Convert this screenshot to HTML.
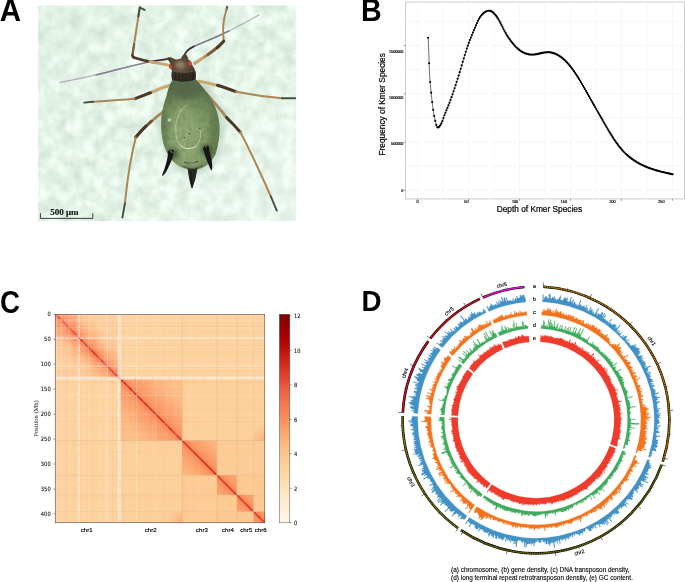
<!DOCTYPE html>
<html lang="en"><head><meta charset="utf-8"><title>Figure 1</title>
<style>
html,body{margin:0;padding:0;background:#fff;}
body{width:685px;height:582px;overflow:hidden;font-family:'Liberation Sans',Arial,sans-serif;}
svg{display:block;}
</style></head><body>
<svg width="685" height="582" viewBox="0 0 685 582">
<rect width="685" height="582" fill="#fff"/>
<g opacity="0.999">
<defs><filter id="paper" x="0" y="0" width="100%" height="100%" color-interpolation-filters="sRGB"><feTurbulence type="fractalNoise" baseFrequency="0.085 0.075" numOctaves="3" seed="11" result="n"/><feColorMatrix in="n" type="matrix" values="0.24 0 0 0 0.764  0.20 0 0 0 0.850  0.23 0 0 0 0.786  0 0 0 0 1"/><feGaussianBlur stdDeviation="0.5"/></filter><filter id="soft" x="-5%" y="-5%" width="110%" height="110%"><feGaussianBlur stdDeviation="0.65"/></filter><filter id="soft2" x="-20%" y="-20%" width="140%" height="140%"><feGaussianBlur stdDeviation="2.2"/></filter><filter id="soft3" x="-20%" y="-20%" width="140%" height="140%"><feGaussianBlur stdDeviation="1.1"/></filter><filter id="bodytex" x="0" y="0" width="100%" height="100%" color-interpolation-filters="sRGB"><feTurbulence type="fractalNoise" baseFrequency="0.22" numOctaves="2" seed="4" result="n"/><feColorMatrix in="n" type="matrix" values="0 0 0 0 0.25  0 0 0 0 0.33  0 0 0 0 0.2  1.6 0 0 0 -0.62"/></filter><clipPath id="phc"><rect x="38.0" y="5.4" width="257.9" height="215.5"/></clipPath><radialGradient id="bodyg" gradientUnits="userSpaceOnUse" cx="188" cy="134" r="46" fx="185" fy="140"><stop offset="0" stop-color="#93ac7a"/><stop offset="0.4" stop-color="#86a06d"/><stop offset="0.72" stop-color="#748d5e"/><stop offset="1" stop-color="#5a724b"/></radialGradient><radialGradient id="headg" cx="0.48" cy="0.42" r="0.6"><stop offset="0" stop-color="#86725a"/><stop offset="0.45" stop-color="#5b4a38"/><stop offset="1" stop-color="#3a2f25"/></radialGradient><linearGradient id="vig" x1="0" y1="0" x2="1" y2="1"><stop offset="0" stop-color="#d6e8dd" stop-opacity="0.3"/><stop offset="0.5" stop-color="#ffffff" stop-opacity="0.08"/><stop offset="1" stop-color="#f4fbf6" stop-opacity="0.4"/></linearGradient></defs><g clip-path="url(#phc)"><rect x="38.0" y="5.4" width="257.9" height="215.5" fill="#e2efe6"/><rect x="36.0" y="3.4000000000000004" width="261.9" height="219.5" filter="url(#paper)"/><rect x="38.0" y="5.4" width="257.9" height="215.5" fill="url(#vig)"/><ellipse cx="193" cy="128" rx="33" ry="47" fill="#b4c9ba" opacity="0.5" filter="url(#soft2)"/><g filter="url(#soft)"><path d="M166 59.3 C158 60.5 152 61.3 146 62.6 C120 68.5 92 76.5 60 82.5" stroke="#8d7f98" stroke-width="1.2" fill="none" stroke-linecap="round" stroke-linejoin="round" opacity="0.6"/><path d="M166 59.3 C158 60.5 152 61.3 146 62.6 C130 66 113 70.8 96 75" stroke="#6a577a" stroke-width="1.4" fill="none" stroke-linecap="round" stroke-linejoin="round" opacity="0.65"/><path d="M168.5 58.8 L152 61.3" stroke="#3a2a33" stroke-width="1.7" fill="none" stroke-linecap="round" stroke-linejoin="round" opacity="0.9"/><path d="M184.5 54.5 C187 50 193 46.5 199.5 44 C216 37.3 238 27 259 15" stroke="#8d7f98" stroke-width="1.2" fill="none" stroke-linecap="round" stroke-linejoin="round" opacity="0.6"/><path d="M184.5 54.5 C187 50 193 46.5 199.5 44 C209 40.2 219 35.8 229 31" stroke="#6a577a" stroke-width="1.4" fill="none" stroke-linecap="round" stroke-linejoin="round" opacity="0.7"/><path d="M184.3 55.5 C185.5 51.5 189 48.5 194 46.2" stroke="#3a2a33" stroke-width="1.6" fill="none" stroke-linecap="round" stroke-linejoin="round" opacity="0.9"/><path d="M144.6 9.9 L139.6 7.3" stroke="#3f5240" stroke-width="1.9" fill="none" stroke-linecap="round" stroke-linejoin="round" opacity="1"/><path d="M139.8 7.6 C138 20 134.6 40 132.3 56" stroke="#ab8757" stroke-width="2.0" fill="none" stroke-linecap="round" stroke-linejoin="round" opacity="1"/><path d="M139.8 7.4 C139.3 10.5 138.8 13.5 138.3 16.5" stroke="#3f5240" stroke-width="1.9" fill="none" stroke-linecap="round" stroke-linejoin="round" opacity="1"/><path d="M134.2 44 C133.5 48 132.9 52 132.3 56" stroke="#7a5c3a" stroke-width="2.1" fill="none" stroke-linecap="round" stroke-linejoin="round" opacity="1"/><path d="M132.3 55.5 L134 57.6" stroke="#4a3826" stroke-width="2.3" fill="none" stroke-linecap="round" stroke-linejoin="round" opacity="1"/><path d="M133 57.2 C139 59.3 147 61.2 155 62.4" stroke="#4a3826" stroke-width="2.5" fill="none" stroke-linecap="round" stroke-linejoin="round" opacity="1"/><path d="M150 61.6 C157 63 164 64.3 171 65.6" stroke="#c9a872" stroke-width="3.0" fill="none" stroke-linecap="round" stroke-linejoin="round" opacity="1"/><path d="M227.2 6.6 L226.3 10.5" stroke="#3f5240" stroke-width="1.9" fill="none" stroke-linecap="round" stroke-linejoin="round" opacity="1"/><path d="M226.5 9.5 C225 14 223.6 20 223.2 26 C222.9 31 223.2 36 223.7 40.6" stroke="#ab8757" stroke-width="2.0" fill="none" stroke-linecap="round" stroke-linejoin="round" opacity="1"/><path d="M218.3 46.6 C211 52.5 203 58.3 194.6 63.3" stroke="#a88a5f" stroke-width="2.9" fill="none" stroke-linecap="round" stroke-linejoin="round" opacity="1"/><path d="M203 58 C200 60 197.3 61.8 194.6 63.3" stroke="#c9a872" stroke-width="3.1" fill="none" stroke-linecap="round" stroke-linejoin="round" opacity="1"/><path d="M218.3 46.6 C215 49.5 211.5 52.2 208 54.6" stroke="#7a6040" stroke-width="2.9" fill="none" stroke-linecap="round" stroke-linejoin="round" opacity="1"/><path d="M223.7 41.2 C221.5 43.6 219.5 45.6 217.2 47.6" stroke="#4a3826" stroke-width="3.0" fill="none" stroke-linecap="round" stroke-linejoin="round" opacity="1"/><path d="M173 84.2 C165 86.5 156 90 148.5 93.6" stroke="#c9a872" stroke-width="3.0" fill="none" stroke-linecap="round" stroke-linejoin="round" opacity="1"/><path d="M150.5 92.7 C145 95 139.6 97 134.6 98.8" stroke="#4a3826" stroke-width="2.9" fill="none" stroke-linecap="round" stroke-linejoin="round" opacity="1"/><path d="M134.6 98.8 C120 100 105 101 93 101.8" stroke="#ab8757" stroke-width="2.0" fill="none" stroke-linecap="round" stroke-linejoin="round" opacity="1"/><path d="M93 101.8 L84.2 102.6" stroke="#3f5240" stroke-width="1.9" fill="none" stroke-linecap="round" stroke-linejoin="round" opacity="1"/><path d="M198.8 81.2 C205 82.3 212 84 219.5 85.9" stroke="#c9a872" stroke-width="3.0" fill="none" stroke-linecap="round" stroke-linejoin="round" opacity="1"/><path d="M217.5 85.3 C224 87.3 230 89.5 235.8 91.7" stroke="#4a3826" stroke-width="3.0" fill="none" stroke-linecap="round" stroke-linejoin="round" opacity="1"/><path d="M235.8 91.7 C250 94.4 266 96.8 282 98.2" stroke="#ab8757" stroke-width="2.0" fill="none" stroke-linecap="round" stroke-linejoin="round" opacity="1"/><path d="M282 98.2 L297 98.3" stroke="#3f5240" stroke-width="1.9" fill="none" stroke-linecap="round" stroke-linejoin="round" opacity="1"/><path d="M165 110.5 C160 114 154.5 118.5 149.5 123" stroke="#a88a5f" stroke-width="2.8" fill="none" stroke-linecap="round" stroke-linejoin="round" opacity="1"/><path d="M151.5 121.2 C146 126 140.5 131.5 135.8 137.2" stroke="#6a5238" stroke-width="2.9" fill="none" stroke-linecap="round" stroke-linejoin="round" opacity="1"/><path d="M146 126 C142 129.8 138.7 133.5 135.8 137.2" stroke="#4a3826" stroke-width="3.0" fill="none" stroke-linecap="round" stroke-linejoin="round" opacity="1"/><path d="M135.8 137.2 C130.5 158 127.2 180 124.9 203.5" stroke="#ab8757" stroke-width="2.0" fill="none" stroke-linecap="round" stroke-linejoin="round" opacity="1"/><path d="M124.9 203.5 L122.4 217.5" stroke="#3f5240" stroke-width="1.9" fill="none" stroke-linecap="round" stroke-linejoin="round" opacity="1"/><path d="M206.5 94 C213.5 101.5 221.5 111 229 120.5" stroke="#a88a5f" stroke-width="2.8" fill="none" stroke-linecap="round" stroke-linejoin="round" opacity="1"/><path d="M226.5 117.5 C231.5 122.3 236 127 240.2 132.1" stroke="#4a3826" stroke-width="3.0" fill="none" stroke-linecap="round" stroke-linejoin="round" opacity="1"/><path d="M240.2 132.1 C251.5 153 261.5 175.5 270.8 196.4" stroke="#ab8757" stroke-width="2.0" fill="none" stroke-linecap="round" stroke-linejoin="round" opacity="1"/><path d="M270.8 196.4 L276.8 210.6" stroke="#3f5240" stroke-width="1.9" fill="none" stroke-linecap="round" stroke-linejoin="round" opacity="1"/><path d="M172.5 79.5 C169.5 85 167.5 90.5 166.5 96 C163 106 160.6 117 161.2 128 C161.8 140 165 151 170.5 158.5 C175 164.3 181.5 168.3 188.5 169.4 C191.5 170 195.5 170 198.5 169.2 C206 167 212 161.5 215.5 154 C218 146 220 136 219.5 126 C219 113 213.5 101 207 92.5 C203.5 88 199.5 83.5 196 79.5 C189 77.3 179.5 77.3 172.5 79.5Z" fill="url(#bodyg)"/><clipPath id="bcl"><path d="M172.5 79.5 C169.5 85 167.5 90.5 166.5 96 C163 106 160.6 117 161.2 128 C161.8 140 165 151 170.5 158.5 C175 164.3 181.5 168.3 188.5 169.4 C191.5 170 195.5 170 198.5 169.2 C206 167 212 161.5 215.5 154 C218 146 220 136 219.5 126 C219 113 213.5 101 207 92.5 C203.5 88 199.5 83.5 196 79.5 C189 77.3 179.5 77.3 172.5 79.5Z"/></clipPath><g clip-path="url(#bcl)"><g filter="url(#soft2)"><ellipse cx="185" cy="87" rx="17" ry="12" fill="#556a4c" opacity="0.75"/><ellipse cx="216" cy="138" rx="7" ry="30" fill="#59733f" opacity="0.55"/><ellipse cx="163" cy="132" rx="5" ry="26" fill="#516e44" opacity="0.5"/><ellipse cx="190" cy="158" rx="17" ry="8" fill="#93ad78" opacity="0.55"/><ellipse cx="183" cy="123" rx="11" ry="18" fill="#97b07d" opacity="0.45"/><ellipse cx="173" cy="154" rx="6" ry="6" fill="#2e3a2a" opacity="0.65"/><ellipse cx="206.5" cy="150" rx="6" ry="6" fill="#2e3a2a" opacity="0.65"/></g><rect x="158" y="76" width="66" height="98" filter="url(#bodytex)" opacity="0.32"/></g><path d="M186.9 105.3 C182 108 179 112 178.3 116.5 C176 121 175.3 126 175.8 129.5 C176 137 177.5 142 180 144.8 C182.5 147.5 185 148.6 187.8 148.6 C191.5 148.6 194.5 147.5 196.4 145.6 C199 142.5 200.5 139 200.6 135.3 C200.7 132.5 200.4 130.5 199.8 128.5" stroke="#dcdcb6" stroke-width="0.75" fill="none" stroke-linecap="round" stroke-linejoin="round" opacity="0.7"/><path d="M180 144.8 C182.5 147.5 185 148.6 187.8 148.6 C191.5 148.6 194.5 147.5 196.4 145.6" stroke="#f0eed0" stroke-width="0.8" fill="none" stroke-linecap="round" stroke-linejoin="round" opacity="0.8"/><ellipse cx="169.3" cy="120" rx="1.6" ry="1.5" fill="#cfe0dc" opacity="0.85"/><circle cx="189.5" cy="133.6" r="0.9" fill="#5a2420" opacity="0.85"/><circle cx="199.8" cy="128.5" r="0.7" fill="#5a2420" opacity="0.85"/><circle cx="184.3" cy="137.6" r="0.7" fill="#5a2420" opacity="0.85"/><circle cx="164.8" cy="126.8" r="0.7" fill="#5a2420" opacity="0.85"/><circle cx="174" cy="138.8" r="0.6" fill="#5a2420" opacity="0.85"/><path d="M166.8 58.2 C168.5 56.8 171 57.2 173.5 58.6 C176 59.8 178.5 59.6 181 58.6 C182 56 183.2 54.2 185 54.2 C187 54.4 187.8 57 188.4 59.5 C190.5 60.5 192 62.5 192.4 65.5 C193.8 67.5 195.2 69.8 195.6 72.5 C196 75 195.8 77.5 195.3 79.6 C189 82.2 178.5 82.2 172.2 79.8 C171.4 77 171.4 73.5 172 70.5 C170.8 68.5 170 66 170.2 63.5 C169.5 61.5 168 59.8 166.8 58.2Z" fill="url(#headg)"/><ellipse cx="180" cy="64.8" rx="4.2" ry="3.2" fill="#9a866c" opacity="0.6" filter="url(#soft3)"/><path d="M172 71 C179 73.2 189 73 195 70.8 C196 73.8 196 77 195.3 79.6 C189 82.2 178.5 82.2 172.2 79.8 C171.5 77 171.5 74 172 71Z" fill="#2f2a22" opacity="0.8"/><path d="M175.5 73.5V79.5M179 74V80.5M182.5 74.2V80.8M186 74.2V80.7M189.5 73.8V80.2M192.7 73V79.5" stroke="#15120e" stroke-width="0.8" fill="none" stroke-linecap="round" stroke-linejoin="round" opacity="0.55"/><path d="M172.6 70.8 C179 73 189 72.8 194.8 70.6" stroke="#8b7a60" stroke-width="0.7" fill="none" stroke-linecap="round" stroke-linejoin="round" opacity="0.5"/><ellipse cx="170.5" cy="66.8" rx="1.5" ry="2.3" fill="#cf4634" transform="rotate(-15 170.5 66.8)"/><ellipse cx="190.2" cy="63.6" rx="1.6" ry="2.4" fill="#d24936" transform="rotate(-12 190.2 63.6)"/><path d="M168.9 152.2 C168.2 160 165.8 168 162.8 175 C164.6 173.5 170 164.5 172.8 154.4Z" fill="#181716" stroke="#181716" stroke-width="1.4" stroke-linejoin="round"/><path d="M204 149.2 C205.6 156 208.4 163 211.4 169.5 C212.2 165 210.4 156 207.8 147.6Z" fill="#181716" stroke="#181716" stroke-width="1.4" stroke-linejoin="round"/><path d="M168.6 151.8 C170 149.3 172.5 149.4 173.3 151.8" stroke="#141414" stroke-width="1.5" fill="none" stroke-linecap="round" stroke-linejoin="round" opacity="1"/><path d="M203.8 148.5 C204.6 145.8 207.6 145.6 208.6 148" stroke="#141414" stroke-width="1.5" fill="none" stroke-linecap="round" stroke-linejoin="round" opacity="1"/><path d="M170 150.4 L171.6 149.2M205.2 146.8 L206.6 145.8" stroke="#e8ece0" stroke-width="0.6" fill="none" stroke-linecap="round" stroke-linejoin="round" opacity="0.7"/><path d="M188.3 168.6 C189 175 190.2 182 192 187.6 C194.3 182 196 175 196.8 168.4 C194 170 191 170 188.3 168.6Z" fill="#262b25" stroke="#262b25" stroke-width="1.2" stroke-linejoin="round"/><path d="M190.5 172 C191 178 191.6 183 192.1 186.8" stroke="#151515" stroke-width="1.4" fill="none" stroke-linecap="round" stroke-linejoin="round" opacity="0.8"/><path d="M184.3 162.2 C188.5 164 194 163.6 198 161.2" stroke="#1f261c" stroke-width="1.0" fill="none" stroke-linecap="round" stroke-linejoin="round" opacity="0.75"/><path d="M187 163.4 C189.5 164 192 163.8 194.5 163" stroke="#e6eadc" stroke-width="0.5" fill="none" stroke-linecap="round" stroke-linejoin="round" opacity="0.6"/><path d="M183 166.3 C188 169.6 197 169.4 202.5 165.5" stroke="#3a4a32" stroke-width="1.1" fill="none" stroke-linecap="round" stroke-linejoin="round" opacity="0.6"/></g></g><path d="M40.4 213.1V218.4H92.8V213.1" stroke="#111" stroke-width="0.8" fill="none"/><text x="64.4" y="214.8" font-family="'Liberation Serif', 'Times New Roman', serif" font-weight="700" font-size="9" text-anchor="middle" fill="#111" stroke="#111" stroke-width="0.15">500 μm</text>
<rect x="405.5" y="2.0" width="279.0" height="196.9" fill="#fff" stroke="#cbcbcb" stroke-width="1"/>
<path d="M417.6 2.0V198.9M443.1 2.0V198.9M468.6 2.0V198.9M494.0 2.0V198.9M519.5 2.0V198.9M545.0 2.0V198.9M570.5 2.0V198.9M595.9 2.0V198.9M621.4 2.0V198.9M646.9 2.0V198.9M672.4 2.0V198.9M405.5 190.4H684.5M405.5 166.2H684.5M405.5 142.1H684.5M405.5 118.0H684.5M405.5 93.8H684.5M405.5 69.7H684.5M405.5 45.5H684.5M405.5 21.4H684.5" stroke="#f3f3f3" stroke-width="0.7" fill="none"/>
<path d="M417.6 198.9v1.8M468.6 198.9v1.8M519.5 198.9v1.8M570.5 198.9v1.8M621.4 198.9v1.8M672.4 198.9v1.8M405.5 190.4h-1.8M405.5 142.1h-1.8M405.5 93.8h-1.8M405.5 45.5h-1.8" stroke="#444" stroke-width="0.55" fill="none"/>
<path d="M428.1 37.7 L428.2 39.3 L428.3 40.9 L428.4 42.5 L428.4 44.2 L428.5 45.8 L428.6 47.4 L428.6 49.0 L428.7 50.6 L428.7 52.2 L428.8 53.8 L428.9 55.4 L428.9 57.0 L429.0 58.7 L429.0 60.3 L429.1 61.9 L429.1 63.5 L429.2 65.1 L429.2 66.7 L429.3 68.3 L429.4 69.9 L429.5 71.5 L429.5 73.2 L429.6 74.8 L429.7 76.4 L429.8 78.0 L429.9 79.6 L430.1 81.2 L430.2 82.8 L430.3 84.4 L430.5 86.0 L430.6 87.7 L430.8 89.3 L431.0 90.9 L431.1 92.5 L431.3 94.1 L431.5 95.7 L431.6 97.3 L431.8 98.8 L432.0 100.4 L432.2 102.0 L432.4 103.7 L432.6 105.3 L432.8 106.9 L433.0 108.6 L433.2 110.2 L433.5 111.8 L433.7 113.3 L434.0 114.8 L434.3 116.3 L434.5 117.7 L434.9 119.2 L435.2 120.9 L435.7 122.7 L436.2 124.8 L436.9 126.5 L437.7 127.5 L438.7 127.3 L439.9 126.0 L440.9 124.3 L441.7 122.7 L442.3 121.2 L442.8 119.8 L443.3 118.4 L443.8 116.9 L444.3 115.5 L444.9 114.0 L445.5 112.5 L446.1 111.0 L446.8 109.4 L447.4 107.9 L448.0 106.4 L448.7 104.9 L449.2 103.4 L449.8 101.8 L450.4 100.3 L450.9 98.8 L451.5 97.3 L452.0 95.8 L452.5 94.3 L453.1 92.8 L453.6 91.3 L454.1 89.7 L454.6 88.2 L455.1 86.7 L455.6 85.1 L456.1 83.6 L456.6 82.1 L457.1 80.5 L457.6 79.0 L458.1 77.5 L458.5 75.9 L459.0 74.4 L459.5 72.8 L460.0 71.3 L460.4 69.7 L460.9 68.2 L461.3 66.6 L461.8 65.1 L462.3 63.5 L462.7 62.0 L463.2 60.4 L463.6 58.9 L464.1 57.3 L464.5 55.8 L465.0 54.3 L465.5 52.7 L466.0 51.2 L466.5 49.6 L467.0 48.1 L467.5 46.6 L468.0 45.1 L468.6 43.5 L469.1 42.0 L469.7 40.5 L470.3 39.0 L470.9 37.5 L471.5 36.0 L472.1 34.5 L472.8 33.0 L473.4 31.5 L474.0 30.0 L474.6 28.6 L475.3 27.1 L475.9 25.6 L476.5 24.1 L477.1 22.7 L477.8 21.2 L478.5 19.8 L479.3 18.4 L480.2 17.0 L481.2 15.7 L482.3 14.4 L483.6 13.2 L485.0 12.2 L486.4 11.3 L487.9 10.8 L489.4 10.7 L490.8 11.1 L492.2 11.8 L493.5 12.8 L494.7 14.1 L495.9 15.5 L496.9 17.0 L497.9 18.4 L498.8 19.8 L499.6 21.3 L500.3 22.7 L501.1 24.1 L501.8 25.5 L502.5 26.9 L503.1 28.3 L503.8 29.7 L504.6 31.1 L505.3 32.5 L506.1 33.9 L507.0 35.2 L507.8 36.6 L508.7 38.0 L509.7 39.3 L510.6 40.6 L511.6 41.9 L512.6 43.2 L513.7 44.5 L514.8 45.7 L515.9 46.9 L517.0 48.0 L518.3 49.1 L519.5 50.1 L520.8 51.1 L522.2 51.9 L523.6 52.7 L525.1 53.3 L526.7 53.8 L528.3 54.2 L529.9 54.5 L531.5 54.6 L533.1 54.6 L534.7 54.4 L536.3 54.2 L537.9 53.9 L539.5 53.6 L541.1 53.2 L542.7 52.8 L544.3 52.5 L545.9 52.3 L547.5 52.2 L549.1 52.2 L550.6 52.4 L552.2 52.8 L553.8 53.2 L555.3 53.8 L556.8 54.5 L558.2 55.3 L559.6 56.1 L561.0 57.0 L562.2 58.0 L563.5 59.1 L564.7 60.1 L565.8 61.3 L567.0 62.4 L568.0 63.6 L569.1 64.8 L570.1 66.1 L571.1 67.4 L572.1 68.6 L573.1 70.0 L574.0 71.3 L574.9 72.6 L575.8 74.0 L576.7 75.3 L577.6 76.7 L578.4 78.0 L579.3 79.4 L580.1 80.8 L580.9 82.2 L581.7 83.6 L582.5 85.0 L583.4 86.4 L584.2 87.8 L585.0 89.1 L585.8 90.6 L586.6 92.0 L587.4 93.4 L588.2 94.8 L588.9 96.2 L589.7 97.6 L590.5 99.0 L591.3 100.4 L592.1 101.8 L592.9 103.2 L593.7 104.6 L594.5 106.0 L595.3 107.4 L596.1 108.8 L596.9 110.2 L597.7 111.6 L598.5 113.0 L599.3 114.4 L600.1 115.8 L600.9 117.2 L601.7 118.6 L602.5 120.0 L603.3 121.4 L604.1 122.8 L604.9 124.2 L605.7 125.6 L606.5 127.0 L607.4 128.4 L608.2 129.8 L609.0 131.2 L609.8 132.5 L610.7 133.9 L611.5 135.3 L612.4 136.7 L613.3 138.0 L614.1 139.4 L615.0 140.7 L616.0 142.1 L616.9 143.4 L617.9 144.7 L618.8 146.0 L619.8 147.2 L620.9 148.5 L621.9 149.7 L623.0 150.9 L624.1 152.1 L625.2 153.2 L626.4 154.4 L627.6 155.4 L628.8 156.5 L630.1 157.5 L631.4 158.5 L632.7 159.4 L634.0 160.4 L635.4 161.2 L636.8 162.1 L638.2 162.9 L639.6 163.7 L641.0 164.5 L642.5 165.2 L643.9 165.9 L645.4 166.5 L646.9 167.1 L648.4 167.7 L649.9 168.3 L651.4 168.8 L653.0 169.3 L654.5 169.8 L656.1 170.3 L657.6 170.7 L659.2 171.2 L660.7 171.6 L662.3 172.0 L663.9 172.3 L665.4 172.7 L667.0 173.1 L668.6 173.4 L670.2 173.7 L671.8 174.1" stroke="#000" stroke-width="0.6" fill="none" stroke-linejoin="round"/>
<path d="M428.10 37.70h0M429.11 63.21h0M430.13 82.02h0M431.15 92.67h0M432.17 102.00h0M433.19 109.82h0M434.21 116.01h0M435.23 120.80h0M436.25 124.90h0M437.27 127.19h0M438.29 127.52h0M439.30 126.67h0M440.32 125.25h0M441.34 123.43h0M442.36 121.05h0M443.38 118.06h0M444.40 115.27h0M445.42 112.71h0M446.44 110.26h0M447.46 107.82h0M448.48 105.32h0M449.49 102.71h0M450.51 100.00h0M451.53 97.18h0M452.55 94.27h0M453.57 91.29h0M454.59 88.25h0M455.61 85.15h0M456.63 82.00h0M457.65 78.79h0M458.67 75.52h0M459.68 72.19h0M460.70 68.80h0M461.72 65.35h0M462.74 61.87h0M463.76 58.42h0M464.78 55.04h0M465.80 51.76h0M466.82 48.62h0M467.84 45.63h0M468.86 42.81h0M469.87 40.12h0M470.89 37.55h0M471.91 35.04h0M472.93 32.60h0M473.95 30.18h0M474.97 27.77h0M475.99 25.36h0M477.01 22.96h0M478.03 20.74h0M479.05 18.80h0M480.06 17.17h0M481.08 15.79h0M482.10 14.61h0M483.12 13.60h0M484.14 12.74h0M485.16 12.02h0M486.18 11.44h0M487.20 11.02h0M488.22 10.76h0M489.24 10.71h0M490.25 10.88h0M491.27 11.27h0M492.29 11.88h0M493.31 12.69h0M494.33 13.69h0M495.35 14.86h0M496.37 16.19h0M497.39 17.67h0M498.41 19.27h0M499.43 21.01h0M500.44 22.90h0M501.46 24.91h0M502.48 26.98h0M503.50 29.03h0M504.52 30.98h0M505.54 32.83h0M506.56 34.57h0M507.58 36.21h0M508.60 37.77h0M509.62 39.25h0M510.63 40.66h0M511.65 42.00h0M512.67 43.28h0M513.69 44.49h0M514.71 45.64h0M515.73 46.73h0M516.75 47.75h0M517.77 48.69h0M518.79 49.56h0M519.81 50.35h0M520.82 51.07h0M521.84 51.71h0M522.86 52.28h0M523.88 52.77h0M524.90 53.20h0M525.92 53.57h0M526.94 53.88h0M527.96 54.14h0M528.98 54.34h0M530.00 54.48h0M531.01 54.57h0M532.03 54.60h0M533.05 54.58h0M534.07 54.51h0M535.09 54.39h0M536.11 54.24h0M537.13 54.06h0M538.15 53.86h0M539.17 53.63h0M540.19 53.40h0M541.20 53.17h0M542.22 52.94h0M543.24 52.73h0M544.26 52.54h0M545.28 52.38h0M546.30 52.27h0M547.32 52.20h0M548.34 52.19h0M549.36 52.25h0M550.38 52.37h0M551.39 52.56h0M552.41 52.80h0M553.43 53.11h0M554.45 53.46h0M555.47 53.88h0M556.49 54.35h0M557.51 54.87h0M558.53 55.45h0M559.55 56.08h0M560.57 56.77h0M561.58 57.52h0M562.60 58.32h0M563.62 59.19h0M564.64 60.11h0M565.66 61.09h0M566.68 62.12h0M567.70 63.22h0M568.72 64.38h0M569.74 65.59h0M570.76 66.87h0M571.77 68.20h0M572.79 69.58h0M573.81 71.02h0M574.83 72.50h0M575.85 74.02h0M576.87 75.59h0M577.89 77.19h0M578.91 78.84h0M579.93 80.52h0M580.95 82.22h0M581.96 83.95h0M582.98 85.71h0M584.00 87.47h0M585.02 89.25h0M586.04 91.03h0M587.06 92.83h0M588.08 94.62h0M589.10 96.43h0M590.12 98.23h0M591.14 100.03h0M592.15 101.83h0M593.17 103.63h0M594.19 105.42h0M595.21 107.21h0M596.23 109.00h0M597.25 110.78h0M598.27 112.56h0M599.29 114.34h0M600.31 116.12h0M601.33 117.90h0M602.34 119.68h0M603.36 121.46h0M604.38 123.24h0M605.40 125.02h0M606.42 126.78h0M607.44 128.53h0M608.46 130.26h0M609.48 131.97h0M610.50 133.64h0M611.52 135.29h0M612.53 136.90h0M613.55 138.48h0M614.57 140.02h0M615.59 141.52h0M616.61 142.97h0M617.63 144.38h0M618.65 145.74h0M619.67 147.04h0M620.69 148.29h0M621.71 149.50h0M622.72 150.65h0M623.74 151.75h0M624.76 152.79h0M625.78 153.79h0M626.80 154.74h0M627.82 155.65h0M628.84 156.51h0M629.86 157.34h0M630.88 158.13h0M631.90 158.89h0M632.91 159.61h0M633.93 160.31h0M634.95 160.98h0M635.97 161.62h0M636.99 162.24h0M638.01 162.83h0M639.03 163.40h0M640.05 163.95h0M641.07 164.48h0M642.09 164.98h0M643.10 165.47h0M644.12 165.94h0M645.14 166.39h0M646.16 166.82h0M647.18 167.24h0M648.20 167.64h0M649.22 168.02h0M650.24 168.39h0M651.26 168.75h0M652.28 169.10h0M653.29 169.43h0M654.31 169.75h0M655.33 170.07h0M656.35 170.37h0M657.37 170.66h0M658.39 170.94h0M659.41 171.22h0M660.43 171.48h0M661.45 171.74h0M662.47 172.00h0M663.48 172.24h0M664.50 172.49h0M665.52 172.72h0M666.54 172.95h0M667.56 173.18h0M668.58 173.40h0M669.60 173.62h0M670.62 173.84h0M671.64 174.06h0M672.66 174.27h0" stroke="#000" stroke-width="2.15" stroke-linecap="round" fill="none"/>
<g font-family="'Liberation Sans', Arial, sans-serif" font-size="3.7" fill="#000" stroke="#000" stroke-width="0.18">
<text x="417.6" y="203.4" text-anchor="middle">0</text>
<text x="466.4" y="203.4" text-anchor="middle">50</text>
<text x="515.1" y="203.4" text-anchor="middle">100</text>
<text x="563.9" y="203.4" text-anchor="middle">150</text>
<text x="612.6" y="203.4" text-anchor="middle">200</text>
<text x="661.4" y="203.4" text-anchor="middle">250</text>
<text x="403.4" y="191.7" text-anchor="end">0</text>
<text x="403.4" y="145.4" text-anchor="end">500000</text>
<text x="403.4" y="99.1" text-anchor="end">1000000</text>
<text x="403.4" y="52.8" text-anchor="end">1500000</text>
</g>
<text x="539.4" y="211.7" font-family="'Liberation Sans', Arial, sans-serif" font-size="8.3" text-anchor="middle" fill="#000" stroke="#000" stroke-width="0.22">Depth of Kmer Species</text>
<text transform="translate(385 104.3) rotate(-90)" font-family="'Liberation Sans', Arial, sans-serif" font-size="8.3" text-anchor="middle" fill="#000" stroke="#000" stroke-width="0.22">Frequency of Kmer Species</text>
<defs><linearGradient id="hg0" gradientUnits="userSpaceOnUse" x1="55.20" y1="378.66" x2="119.90" y2="314.30"><stop offset="0.0069" stop-color="#fdca94"/><stop offset="0.1494" stop-color="#fdca94"/><stop offset="0.2370" stop-color="#fdca94"/><stop offset="0.3028" stop-color="#fdc38c"/><stop offset="0.3575" stop-color="#fdb881"/><stop offset="0.4014" stop-color="#fda872"/><stop offset="0.4343" stop-color="#fc9b66"/><stop offset="0.4562" stop-color="#fc8f5b"/><stop offset="0.4726" stop-color="#f98556"/><stop offset="0.4836" stop-color="#f67a51"/><stop offset="0.4907" stop-color="#f26e4c"/><stop offset="0.4956" stop-color="#d42c1c"/><stop offset="0.5000" stop-color="#d42c1c"/><stop offset="0.5044" stop-color="#d42c1c"/><stop offset="0.5093" stop-color="#f26e4c"/><stop offset="0.5164" stop-color="#f67a51"/><stop offset="0.5274" stop-color="#f98556"/><stop offset="0.5438" stop-color="#fc8f5b"/><stop offset="0.5657" stop-color="#fc9b66"/><stop offset="0.5986" stop-color="#fda872"/><stop offset="0.6425" stop-color="#fdb881"/><stop offset="0.6972" stop-color="#fdc38c"/><stop offset="0.7630" stop-color="#fdca94"/><stop offset="0.8506" stop-color="#fdca94"/><stop offset="0.9931" stop-color="#fdca94"/></linearGradient><linearGradient id="hg1" gradientUnits="userSpaceOnUse" x1="119.90" y1="440.53" x2="182.10" y2="378.66"><stop offset="0.1353" stop-color="#fdbc85"/><stop offset="0.2264" stop-color="#fdb57e"/><stop offset="0.2948" stop-color="#fdac76"/><stop offset="0.3518" stop-color="#fca36e"/><stop offset="0.3974" stop-color="#fc9e69"/><stop offset="0.4316" stop-color="#fc9863"/><stop offset="0.4544" stop-color="#fc925e"/><stop offset="0.4715" stop-color="#fb8b58"/><stop offset="0.4829" stop-color="#f98254"/><stop offset="0.4903" stop-color="#f57850"/><stop offset="0.4954" stop-color="#d42c1c"/><stop offset="0.5000" stop-color="#d42c1c"/><stop offset="0.5046" stop-color="#d42c1c"/><stop offset="0.5097" stop-color="#f57850"/><stop offset="0.5171" stop-color="#f98254"/><stop offset="0.5285" stop-color="#fb8b58"/><stop offset="0.5456" stop-color="#fc925e"/><stop offset="0.5684" stop-color="#fc9863"/><stop offset="0.6026" stop-color="#fc9e69"/><stop offset="0.6482" stop-color="#fca36e"/><stop offset="0.7052" stop-color="#fdac76"/><stop offset="0.7736" stop-color="#fdb57e"/><stop offset="0.8647" stop-color="#fdbc85"/></linearGradient><linearGradient id="hg2" gradientUnits="userSpaceOnUse" x1="182.10" y1="475.15" x2="216.90" y2="440.53"><stop offset="0.0111" stop-color="#fdba83"/><stop offset="0.1333" stop-color="#fdb27b"/><stop offset="0.2352" stop-color="#fda973"/><stop offset="0.3166" stop-color="#fca06b"/><stop offset="0.3778" stop-color="#fc9b66"/><stop offset="0.4185" stop-color="#fc9560"/><stop offset="0.4491" stop-color="#fc8c59"/><stop offset="0.4694" stop-color="#f98455"/><stop offset="0.4827" stop-color="#f57850"/><stop offset="0.4919" stop-color="#d42c1c"/><stop offset="0.5000" stop-color="#d42c1c"/><stop offset="0.5081" stop-color="#d42c1c"/><stop offset="0.5173" stop-color="#f57850"/><stop offset="0.5306" stop-color="#f98455"/><stop offset="0.5509" stop-color="#fc8c59"/><stop offset="0.5815" stop-color="#fc9560"/><stop offset="0.6222" stop-color="#fc9b66"/><stop offset="0.6834" stop-color="#fca06b"/><stop offset="0.7648" stop-color="#fda973"/><stop offset="0.8667" stop-color="#fdb27b"/><stop offset="0.9889" stop-color="#fdba83"/></linearGradient><linearGradient id="hg3" gradientUnits="userSpaceOnUse" x1="216.90" y1="494.95" x2="236.80" y2="475.15"><stop offset="0.0369" stop-color="#fda872"/><stop offset="0.1794" stop-color="#fca06b"/><stop offset="0.2862" stop-color="#fc9b66"/><stop offset="0.3575" stop-color="#fc9560"/><stop offset="0.4109" stop-color="#fc8c59"/><stop offset="0.4466" stop-color="#f98455"/><stop offset="0.4697" stop-color="#f57850"/><stop offset="0.4857" stop-color="#d42c1c"/><stop offset="0.5000" stop-color="#d42c1c"/><stop offset="0.5143" stop-color="#d42c1c"/><stop offset="0.5303" stop-color="#f57850"/><stop offset="0.5534" stop-color="#f98455"/><stop offset="0.5891" stop-color="#fc8c59"/><stop offset="0.6425" stop-color="#fc9560"/><stop offset="0.7138" stop-color="#fc9b66"/><stop offset="0.8206" stop-color="#fca06b"/><stop offset="0.9631" stop-color="#fda872"/></linearGradient><linearGradient id="hg4" gradientUnits="userSpaceOnUse" x1="236.80" y1="511.56" x2="253.50" y2="494.95"><stop offset="0.1179" stop-color="#fca06b"/><stop offset="0.2453" stop-color="#fc9b66"/><stop offset="0.3302" stop-color="#fc9560"/><stop offset="0.3939" stop-color="#fc8c59"/><stop offset="0.4363" stop-color="#f98455"/><stop offset="0.4639" stop-color="#f57850"/><stop offset="0.4830" stop-color="#d42c1c"/><stop offset="0.5000" stop-color="#d42c1c"/><stop offset="0.5170" stop-color="#d42c1c"/><stop offset="0.5361" stop-color="#f57850"/><stop offset="0.5637" stop-color="#f98455"/><stop offset="0.6061" stop-color="#fc8c59"/><stop offset="0.6698" stop-color="#fc9560"/><stop offset="0.7547" stop-color="#fc9b66"/><stop offset="0.8821" stop-color="#fca06b"/></linearGradient><linearGradient id="hg5" gradientUnits="userSpaceOnUse" x1="253.50" y1="522.80" x2="264.80" y2="511.56"><stop offset="0.1236" stop-color="#fc9964"/><stop offset="0.2490" stop-color="#fc9560"/><stop offset="0.3431" stop-color="#fc8c59"/><stop offset="0.4059" stop-color="#f98455"/><stop offset="0.4467" stop-color="#f57850"/><stop offset="0.4749" stop-color="#d42c1c"/><stop offset="0.5000" stop-color="#d42c1c"/><stop offset="0.5251" stop-color="#d42c1c"/><stop offset="0.5533" stop-color="#f57850"/><stop offset="0.5941" stop-color="#f98455"/><stop offset="0.6569" stop-color="#fc8c59"/><stop offset="0.7510" stop-color="#fc9560"/><stop offset="0.8764" stop-color="#fc9964"/></linearGradient><radialGradient id="hcg"><stop offset="0" stop-color="#fc8c59" stop-opacity="0.55"/><stop offset="1" stop-color="#fc9f6a" stop-opacity="0"/></radialGradient><clipPath id="hc0"><rect x="253.5" y="378.7" width="11.3" height="61.9"/></clipPath><clipPath id="hc1"><rect x="119.9" y="511.6" width="62.2" height="11.2"/></clipPath><linearGradient id="cbg" x1="0" y1="0" x2="0" y2="1"><stop offset="0.0000" stop-color="#7f0000"/><stop offset="0.0417" stop-color="#8f0000"/><stop offset="0.0833" stop-color="#a10000"/><stop offset="0.1250" stop-color="#b20000"/><stop offset="0.1667" stop-color="#be0f0a"/><stop offset="0.2083" stop-color="#cb2015"/><stop offset="0.2500" stop-color="#d62f1e"/><stop offset="0.2917" stop-color="#df412c"/><stop offset="0.3333" stop-color="#e7533a"/><stop offset="0.3750" stop-color="#ef6447"/><stop offset="0.4167" stop-color="#f3724e"/><stop offset="0.4583" stop-color="#f88053"/><stop offset="0.5000" stop-color="#fc8c59"/><stop offset="0.5417" stop-color="#fc9c67"/><stop offset="0.5833" stop-color="#fdac76"/><stop offset="0.6250" stop-color="#fdba83"/><stop offset="0.6667" stop-color="#fdc38d"/><stop offset="0.7083" stop-color="#fdcc96"/><stop offset="0.7500" stop-color="#fdd49e"/><stop offset="0.7917" stop-color="#fddbac"/><stop offset="0.8333" stop-color="#fee2bb"/><stop offset="0.8750" stop-color="#fee8c8"/><stop offset="0.9167" stop-color="#feedd4"/><stop offset="0.9583" stop-color="#fff2e1"/><stop offset="1.0000" stop-color="#fff7ec"/></linearGradient></defs>
<g><rect x="55.2" y="314.3" width="209.6" height="208.5" fill="#fdcf99"/><rect x="55.2" y="378.7" width="64.7" height="61.9" fill="#fdd19b"/><rect x="55.2" y="440.5" width="64.7" height="34.6" fill="#fdd19b"/><rect x="55.2" y="475.2" width="64.7" height="19.8" fill="#fdd19b"/><rect x="55.2" y="494.9" width="64.7" height="16.6" fill="#fdd19b"/><rect x="55.2" y="511.6" width="64.7" height="11.2" fill="#fdd19b"/><rect x="119.9" y="314.3" width="62.2" height="64.4" fill="#fdd19b"/><rect x="119.9" y="440.5" width="62.2" height="34.6" fill="#fdcf99"/><rect x="119.9" y="475.2" width="62.2" height="19.8" fill="#fdcf99"/><rect x="119.9" y="494.9" width="62.2" height="16.6" fill="#fdcf99"/><rect x="119.9" y="511.6" width="62.2" height="11.2" fill="#fdcf99"/><rect x="182.1" y="314.3" width="34.8" height="64.4" fill="#fdd19b"/><rect x="182.1" y="378.7" width="34.8" height="61.9" fill="#fdcf99"/><rect x="182.1" y="475.2" width="34.8" height="19.8" fill="#fdcb95"/><rect x="182.1" y="494.9" width="34.8" height="16.6" fill="#fdcb95"/><rect x="182.1" y="511.6" width="34.8" height="11.2" fill="#fdcb95"/><rect x="216.9" y="314.3" width="19.9" height="64.4" fill="#fdd19b"/><rect x="216.9" y="378.7" width="19.9" height="61.9" fill="#fdcf99"/><rect x="216.9" y="440.5" width="19.9" height="34.6" fill="#fdcb95"/><rect x="216.9" y="494.9" width="19.9" height="16.6" fill="#fdc992"/><rect x="216.9" y="511.6" width="19.9" height="11.2" fill="#fdc992"/><rect x="236.8" y="314.3" width="16.7" height="64.4" fill="#fdd19b"/><rect x="236.8" y="378.7" width="16.7" height="61.9" fill="#fdcf99"/><rect x="236.8" y="440.5" width="16.7" height="34.6" fill="#fdcb95"/><rect x="236.8" y="475.2" width="16.7" height="19.8" fill="#fdc992"/><rect x="236.8" y="511.6" width="16.7" height="11.2" fill="#fdc992"/><rect x="253.5" y="314.3" width="11.3" height="64.4" fill="#fdd19b"/><rect x="253.5" y="378.7" width="11.3" height="61.9" fill="#fdcf99"/><rect x="253.5" y="440.5" width="11.3" height="34.6" fill="#fdcb95"/><rect x="253.5" y="475.2" width="11.3" height="19.8" fill="#fdc992"/><rect x="253.5" y="494.9" width="11.3" height="16.6" fill="#fdc992"/><rect x="55.2" y="314.3" width="64.7" height="64.4" fill="url(#hg0)"/><rect x="119.9" y="378.7" width="62.2" height="61.9" fill="url(#hg1)"/><rect x="182.1" y="440.5" width="34.8" height="34.6" fill="url(#hg2)"/><rect x="216.9" y="475.2" width="19.9" height="19.8" fill="url(#hg3)"/><rect x="236.8" y="494.9" width="16.7" height="16.6" fill="url(#hg4)"/><rect x="253.5" y="511.6" width="11.3" height="11.2" fill="url(#hg5)"/><rect x="55.2" y="314.3" width="23.5" height="23.4" fill="#fc8c59" opacity="0.3"/><circle cx="264.8" cy="440.5" r="16" fill="url(#hcg)" clip-path="url(#hc0)"/><circle cx="182.1" cy="522.8" r="16" fill="url(#hcg)" clip-path="url(#hc1)"/><path d="M123.1 314.3V522.8M55.2 381.8H264.8" stroke="#fff6ea" stroke-opacity="0.07" stroke-width="0.8" fill="none"/><path d="M65.3 314.3V522.8M55.2 324.4H264.8" stroke="#fff6ea" stroke-opacity="0.15" stroke-width="0.5" fill="none"/><path d="M131.8 314.3V522.8M55.2 390.5H264.8" stroke="#fff6ea" stroke-opacity="0.06" stroke-width="0.8" fill="none"/><path d="M100.2 314.3V522.8M55.2 359.1H264.8" stroke="#fff6ea" stroke-opacity="0.06" stroke-width="0.6" fill="none"/><path d="M69.8 314.3V522.8M55.2 328.9H264.8" stroke="#fff6ea" stroke-opacity="0.06" stroke-width="0.6" fill="none"/><path d="M67.6 314.3V522.8M55.2 326.6H264.8" stroke="#fff6ea" stroke-opacity="0.12" stroke-width="0.5" fill="none"/><path d="M187.4 314.3V522.8M55.2 445.8H264.8" stroke="#fff6ea" stroke-opacity="0.06" stroke-width="0.5" fill="none"/><path d="M176.2 314.3V522.8M55.2 434.6H264.8" stroke="#fff6ea" stroke-opacity="0.10" stroke-width="0.5" fill="none"/><path d="M65.0 314.3V522.8M55.2 324.0H264.8" stroke="#fff6ea" stroke-opacity="0.15" stroke-width="0.6" fill="none"/><path d="M143.1 314.3V522.8M55.2 401.7H264.8" stroke="#fff6ea" stroke-opacity="0.11" stroke-width="0.8" fill="none"/><path d="M119.9 314.3V522.8M55.2 378.6H264.8" stroke="#fff6ea" stroke-opacity="0.15" stroke-width="0.5" fill="none"/><path d="M76.8 314.3V522.8M55.2 335.8H264.8" stroke="#fff6ea" stroke-opacity="0.12" stroke-width="0.5" fill="none"/><path d="M133.3 314.3V522.8M55.2 391.9H264.8" stroke="#fff6ea" stroke-opacity="0.12" stroke-width="0.5" fill="none"/><path d="M173.5 314.3V522.8M55.2 432.0H264.8" stroke="#fff6ea" stroke-opacity="0.12" stroke-width="0.6" fill="none"/><path d="M197.8 314.3V522.8M55.2 456.2H264.8" stroke="#fff6ea" stroke-opacity="0.05" stroke-width="0.6" fill="none"/><path d="M152.8 314.3V522.8M55.2 411.4H264.8" stroke="#fff6ea" stroke-opacity="0.16" stroke-width="0.6" fill="none"/><path d="M118.0 314.3V522.8M55.2 376.8H264.8" stroke="#fff6ea" stroke-opacity="0.15" stroke-width="0.8" fill="none"/><path d="M218.7 314.3V522.8M55.2 476.9H264.8" stroke="#fff6ea" stroke-opacity="0.03" stroke-width="0.6" fill="none"/><path d="M165.3 314.3V522.8M55.2 423.8H264.8" stroke="#fff6ea" stroke-opacity="0.16" stroke-width="0.8" fill="none"/><path d="M149.3 314.3V522.8M55.2 407.9H264.8" stroke="#fff6ea" stroke-opacity="0.12" stroke-width="0.5" fill="none"/><path d="M79.9 314.3V522.8M55.2 338.9H264.8" stroke="#fff6ea" stroke-opacity="0.10" stroke-width="0.6" fill="none"/><path d="M87.1 314.3V522.8M55.2 346.0H264.8" stroke="#fff6ea" stroke-opacity="0.11" stroke-width="0.5" fill="none"/><path d="M256.8 314.3V522.8M55.2 514.9H264.8" stroke="#fff6ea" stroke-opacity="0.03" stroke-width="0.8" fill="none"/><path d="M175.3 314.3V522.8M55.2 433.8H264.8" stroke="#fff6ea" stroke-opacity="0.16" stroke-width="0.6" fill="none"/><path d="M126.5 314.3V522.8M55.2 385.2H264.8" stroke="#fff6ea" stroke-opacity="0.09" stroke-width="0.6" fill="none"/><path d="M176.7 314.3V522.8M55.2 435.2H264.8" stroke="#fff6ea" stroke-opacity="0.10" stroke-width="0.5" fill="none"/><path d="M253.2 314.3V522.8M55.2 511.3H264.8" stroke="#fff6ea" stroke-opacity="0.05" stroke-width="0.8" fill="none"/><path d="M68.8 314.3V522.8M55.2 327.9H264.8" stroke="#fff6ea" stroke-opacity="0.14" stroke-width="0.6" fill="none"/><path d="M190.8 314.3V522.8M55.2 449.2H264.8" stroke="#fff6ea" stroke-opacity="0.08" stroke-width="0.6" fill="none"/><path d="M114.9 314.3V522.8M55.2 373.6H264.8" stroke="#fff6ea" stroke-opacity="0.10" stroke-width="0.8" fill="none"/><path d="M127.9 314.3V522.8M55.2 386.7H264.8" stroke="#fff6ea" stroke-opacity="0.16" stroke-width="0.6" fill="none"/><path d="M90.4 314.3V522.8M55.2 349.3H264.8" stroke="#fff6ea" stroke-opacity="0.06" stroke-width="0.5" fill="none"/><path d="M100.9 314.3V522.8M55.2 359.8H264.8" stroke="#fff6ea" stroke-opacity="0.08" stroke-width="0.8" fill="none"/><path d="M107.1 314.3V522.8M55.2 365.9H264.8" stroke="#fff6ea" stroke-opacity="0.10" stroke-width="0.6" fill="none"/><path d="M72.1 314.3V522.8M55.2 331.1H264.8" stroke="#fff6ea" stroke-opacity="0.10" stroke-width="0.8" fill="none"/><path d="M113.4 314.3V522.8M55.2 372.2H264.8" stroke="#fff6ea" stroke-opacity="0.07" stroke-width="0.6" fill="none"/><path d="M236.3 314.3V522.8M55.2 494.4H264.8" stroke="#fff6ea" stroke-opacity="0.04" stroke-width="0.6" fill="none"/><path d="M262.0 314.3V522.8M55.2 520.0H264.8" stroke="#fff6ea" stroke-opacity="0.07" stroke-width="0.6" fill="none"/><path d="M255.9 314.3V522.8M55.2 514.0H264.8" stroke="#fff6ea" stroke-opacity="0.03" stroke-width="0.5" fill="none"/><path d="M86.9 314.3V522.8M55.2 345.8H264.8" stroke="#fff6ea" stroke-opacity="0.13" stroke-width="0.5" fill="none"/><path d="M156.8 314.3V522.8M55.2 415.4H264.8" stroke="#fff6ea" stroke-opacity="0.12" stroke-width="0.6" fill="none"/><path d="M114.3 314.3V522.8M55.2 373.1H264.8" stroke="#fff6ea" stroke-opacity="0.07" stroke-width="0.8" fill="none"/><path d="M132.6 314.3V522.8M55.2 391.3H264.8" stroke="#fff6ea" stroke-opacity="0.12" stroke-width="0.5" fill="none"/><path d="M199.9 314.3V522.8M55.2 458.3H264.8" stroke="#fff6ea" stroke-opacity="0.06" stroke-width="0.8" fill="none"/><path d="M192.5 314.3V522.8M55.2 450.9H264.8" stroke="#fff6ea" stroke-opacity="0.07" stroke-width="0.6" fill="none"/><path d="M243.7 314.3V522.8M55.2 501.9H264.8" stroke="#fff6ea" stroke-opacity="0.07" stroke-width="0.8" fill="none"/><path d="M222.4 314.3V522.8M55.2 480.7H264.8" stroke="#fff6ea" stroke-opacity="0.05" stroke-width="0.6" fill="none"/><path d="M137.8 314.3V522.8M55.2 396.5H264.8" stroke="#fff6ea" stroke-opacity="0.11" stroke-width="0.6" fill="none"/><path d="M68.2 314.3V522.8M55.2 327.3H264.8" stroke="#fff6ea" stroke-opacity="0.06" stroke-width="0.5" fill="none"/><path d="M147.6 314.3V522.8M55.2 406.2H264.8" stroke="#fff6ea" stroke-opacity="0.06" stroke-width="0.8" fill="none"/><path d="M66.2 314.3V522.8M55.2 325.3H264.8" stroke="#fff6ea" stroke-opacity="0.05" stroke-width="0.5" fill="none"/><path d="M167.7 314.3V522.8M55.2 426.2H264.8" stroke="#fff6ea" stroke-opacity="0.16" stroke-width="0.8" fill="none"/><path d="M60.5 314.3V522.8M55.2 319.6H264.8" stroke="#fff6ea" stroke-opacity="0.15" stroke-width="0.8" fill="none"/><path d="M134.1 314.3V522.8M55.2 392.7H264.8" stroke="#fff6ea" stroke-opacity="0.13" stroke-width="0.6" fill="none"/><path d="M181.4 314.3V522.8M55.2 439.9H264.8" stroke="#fff6ea" stroke-opacity="0.11" stroke-width="0.5" fill="none"/><path d="M233.1 314.3V522.8M55.2 491.3H264.8" stroke="#fff6ea" stroke-opacity="0.08" stroke-width="0.6" fill="none"/><path d="M155.9 314.3V522.8M55.2 414.5H264.8" stroke="#fff6ea" stroke-opacity="0.09" stroke-width="0.5" fill="none"/><path d="M76.6 314.3V522.8M55.2 335.6H264.8" stroke="#fff6ea" stroke-opacity="0.09" stroke-width="0.6" fill="none"/><path d="M155.5 314.3V522.8M55.2 414.1H264.8" stroke="#fff6ea" stroke-opacity="0.13" stroke-width="0.8" fill="none"/><path d="M60.0 314.3V522.8M55.2 319.1H264.8" stroke="#fff6ea" stroke-opacity="0.16" stroke-width="0.8" fill="none"/><path d="M78.6 314.3V522.8M55.2 337.6H264.8" stroke="#fff6ea" stroke-opacity="0.20" stroke-width="0.5" fill="none"/><path d="M104.3 314.3V522.8M55.2 363.1H264.8" stroke="#fff6ea" stroke-opacity="0.13" stroke-width="0.9" fill="none"/><path d="M111.1 314.3V522.8M55.2 369.9H264.8" stroke="#fff6ea" stroke-opacity="0.21" stroke-width="0.7" fill="none"/><path d="M88.7 314.3V522.8M55.2 347.7H264.8" stroke="#fff6ea" stroke-opacity="0.24" stroke-width="0.7" fill="none"/><path d="M105.1 314.3V522.8M55.2 364.0H264.8" stroke="#fff6ea" stroke-opacity="0.18" stroke-width="0.9" fill="none"/><path d="M76.5 314.3V522.8M55.2 335.5H264.8" stroke="#fff6ea" stroke-opacity="0.12" stroke-width="0.5" fill="none"/><path d="M107.4 314.3V522.8M55.2 366.2H264.8" stroke="#fff6ea" stroke-opacity="0.23" stroke-width="0.9" fill="none"/><path d="M107.2 314.3V522.8M55.2 366.0H264.8" stroke="#fff6ea" stroke-opacity="0.12" stroke-width="0.7" fill="none"/><path d="M78.2 314.3V522.8M55.2 337.2H264.8" stroke="#fff6ea" stroke-opacity="0.09" stroke-width="0.5" fill="none"/><path d="M106.3 314.3V522.8M55.2 365.2H264.8" stroke="#fff6ea" stroke-opacity="0.17" stroke-width="0.5" fill="none"/><path d="M100.0 314.3V522.8M55.2 358.9H264.8" stroke="#fff6ea" stroke-opacity="0.25" stroke-width="0.7" fill="none"/><path d="M107.5 314.3V522.8M55.2 366.3H264.8" stroke="#fff6ea" stroke-opacity="0.21" stroke-width="0.7" fill="none"/><path d="M117.0 314.3V522.8M55.2 375.8H264.8" stroke="#fff6ea" stroke-opacity="0.15" stroke-width="0.5" fill="none"/><path d="M61.8 314.3V522.8M55.2 320.9H264.8" stroke="#fff6ea" stroke-opacity="0.16" stroke-width="0.7" fill="none"/><path d="M68.4 314.3V522.8M55.2 327.5H264.8" stroke="#fff6ea" stroke-opacity="0.19" stroke-width="0.9" fill="none"/><path d="M109.6 314.3V522.8M55.2 368.4H264.8" stroke="#fff6ea" stroke-opacity="0.17" stroke-width="0.9" fill="none"/><path d="M77.5 314.3V522.8M55.2 336.4H264.8" stroke="#fff6ea" stroke-opacity="0.20" stroke-width="0.9" fill="none"/><path d="M63.0 314.3V522.8M55.2 322.0H264.8" stroke="#fff6ea" stroke-opacity="0.15" stroke-width="0.9" fill="none"/><path d="M103.7 314.3V522.8M55.2 362.6H264.8" stroke="#fff6ea" stroke-opacity="0.17" stroke-width="0.5" fill="none"/><path d="M83.3 314.3V522.8M55.2 342.2H264.8" stroke="#fff6ea" stroke-opacity="0.19" stroke-width="0.5" fill="none"/><path d="M107.0 314.3V522.8M55.2 365.8H264.8" stroke="#fff6ea" stroke-opacity="0.25" stroke-width="0.7" fill="none"/><path d="M85.2 314.3V522.8M55.2 344.1H264.8" stroke="#fff6ea" stroke-opacity="0.21" stroke-width="0.5" fill="none"/><path d="M102.1 314.3V522.8M55.2 360.9H264.8" stroke="#fff6ea" stroke-opacity="0.11" stroke-width="0.5" fill="none"/><path d="M57.0 314.3V522.8M55.2 316.1H264.8" stroke="#fff6ea" stroke-opacity="0.19" stroke-width="0.7" fill="none"/><path d="M107.4 314.3V522.8M55.2 366.2H264.8" stroke="#fff6ea" stroke-opacity="0.11" stroke-width="0.9" fill="none"/><path d="M118.6 314.3V522.8M55.2 377.4H264.8" stroke="#fff6ea" stroke-opacity="0.20" stroke-width="0.7" fill="none"/><path d="M65.3 314.3V522.8M55.2 324.3H264.8" stroke="#fff6ea" stroke-opacity="0.18" stroke-width="0.5" fill="none"/><path d="M56.1 314.3V522.8M55.2 315.2H264.8" stroke="#fff6ea" stroke-opacity="0.25" stroke-width="0.9" fill="none"/><path d="M61.8 314.3V522.8M55.2 320.9H264.8" stroke="#fff6ea" stroke-opacity="0.21" stroke-width="0.5" fill="none"/><path d="M83.3 314.3V522.8M55.2 342.2H264.8" stroke="#fff6ea" stroke-opacity="0.24" stroke-width="0.5" fill="none"/><path d="M57.0 314.3V522.8M55.2 316.1H264.8" stroke="#fff6ea" stroke-opacity="0.12" stroke-width="0.9" fill="none"/><path d="M70.8 314.3V522.8M55.2 329.8H264.8" stroke="#fff6ea" stroke-opacity="0.19" stroke-width="0.7" fill="none"/><path d="M90.4 314.3V522.8M55.2 349.3H264.8" stroke="#fff6ea" stroke-opacity="0.23" stroke-width="0.5" fill="none"/><path d="M114.1 314.3V522.8M55.2 372.9H264.8" stroke="#fff6ea" stroke-opacity="0.14" stroke-width="0.7" fill="none"/><path d="M61.2 314.3V522.8M55.2 320.3H264.8" stroke="#fff6ea" stroke-opacity="0.30" stroke-width="0.7" fill="none" stroke-dasharray="3 1.5"/><path d="M79.3 314.3V522.8M55.2 338.3H264.8" stroke="#fff6ea" stroke-opacity="0.62" stroke-width="1.5" fill="none" stroke-dasharray="9 1 4 0.6"/><path d="M88.2 314.3V522.8M55.2 347.1H264.8" stroke="#fff6ea" stroke-opacity="0.22" stroke-width="0.7" fill="none"/><path d="M98.2 314.3V522.8M55.2 357.1H264.8" stroke="#fff6ea" stroke-opacity="0.24" stroke-width="0.6" fill="none"/><path d="M119.5 314.3V522.8M55.2 378.3H264.8" stroke="#fff6ea" stroke-opacity="0.72" stroke-width="2.7" fill="none" stroke-dasharray="11 0.7 5 0.5"/><path d="M117.6 314.3V522.8M55.2 376.4H264.8" stroke="#fff6ea" stroke-opacity="0.30" stroke-width="0.6" fill="none"/><path d="M136.5 314.3V522.8M55.2 395.2H264.8" stroke="#fff6ea" stroke-opacity="0.42" stroke-width="0.8" fill="none" stroke-dasharray="6 1.2"/><path d="M69.2 314.3V522.8M55.2 328.2H264.8" stroke="#fff6ea" stroke-opacity="0.20" stroke-width="0.6" fill="none"/><path d="M107.2 314.3V522.8M55.2 366.0H264.8" stroke="#fff6ea" stroke-opacity="0.12" stroke-width="0.6" fill="none"/><path d="M155.2 314.3V522.8M55.2 413.8H264.8" stroke="#fff6ea" stroke-opacity="0.12" stroke-width="0.6" fill="none"/><path d="M194.1 314.3V522.8M55.2 452.4H264.8" stroke="#f08a5a" stroke-opacity="0.09" stroke-width="0.7" fill="none"/><path d="M163.5 314.3V522.8M55.2 422.0H264.8" stroke="#f08a5a" stroke-opacity="0.09" stroke-width="0.7" fill="none"/><path d="M239.3 314.3V522.8M55.2 497.4H264.8" stroke="#f08a5a" stroke-opacity="0.05" stroke-width="0.7" fill="none"/><path d="M87.0 314.3V522.8M55.2 346.0H264.8" stroke="#f08a5a" stroke-opacity="0.07" stroke-width="0.7" fill="none"/><path d="M238.1 314.3V522.8M55.2 496.3H264.8" stroke="#f08a5a" stroke-opacity="0.09" stroke-width="0.7" fill="none"/><path d="M182.8 314.3V522.8M55.2 441.2H264.8" stroke="#f08a5a" stroke-opacity="0.09" stroke-width="0.7" fill="none"/><path d="M86.6 314.3V522.8M55.2 345.5H264.8" stroke="#f08a5a" stroke-opacity="0.05" stroke-width="0.7" fill="none"/><path d="M185.0 314.3V522.8M55.2 443.4H264.8" stroke="#f08a5a" stroke-opacity="0.05" stroke-width="0.7" fill="none"/><path d="M68.1 314.3V522.8M55.2 327.2H264.8" stroke="#f08a5a" stroke-opacity="0.08" stroke-width="0.7" fill="none"/><path d="M166.4 314.3V522.8M55.2 425.0H264.8" stroke="#f08a5a" stroke-opacity="0.07" stroke-width="0.7" fill="none"/><path d="M218.0 314.3V522.8M55.2 476.2H264.8" stroke="#f08a5a" stroke-opacity="0.09" stroke-width="0.7" fill="none"/><path d="M67.1 314.3V522.8M55.2 326.1H264.8" stroke="#f08a5a" stroke-opacity="0.05" stroke-width="0.7" fill="none"/><path d="M64.0 314.3V522.8M55.2 323.1H264.8" stroke="#f08a5a" stroke-opacity="0.05" stroke-width="0.7" fill="none"/><path d="M150.0 314.3V522.8M55.2 408.6H264.8" stroke="#f08a5a" stroke-opacity="0.04" stroke-width="0.7" fill="none"/><path d="M242.6 314.3V522.8M55.2 500.7H264.8" stroke="#f08a5a" stroke-opacity="0.04" stroke-width="0.7" fill="none"/><path d="M123.4 314.3V522.8M55.2 382.2H264.8" stroke="#f08a5a" stroke-opacity="0.10" stroke-width="0.7" fill="none"/><path d="M182.2 314.3V522.8M55.2 440.7H264.8" stroke="#f08a5a" stroke-opacity="0.05" stroke-width="0.7" fill="none"/><path d="M113.3 314.3V522.8M55.2 372.1H264.8" stroke="#f08a5a" stroke-opacity="0.07" stroke-width="0.7" fill="none"/><path d="M119.9 314.3V522.8M55.2 378.7H264.8M182.1 314.3V522.8M55.2 440.5H264.8M216.9 314.3V522.8M55.2 475.2H264.8M236.8 314.3V522.8M55.2 494.9H264.8M253.5 314.3V522.8M55.2 511.6H264.8" stroke="#b5aca3" stroke-width="0.4" stroke-dasharray="1.4 0.7" fill="none" opacity="0.7"/><rect x="55.2" y="314.3" width="209.6" height="208.5" fill="none" stroke="#333" stroke-width="0.5"/><path d="M55.2 314.3h-1.8M55.2 339.2h-1.8M55.2 364.2h-1.8M55.2 389.1h-1.8M55.2 414.1h-1.8M55.2 439.1h-1.8M55.2 464.0h-1.8M55.2 489.0h-1.8M55.2 513.9h-1.8" stroke="#222" stroke-width="0.45" fill="none"/><g font-family="'DejaVu Sans', 'Liberation Sans', sans-serif" font-size="5.9" fill="#111" stroke="#111" stroke-width="0.1" text-anchor="end"><text transform="translate(50.7 316.4) scale(0.88 1)">0</text><text transform="translate(50.7 341.4) scale(0.88 1)">50</text><text transform="translate(50.7 366.3) scale(0.88 1)">100</text><text transform="translate(50.7 391.3) scale(0.88 1)">150</text><text transform="translate(50.7 416.2) scale(0.88 1)">200</text><text transform="translate(50.7 441.2) scale(0.88 1)">250</text><text transform="translate(50.7 466.1) scale(0.88 1)">300</text><text transform="translate(50.7 491.1) scale(0.88 1)">350</text><text transform="translate(50.7 516.0) scale(0.88 1)">400</text></g><text transform="translate(37.6 418.4) rotate(-90)" font-family="'Liberation Serif', 'Times New Roman', serif" font-size="6.5" text-anchor="middle" fill="#111">Position (Mb)</text><g font-family="'Liberation Sans', Arial, sans-serif" font-size="6.1" fill="#000" stroke="#000" stroke-width="0.15" text-anchor="middle"><text x="86.7" y="532.2">chr1</text><text x="150.7" y="532.2">chr2</text><text x="202" y="532.2">chr3</text><text x="227.9" y="532.2">chr4</text><text x="246.2" y="532.2">chr5</text><text x="260.7" y="532.2">chr6</text></g><rect x="279.4" y="314.3" width="10.4" height="208.5" fill="url(#cbg)" stroke="#444" stroke-width="0.45"/><g font-family="'DejaVu Sans', 'Liberation Sans', sans-serif" font-size="5.9" fill="#111" stroke="#111" stroke-width="0.1"><text transform="translate(293.9 525.4) scale(0.88 1)">0</text><text transform="translate(293.9 490.9) scale(0.88 1)">2</text><text transform="translate(293.9 456.4) scale(0.88 1)">4</text><text transform="translate(293.9 421.9) scale(0.88 1)">6</text><text transform="translate(293.9 387.4) scale(0.88 1)">8</text><text transform="translate(293.9 352.9) scale(0.88 1)">10</text><text transform="translate(293.9 318.4) scale(0.88 1)">12</text></g><path d="M289.8 522.8h1.8M289.8 488.3h1.8M289.8 453.8h1.8M289.8 419.3h1.8M289.8 384.8h1.8M289.8 350.3h1.8M289.8 315.8h1.8" stroke="#222" stroke-width="0.45" fill="none"/></g>
<g><path d="M543.26 285.90L543.44 282.50M590.16 297.11L591.53 294.00M630.06 324.18L632.45 321.76M657.82 363.61L660.91 362.18M669.86 410.31L673.25 410.06M664.61 458.24L667.87 459.21M662.42 464.92L665.63 466.06M638.35 506.70L640.94 508.90M601.06 537.27L602.71 540.25M555.37 552.69L555.86 556.06M507.18 550.97L506.45 554.29M462.71 532.32L460.86 535.17M457.69 528.88L455.70 531.64M424.22 494.17L421.39 496.05M405.19 449.86L401.87 450.62M402.00 412.64L398.60 412.46M413.21 365.74L410.10 364.37M429.67 338.02L426.98 335.94M465.48 305.72L463.70 302.83M482.49 296.83L481.13 293.71" stroke="#222" stroke-width="0.6" fill="none"/><path d="M567.21 289.38L567.63 287.63M611.33 308.84L612.35 307.35M645.73 342.64L647.20 341.60M665.95 386.41L667.70 385.96M669.40 434.51L671.19 434.71M652.28 486.90L653.84 487.80M621.09 523.68L622.23 525.07M578.92 547.05L579.49 548.76M531.20 554.01L531.14 555.81M484.10 543.66L483.41 545.32M439.38 513.04L438.09 514.29M412.70 472.87L411.04 473.59M401.93 425.87L400.13 425.95M405.48 388.69L403.73 388.27M424.94 344.57L423.45 343.55M446.12 320.25L444.91 318.91M505.47 289.22L505.06 287.47" stroke="#444" stroke-width="0.45" fill="none"/><path d="M543.21 286.70A133.4 133.4 0 0 1 662.73 461.57" stroke="#000" stroke-width="2.6" fill="none"/><path d="M543.56 286.71A133.4 133.4 0 0 1 662.83 461.23" stroke="#c9820c" stroke-width="1.5" fill="none" stroke-dasharray="1.3 0.45"/><path d="M661.67 464.65A133.4 133.4 0 0 1 460.83 530.10" stroke="#000" stroke-width="2.6" fill="none"/><path d="M661.55 464.98A133.4 133.4 0 0 1 461.11 530.30" stroke="#77720f" stroke-width="1.5" fill="none" stroke-dasharray="1.3 0.45"/><path d="M458.16 528.23A133.4 133.4 0 0 1 402.66 415.94" stroke="#000" stroke-width="2.6" fill="none"/><path d="M457.87 528.03A133.4 133.4 0 0 1 402.65 416.29" stroke="#8e8a12" stroke-width="1.5" fill="none" stroke-dasharray="1.3 0.45"/><path d="M402.80 412.69A133.4 133.4 0 0 1 428.35 341.11" stroke="#000" stroke-width="2.6" fill="none"/><path d="M402.81 412.34A133.4 133.4 0 0 1 428.15 341.40" stroke="#c4161c" stroke-width="1.5" fill="none"/><path d="M430.31 338.51A133.4 133.4 0 0 1 479.83 298.90" stroke="#000" stroke-width="2.6" fill="none"/><path d="M430.52 338.23A133.4 133.4 0 0 1 479.52 299.05" stroke="#b81217" stroke-width="1.5" fill="none"/><path d="M482.81 297.56A133.4 133.4 0 0 1 524.49 287.00" stroke="#000" stroke-width="2.6" fill="none"/><path d="M483.13 297.43A133.4 133.4 0 0 1 524.14 287.03" stroke="#e012c4" stroke-width="1.5" fill="none"/><path d="M542.4 301.8L542.8 294.7L543.7 294.7L543.4 299.4L544.2 299.5L544.3 297.4L545.2 297.5L545.3 296.2L546.2 296.3L546.1 296.5L547.0 296.6L546.9 297.8L547.7 297.9L547.7 298.8L548.5 298.9L549.0 293.7L549.9 293.8L549.8 294.6L550.7 294.7L550.3 298.1L551.1 298.2L551.1 298.6L551.9 298.7L552.2 296.9L553.0 297.0L553.0 297.7L553.8 297.8L554.0 296.3L554.9 296.4L554.5 299.0L555.3 299.2L555.4 298.6L556.3 298.7L556.1 299.9L556.9 300.1L557.0 299.4L557.9 299.5L557.9 299.1L558.8 299.3L559.1 297.3L560.0 297.5L560.4 295.6L561.2 295.7L560.4 299.7L561.3 299.9L561.2 300.1L562.1 300.3L562.1 300.3L562.9 300.4L563.2 299.1L564.0 299.3L564.5 297.3L565.4 297.5L565.2 298.0L566.1 298.2L566.0 298.8L566.8 299.0L567.1 297.7L568.0 297.9L567.1 301.1L568.0 301.3L567.8 301.8L568.7 302.0L568.9 301.2L569.7 301.4L571.0 297.1L571.8 297.3L570.7 301.0L571.6 301.3L571.3 302.3L572.1 302.5L573.0 299.4L573.9 299.7L572.6 303.6L573.5 303.8L574.1 301.8L574.9 302.0L574.8 302.6L575.6 302.9L575.2 304.1L576.0 304.4L576.1 304.1L576.9 304.4L576.6 305.2L577.4 305.5L577.5 305.2L578.3 305.5L580.3 300.1L581.1 300.4L579.6 304.5L580.4 304.8L580.5 304.4L581.3 304.7L581.0 305.7L581.7 306.0L581.8 305.9L582.6 306.2L582.7 305.9L583.5 306.2L584.0 305.2L584.8 305.5L584.0 307.2L584.8 307.5L585.0 307.1L585.8 307.5L586.8 305.1L587.6 305.4L586.3 308.4L587.1 308.7L587.3 308.3L588.1 308.7L587.2 310.4L588.0 310.8L588.1 310.5L588.9 310.9L590.7 307.0L591.5 307.4L590.2 310.1L591.0 310.5L591.6 309.2L592.4 309.6L592.2 310.0L592.9 310.4L592.0 312.2L592.8 312.6L593.3 311.5L594.1 311.9L593.3 313.4L594.0 313.8L594.1 313.6L594.9 314.0L598.2 308.0L599.0 308.4L596.7 312.5L597.5 312.9L596.6 314.5L597.3 314.9L598.2 313.4L598.9 313.8L598.8 314.1L599.5 314.5L599.7 314.2L600.4 314.6L602.2 311.7L603.0 312.2L602.4 313.1L603.2 313.5L601.9 315.6L602.6 316.1L604.6 313.0L605.3 313.4L602.7 317.4L603.4 317.9L605.1 315.3L605.9 315.8L603.9 318.8L604.6 319.3L604.9 318.8L605.6 319.2L605.3 319.7L606.0 320.1L605.8 320.5L606.4 321.0L606.8 320.6L607.5 321.1L607.6 320.9L608.3 321.4L607.5 322.5L608.2 323.0L611.2 318.9L611.9 319.5L609.1 323.1L609.8 323.6L610.3 323.0L611.0 323.5L610.9 323.5L611.6 324.1L611.4 324.3L612.1 324.8L612.3 324.5L613.0 325.1L613.8 324.0L614.5 324.6L614.9 324.1L615.5 324.6L615.2 325.1L615.8 325.6L616.1 325.4L616.7 325.9L615.1 327.8L615.7 328.4L616.6 327.4L617.2 328.0L619.8 325.1L620.4 325.7L616.4 330.2L617.0 330.8L618.0 329.6L618.6 330.2L617.2 331.8L617.8 332.4L619.3 330.8L619.9 331.4L618.8 332.6L619.4 333.2L619.5 333.0L620.1 333.6L621.3 332.4L621.9 333.0L619.8 335.1L620.4 335.7L620.6 335.5L621.2 336.1L621.0 336.2L621.6 336.8L623.6 334.9L624.2 335.5L622.4 337.2L623.0 337.8L625.3 335.7L625.9 336.3L626.3 335.9L626.8 336.5L626.4 337.0L626.9 337.6L625.3 339.1L625.9 339.7L626.6 339.1L627.1 339.7L625.8 340.9L626.3 341.5L628.7 339.5L629.3 340.1L627.3 341.8L627.8 342.5L628.0 342.3L628.5 343.0L629.0 342.6L629.5 343.2L629.3 343.4L629.9 344.0L629.6 344.2L630.1 344.9L630.3 344.8L630.8 345.4L631.1 345.2L631.6 345.9L632.7 345.0L633.2 345.7L635.4 344.1L635.9 344.8L634.1 346.1L634.6 346.8L636.0 345.7L636.6 346.4L635.6 347.1L636.2 347.8L636.6 347.5L637.1 348.2L637.7 347.8L638.2 348.5L638.8 348.0L639.3 348.7L639.1 348.9L639.6 349.6L638.4 350.4L638.9 351.2L639.7 350.6L640.2 351.3L639.1 352.1L639.5 352.8L640.1 352.4L640.6 353.1L638.3 354.6L638.7 355.3L638.3 355.6L638.7 356.3L640.4 355.3L640.8 356.0L642.0 355.3L642.5 356.0L642.0 356.3L642.4 357.1L640.8 358.1L641.2 358.8L643.3 357.6L643.7 358.3L641.6 359.5L642.0 360.3L643.1 359.7L643.5 360.4L642.3 361.1L642.7 361.8L644.0 361.1L644.4 361.9L645.0 361.6L645.4 362.3L644.4 362.9L644.8 363.6L645.6 363.2L646.0 364.0L645.3 364.3L645.7 365.1L644.6 365.6L645.0 366.4L646.5 365.6L646.9 366.4L644.9 367.3L645.3 368.1L650.7 365.5L651.1 366.3L647.5 368.0L647.8 368.8L647.9 368.8L648.3 369.5L647.8 369.7L648.2 370.5L646.9 371.1L647.3 371.8L647.0 372.0L647.3 372.7L650.2 371.5L650.5 372.3L648.0 373.4L648.3 374.2L650.6 373.2L650.9 374.0L649.7 374.5L650.1 375.3L649.6 375.5L649.9 376.3L650.6 376.0L650.9 376.8L649.4 377.4L649.7 378.2L650.2 378.0L650.4 378.8L650.9 378.6L651.2 379.4L652.3 379.0L652.6 379.8L651.8 380.1L652.1 380.9L653.1 380.6L653.4 381.4L650.7 382.3L651.0 383.1L651.5 382.9L651.8 383.7L653.3 383.2L653.5 384.0L651.2 384.7L651.5 385.5L654.3 384.7L654.5 385.5L653.8 385.7L654.1 386.6L652.5 387.0L652.8 387.8L652.7 387.8L652.9 388.6L653.8 388.4L654.0 389.2L654.5 389.1L654.7 389.9L655.3 389.8L655.5 390.6L655.4 390.6L655.6 391.5L654.4 391.8L654.6 392.6L655.3 392.4L655.5 393.2L658.5 392.6L658.7 393.4L655.2 394.2L655.4 395.0L654.8 395.1L654.9 396.0L656.5 395.7L656.6 396.5L657.0 396.4L657.1 397.3L659.5 396.8L659.7 397.7L656.9 398.2L657.1 399.0L657.8 398.9L658.0 399.8L656.3 400.0L656.5 400.9L656.6 400.9L656.7 401.7L659.9 401.2L660.0 402.1L658.2 402.4L658.3 403.2L657.5 403.3L657.6 404.2L656.5 404.3L656.6 405.1L657.3 405.1L657.4 405.9L656.8 406.0L656.9 406.8L657.7 406.7L657.8 407.6L656.8 407.7L656.9 408.5L660.1 408.2L660.1 409.1L657.7 409.3L657.8 410.1L658.8 410.1L658.9 410.9L658.1 411.0L658.1 411.8L658.6 411.8L658.7 412.7L656.4 412.8L656.5 413.6L660.7 413.4L660.8 414.3L658.1 414.4L658.1 415.3L660.2 415.2L660.2 416.0L659.1 416.1L659.1 416.9L660.4 416.9L660.4 417.8L657.7 417.8L657.7 418.7L658.8 418.7L658.8 419.5L658.7 419.5L658.7 420.4L658.9 420.4L658.9 421.2L659.1 421.2L659.1 422.1L659.4 422.1L659.4 423.0L658.9 422.9L658.9 423.8L657.4 423.7L657.4 424.6L657.0 424.6L656.9 425.4L660.4 425.6L660.4 426.5L656.8 426.3L656.7 427.1L658.7 427.2L658.6 428.1L657.7 428.0L657.7 428.9L658.6 428.9L658.5 429.8L656.2 429.6L656.1 430.4L658.0 430.6L658.0 431.5L659.4 431.6L659.3 432.5L658.9 432.4L658.8 433.3L656.0 433.0L655.9 433.8L656.6 433.9L656.5 434.7L655.9 434.6L655.8 435.5L660.0 436.0L659.8 436.9L657.2 436.5L657.0 437.4L656.2 437.2L656.1 438.1L656.1 438.1L655.9 438.9L656.2 439.0L656.0 439.8L658.1 440.1L658.0 441.0L657.6 440.9L657.4 441.8L657.4 441.8L657.2 442.6L658.1 442.8L657.9 443.6L657.6 443.5L657.4 444.4L656.3 444.2L656.1 445.0L657.3 445.3L657.2 446.1L657.4 446.2L657.2 447.0L656.5 446.9L656.3 447.7L654.8 447.3L654.6 448.2L655.7 448.4L655.5 449.3L656.1 449.4L655.9 450.2L656.2 450.3L656.0 451.2L652.9 450.4L652.7 451.2L652.0 451.0L651.8 451.8L651.8 451.8L651.6 452.6L652.3 452.8L652.0 453.6L652.4 453.7L652.2 454.5L650.8 454.1L650.6 454.9L651.8 455.3L651.5 456.1L650.5 455.8L650.2 456.6L650.9 456.8L650.6 457.6L648.4 456.8A118.3 118.3 0 0 0 542.4 301.8ZM647.4 459.6L650.0 460.5L649.7 461.3L649.1 461.1L648.8 461.8L649.0 461.9L648.7 462.7L650.2 463.3L649.9 464.1L649.7 464.0L649.4 464.8L651.5 465.6L651.2 466.4L649.7 465.8L649.4 466.6L651.5 467.5L651.2 468.3L649.7 467.7L649.4 468.5L649.4 468.5L649.1 469.3L648.2 468.9L647.9 469.7L648.3 469.9L648.0 470.7L648.1 470.7L647.7 471.5L647.6 471.4L647.2 472.2L646.7 472.0L646.4 472.8L648.7 473.9L648.4 474.7L647.4 474.2L647.0 475.0L645.2 474.1L644.8 474.9L645.5 475.2L645.1 476.0L648.6 477.7L648.2 478.5L646.3 477.6L645.9 478.3L644.8 477.7L644.4 478.5L646.5 479.6L646.0 480.4L644.7 479.7L644.3 480.4L648.0 482.5L647.5 483.2L643.9 481.1L643.4 481.9L641.2 480.6L640.8 481.3L640.8 481.4L640.4 482.1L641.5 482.8L641.0 483.5L643.3 484.8L642.8 485.6L640.9 484.4L640.4 485.1L642.8 486.6L642.3 487.4L639.2 485.4L638.8 486.1L638.9 486.2L638.5 486.9L639.4 487.5L638.9 488.2L639.0 488.3L638.6 489.0L637.6 488.4L637.1 489.1L637.7 489.5L637.2 490.2L636.6 489.8L636.1 490.5L638.3 492.0L637.7 492.7L634.2 490.1L633.7 490.8L633.9 491.0L633.4 491.7L633.7 491.9L633.2 492.6L634.2 493.3L633.7 494.0L633.2 493.7L632.7 494.3L632.7 494.4L632.2 495.0L633.4 496.0L632.9 496.6L633.1 496.8L632.6 497.5L631.5 496.6L631.0 497.3L632.8 498.8L632.3 499.5L632.0 499.2L631.4 499.9L630.3 499.0L629.8 499.7L628.7 498.8L628.2 499.4L627.5 498.9L627.0 499.5L627.7 500.1L627.1 500.8L626.2 499.9L625.7 500.6L626.2 501.1L625.6 501.7L628.2 504.0L627.6 504.6L625.0 502.3L624.4 502.9L626.1 504.4L625.5 505.0L627.0 506.4L626.3 507.1L624.5 505.3L623.9 505.9L624.0 506.1L623.4 506.7L623.0 506.2L622.4 506.8L622.2 506.6L621.6 507.2L622.4 508.1L621.8 508.7L620.4 507.2L619.8 507.8L619.7 507.7L619.1 508.3L619.7 509.0L619.1 509.6L618.6 509.1L618.0 509.6L618.4 510.0L617.7 510.6L619.6 512.6L618.9 513.2L618.2 512.4L617.5 513.0L618.4 513.9L617.7 514.5L616.9 513.5L616.3 514.1L615.1 512.8L614.5 513.3L615.4 514.5L614.8 515.0L613.4 513.4L612.8 514.0L613.2 514.5L612.5 515.0L612.3 514.7L611.6 515.2L612.3 516.0L611.6 516.6L611.6 516.5L610.9 517.0L611.2 517.5L610.5 518.0L609.7 516.9L609.1 517.4L612.1 521.5L611.4 522.1L608.7 518.4L608.0 518.9L608.0 518.8L607.3 519.3L607.7 520.0L607.0 520.5L608.9 523.1L608.1 523.6L606.1 520.7L605.4 521.2L607.9 524.8L607.2 525.3L604.8 521.8L604.1 522.3L605.3 524.1L604.6 524.6L604.1 523.8L603.4 524.3L603.2 524.1L602.5 524.6L602.1 523.8L601.3 524.3L601.0 523.8L600.3 524.2L600.2 524.1L599.5 524.5L600.6 526.4L599.9 526.9L598.1 523.9L597.4 524.4L597.5 524.6L596.8 525.0L596.7 524.8L595.9 525.2L596.0 525.3L595.2 525.7L596.6 528.1L595.8 528.5L594.2 525.5L593.4 525.9L594.3 527.5L593.5 527.9L593.2 527.3L592.5 527.7L592.9 528.5L592.1 528.9L591.6 527.9L590.9 528.3L591.9 530.3L591.1 530.7L591.0 530.6L590.3 530.9L590.2 530.8L589.4 531.2L588.5 529.2L587.7 529.5L587.1 528.2L586.3 528.5L586.3 528.6L585.6 528.9L585.7 529.2L584.9 529.6L585.5 530.7L584.7 531.1L584.9 531.6L584.1 532.0L583.7 530.9L582.9 531.2L583.4 532.4L582.6 532.8L583.1 534.0L582.4 534.4L581.7 532.7L580.9 533.0L581.0 533.2L580.2 533.5L580.5 534.3L579.7 534.6L579.9 535.1L579.1 535.4L578.5 533.8L577.7 534.1L577.6 534.0L576.8 534.3L576.8 534.0L576.0 534.3L575.5 533.1L574.8 533.4L575.3 535.1L574.5 535.4L574.1 534.2L573.3 534.4L573.4 534.7L572.6 534.9L573.3 537.0L572.4 537.2L571.8 535.3L571.0 535.6L571.1 535.9L570.3 536.2L570.6 537.1L569.8 537.3L569.6 536.7L568.8 536.9L569.3 538.9L568.5 539.1L568.3 538.4L567.5 538.7L567.2 537.6L566.4 537.8L566.5 538.4L565.7 538.6L566.1 540.2L565.3 540.4L564.8 538.4L564.0 538.6L564.0 538.7L563.1 538.9L563.4 539.8L562.5 540.0L562.6 540.3L561.8 540.5L561.5 539.2L560.7 539.4L560.6 539.3L559.8 539.5L560.6 543.4L559.7 543.5L559.1 540.4L558.3 540.6L558.3 540.5L557.4 540.7L557.9 543.1L557.0 543.3L556.5 540.6L555.7 540.7L555.9 542.0L555.1 542.1L555.0 541.9L554.2 542.1L555.0 547.6L554.1 547.7L553.4 542.8L552.5 542.9L552.4 541.8L551.5 541.9L551.7 543.1L550.8 543.2L550.8 543.3L550.0 543.4L550.2 545.6L549.4 545.7L549.2 544.0L548.3 544.1L548.0 541.2L547.2 541.3L547.5 544.3L546.6 544.3L546.6 544.1L545.7 544.1L545.5 541.2L544.6 541.3L544.7 542.6L543.9 542.6L543.8 541.6L542.9 541.7L542.9 540.6L542.0 540.6L542.0 539.9L541.2 540.0L541.3 542.6L540.4 542.7L540.4 542.5L539.6 542.6L539.6 542.5L538.7 542.5L538.7 541.4L537.8 541.4L537.8 540.1L537.0 540.1L537.0 541.7L536.1 541.7L536.1 541.8L535.3 541.8L535.3 543.2L534.4 543.2L534.4 546.1L533.5 546.0L533.6 543.2L532.7 543.2L532.7 543.5L531.8 543.5L531.8 544.7L530.9 544.7L531.0 542.8L530.1 542.7L530.1 544.0L529.2 544.0L529.2 543.7L528.4 543.7L528.3 544.1L527.5 544.1L527.4 544.4L526.6 544.4L526.3 547.6L525.4 547.5L525.8 542.9L525.0 542.8L524.6 546.5L523.8 546.4L524.2 541.7L523.4 541.6L523.3 541.9L522.5 541.8L522.4 542.7L521.5 542.6L521.7 541.3L520.8 541.2L520.9 540.6L520.1 540.5L520.1 540.6L519.2 540.5L519.3 539.9L518.5 539.8L518.3 541.1L517.4 541.0L516.5 546.9L515.6 546.8L516.0 544.1L515.2 544.0L515.7 541.2L514.8 541.0L514.3 544.0L513.4 543.9L513.9 541.3L513.0 541.1L513.0 541.3L512.2 541.1L512.3 540.4L511.5 540.2L511.0 542.3L510.2 542.2L510.7 539.6L509.9 539.4L509.5 541.0L508.7 540.8L509.0 539.7L508.1 539.5L507.9 540.5L507.1 540.3L507.5 538.6L506.6 538.4L505.9 541.4L505.0 541.2L505.9 537.8L505.1 537.6L505.0 537.8L504.2 537.6L503.7 539.4L502.9 539.1L502.6 540.3L501.7 540.0L502.0 539.0L501.2 538.8L501.1 539.3L500.2 539.0L500.6 537.9L499.7 537.7L499.3 539.0L498.5 538.7L498.7 538.1L497.9 537.8L498.4 536.2L497.6 535.9L496.5 539.1L495.7 538.8L495.9 538.2L495.1 537.9L495.6 536.5L494.8 536.3L495.2 535.0L494.4 534.7L493.3 537.9L492.4 537.6L493.0 536.0L492.2 535.7L492.0 536.4L491.1 536.1L491.6 534.8L490.8 534.5L490.9 534.3L490.1 534.0L489.1 536.5L488.3 536.2L488.8 534.8L488.0 534.5L488.9 532.5L488.1 532.2L487.8 532.9L487.0 532.5L486.9 532.8L486.1 532.5L486.2 532.2L485.4 531.9L485.0 532.9L484.2 532.5L484.5 531.7L483.8 531.4L483.8 531.3L483.0 531.0L483.5 530.0L482.7 529.6L482.2 530.6L481.4 530.3L481.9 529.3L481.2 528.9L480.9 529.3L480.2 529.0L478.8 531.6L478.1 531.2L479.8 527.9L479.0 527.5L478.1 529.2L477.4 528.8L477.1 529.3L476.3 528.9L476.3 528.9L475.6 528.4L475.8 528.0L475.1 527.6L475.0 527.6L474.3 527.2L475.3 525.4L474.6 525.0L474.4 525.3L473.7 524.8L473.7 524.8L473.0 524.3L472.9 524.5L472.2 524.0L471.9 524.5L471.2 524.0L469.4 526.9L468.7 526.4L470.5 523.5L469.8 523.1L469.7 523.2L469.0 522.7L469.4 522.0L468.7 521.6L468.6 521.7L467.9 521.2L465.9 524.2L465.2 523.7L469.3 517.6A118.3 118.3 0 0 0 647.4 459.6ZM467.0 516.0L464.1 519.9L463.4 519.4L463.7 519.0L463.0 518.5L462.6 519.1L461.9 518.6L461.5 519.2L460.8 518.6L460.3 519.2L459.7 518.7L461.8 516.0L461.1 515.4L460.7 515.9L460.1 515.4L458.4 517.4L457.8 516.9L458.8 515.6L458.1 515.1L458.7 514.4L458.0 513.8L457.6 514.3L456.9 513.8L457.1 513.6L456.4 513.1L455.2 514.5L454.5 513.9L452.3 516.5L451.6 515.9L453.8 513.5L453.1 512.9L454.7 511.2L454.0 510.6L453.3 511.4L452.6 510.9L451.7 511.9L451.1 511.3L451.0 511.4L450.3 510.8L449.8 511.3L449.2 510.7L450.3 509.5L449.7 508.9L449.5 509.1L448.9 508.5L445.4 512.1L444.7 511.5L448.2 508.0L447.6 507.4L448.0 507.0L447.3 506.4L447.3 506.4L446.7 505.8L446.5 506.0L445.9 505.4L446.0 505.3L445.4 504.7L444.8 505.2L444.2 504.6L445.2 503.7L444.6 503.0L443.5 504.1L442.9 503.4L440.6 505.5L440.0 504.9L442.6 502.5L442.0 501.9L440.7 503.0L440.1 502.4L441.8 500.9L441.2 500.3L438.2 502.9L437.6 502.2L441.5 498.9L440.9 498.3L437.6 501.0L437.0 500.3L439.8 498.1L439.2 497.4L439.2 497.4L438.7 496.8L437.4 497.8L436.8 497.1L438.0 496.2L437.4 495.5L438.3 494.9L437.7 494.2L436.6 495.1L436.1 494.4L436.0 494.4L435.5 493.7L436.2 493.2L435.7 492.5L435.6 492.6L435.1 491.9L435.8 491.4L435.3 490.7L432.1 493.0L431.5 492.2L432.6 491.5L432.1 490.8L434.4 489.2L433.9 488.5L431.6 490.1L431.1 489.3L432.7 488.2L432.3 487.5L433.9 486.5L433.4 485.8L432.9 486.1L432.5 485.3L433.0 485.0L432.5 484.3L429.9 486.0L429.4 485.2L432.6 483.3L432.1 482.6L431.9 482.7L431.5 482.0L431.5 482.0L431.0 481.2L430.3 481.7L429.9 480.9L430.4 480.6L430.0 479.9L430.0 479.9L429.6 479.1L429.8 479.0L429.4 478.3L427.9 479.1L427.5 478.3L427.6 478.3L427.2 477.5L423.7 479.4L423.3 478.6L426.9 476.7L426.5 475.9L426.9 475.7L426.5 475.0L424.3 476.1L423.9 475.3L425.5 474.5L425.1 473.7L421.7 475.4L421.3 474.6L421.5 474.5L421.1 473.7L423.9 472.4L423.5 471.6L422.4 472.2L422.0 471.4L422.4 471.2L422.0 470.4L423.7 469.7L423.3 468.9L421.8 469.6L421.4 468.8L423.7 467.8L423.4 467.0L422.8 467.3L422.5 466.5L423.4 466.1L423.1 465.3L423.2 465.3L422.8 464.5L418.4 466.2L418.0 465.4L420.5 464.5L420.1 463.7L420.4 463.6L420.1 462.8L422.0 462.1L421.8 461.3L421.2 461.5L420.9 460.7L420.0 461.0L419.7 460.2L421.6 459.5L421.3 458.7L419.0 459.5L418.7 458.7L419.2 458.5L418.9 457.7L421.1 457.0L420.8 456.2L417.8 457.2L417.5 456.3L417.7 456.3L417.5 455.5L419.3 454.9L419.1 454.1L416.2 454.9L416.0 454.1L413.5 454.8L413.2 454.0L415.9 453.2L415.7 452.4L414.8 452.6L414.5 451.8L414.4 451.8L414.2 451.0L415.5 450.6L415.3 449.8L413.9 450.1L413.7 449.3L416.4 448.6L416.2 447.8L414.3 448.2L414.1 447.4L416.0 446.9L415.9 446.1L414.5 446.4L414.3 445.5L415.3 445.3L415.2 444.5L414.7 444.6L414.5 443.7L413.6 443.9L413.4 443.1L414.9 442.8L414.8 441.9L413.6 442.1L413.4 441.3L415.6 440.9L415.4 440.1L414.1 440.3L413.9 439.5L413.6 439.5L413.5 438.6L414.7 438.5L414.6 437.6L414.2 437.7L414.0 436.8L413.7 436.9L413.6 436.0L414.3 435.9L414.2 435.1L412.1 435.3L412.0 434.5L413.1 434.3L413.0 433.5L412.6 433.5L412.5 432.7L413.3 432.6L413.2 431.7L414.5 431.6L414.4 430.8L413.3 430.9L413.2 430.0L411.2 430.2L411.2 429.3L413.8 429.1L413.8 428.2L412.6 428.3L412.5 427.5L413.4 427.4L413.3 426.5L411.9 426.6L411.8 425.8L410.2 425.8L410.2 425.0L410.7 424.9L410.7 424.1L412.6 424.0L412.5 423.1L410.1 423.2L410.1 422.3L412.1 422.3L412.1 421.4L408.4 421.5L408.4 420.6L411.6 420.6L411.6 419.7L411.2 419.7L411.2 418.8L411.8 418.8L411.8 417.9L412.2 418.0L412.2 417.1L412.2 417.1L412.2 416.2L417.8 416.4A118.3 118.3 0 0 0 467.0 516.0ZM417.9 413.5L414.3 413.3L414.3 412.5L413.0 412.4L413.1 411.5L414.2 411.6L414.3 410.8L411.6 410.6L411.7 409.7L413.7 409.9L413.8 409.0L411.2 408.8L411.3 407.9L410.0 407.8L410.0 406.9L410.7 407.0L410.8 406.1L413.6 406.4L413.7 405.6L411.6 405.3L411.7 404.4L410.0 404.2L410.2 403.4L408.5 403.1L408.6 402.3L410.4 402.5L410.5 401.6L411.9 401.8L412.0 401.0L410.8 400.8L410.9 399.9L412.5 400.2L412.7 399.3L413.1 399.4L413.2 398.5L411.4 398.2L411.6 397.3L408.8 396.8L408.9 395.9L413.4 396.8L413.6 395.9L415.7 396.4L415.9 395.5L414.5 395.2L414.7 394.4L415.8 394.6L416.0 393.8L415.4 393.7L415.6 392.8L413.9 392.5L414.1 391.6L413.8 391.5L414.0 390.7L416.7 391.3L416.9 390.5L416.8 390.5L417.0 389.6L414.3 389.0L414.6 388.1L416.6 388.6L416.8 387.8L415.5 387.5L415.7 386.6L417.4 387.1L417.7 386.3L415.0 385.5L415.3 384.7L415.3 384.7L415.6 383.9L417.3 384.4L417.5 383.5L413.1 382.2L413.4 381.4L418.6 383.0L418.9 382.2L418.3 382.0L418.5 381.2L416.7 380.6L417.0 379.7L416.7 379.6L417.0 378.8L415.3 378.2L415.6 377.4L414.1 376.8L414.4 376.0L418.3 377.4L418.6 376.6L416.7 375.9L417.0 375.1L415.9 374.6L416.2 373.8L418.2 374.6L418.5 373.8L418.0 373.6L418.4 372.7L421.6 374.0L421.9 373.2L422.6 373.5L422.9 372.7L419.8 371.4L420.1 370.6L418.8 370.0L419.1 369.2L418.5 368.9L418.8 368.1L422.9 369.9L423.2 369.1L423.6 369.3L424.0 368.5L422.0 367.6L422.3 366.8L423.9 367.5L424.2 366.7L425.2 367.2L425.6 366.4L421.2 364.3L421.6 363.5L425.5 365.5L425.9 364.7L426.5 365.0L426.9 364.2L424.1 362.8L424.5 362.1L425.8 362.7L426.2 361.9L426.4 362.1L426.8 361.3L424.3 360.0L424.7 359.2L429.2 361.6L429.7 360.9L427.8 359.9L428.2 359.1L428.7 359.4L429.1 358.7L427.5 357.7L428.0 357.0L430.2 358.3L430.6 357.5L429.6 356.9L430.0 356.2L428.2 355.1L428.7 354.4L431.5 356.1L431.9 355.3L429.9 354.1L430.4 353.4L430.4 353.3L430.8 352.6L431.8 353.2L432.3 352.5L432.3 352.6L432.8 351.8L430.9 350.6L431.4 349.9L433.3 351.1L433.8 350.4L432.6 349.6L433.1 348.9L432.6 348.6L433.1 347.9L435.7 349.6L436.2 348.9L433.7 347.2L434.2 346.5L436.7 348.3L437.2 347.6L440.5 350.0A118.3 118.3 0 0 0 417.9 413.5ZM442.3 347.7L436.5 343.3L437.0 342.6L439.3 344.4L439.9 343.7L439.5 343.4L440.0 342.7L441.1 343.6L441.7 343.0L441.7 343.0L442.3 342.4L440.1 340.6L440.7 340.0L442.3 341.3L442.9 340.7L441.7 339.6L442.2 339.0L443.3 339.9L443.8 339.2L443.0 338.5L443.6 337.9L442.3 336.8L442.9 336.1L445.2 338.2L445.8 337.6L444.5 336.4L445.0 335.7L445.1 335.8L445.7 335.1L446.5 336.0L447.1 335.3L447.5 335.7L448.1 335.1L444.7 331.8L445.3 331.2L447.4 333.2L448.0 332.6L449.0 333.5L449.6 332.9L448.2 331.6L448.8 330.9L450.3 332.5L451.0 331.9L451.2 332.1L451.8 331.5L449.9 329.6L450.6 329.0L453.0 331.6L453.6 331.0L453.4 330.8L454.0 330.2L454.6 330.9L455.2 330.3L453.3 328.2L454.0 327.6L455.5 329.3L456.1 328.8L455.0 327.5L455.7 327.0L455.4 326.7L456.1 326.1L457.3 327.6L458.0 327.1L457.8 326.8L458.4 326.3L458.8 326.7L459.4 326.2L457.5 323.9L458.2 323.3L458.9 324.2L459.6 323.7L459.7 323.8L460.4 323.3L459.6 322.2L460.2 321.7L460.5 322.1L461.2 321.5L461.9 322.4L462.5 321.9L463.0 322.6L463.7 322.1L463.0 321.1L463.7 320.6L460.4 316.1L461.2 315.6L464.7 320.5L465.4 320.0L464.5 318.8L465.3 318.3L465.9 319.3L466.6 318.8L467.5 320.1L468.2 319.6L467.9 319.1L468.6 318.7L467.9 317.6L468.6 317.1L469.2 318.1L469.9 317.6L469.0 316.2L469.7 315.7L470.4 316.9L471.2 316.4L469.9 314.4L470.7 314.0L471.0 314.6L471.8 314.2L470.8 312.5L471.5 312.1L472.6 313.8L473.3 313.4L473.6 313.9L474.3 313.5L473.9 312.7L474.7 312.3L475.9 314.5L476.7 314.1L477.0 314.7L477.7 314.3L476.8 312.6L477.5 312.2L478.0 313.0L478.7 312.6L478.6 312.4L479.4 312.0L479.3 311.9L480.1 311.6L480.6 312.6L481.4 312.2L481.7 312.9L482.5 312.5L482.2 312.0L483.0 311.6L482.8 311.3L483.6 310.9L482.7 309.2L483.5 308.8L484.2 310.3L484.9 309.9L486.2 312.6A118.3 118.3 0 0 0 442.3 347.7ZM488.8 311.4L486.6 306.2L487.4 305.9L488.6 308.8L489.4 308.4L488.9 307.3L489.7 307.0L489.4 306.3L490.2 306.0L490.1 305.8L491.0 305.4L490.3 303.8L491.1 303.4L491.6 304.7L492.4 304.4L493.1 306.3L493.9 306.0L493.6 305.2L494.4 304.9L494.5 305.0L495.3 304.7L495.2 304.4L496.0 304.1L496.3 305.1L497.1 304.8L496.2 302.0L497.0 301.7L497.9 304.4L498.7 304.1L497.9 301.6L498.7 301.4L499.4 303.6L500.3 303.3L499.3 300.4L500.2 300.1L500.7 301.8L501.5 301.6L501.5 301.5L502.4 301.3L501.1 296.9L502.0 296.7L503.3 301.3L504.1 301.1L503.4 298.4L504.2 298.2L504.1 297.6L504.9 297.4L506.0 301.7L506.9 301.5L505.9 297.8L506.8 297.5L507.6 300.9L508.4 300.7L508.4 300.5L509.2 300.3L509.4 300.9L510.2 300.7L510.2 300.6L511.0 300.4L511.1 300.9L512.0 300.7L512.0 300.9L512.8 300.8L512.4 298.7L513.3 298.5L513.7 300.7L514.5 300.6L514.4 299.7L515.2 299.6L515.0 298.2L515.9 298.0L516.0 299.0L516.9 298.9L516.4 296.2L517.3 296.1L517.6 298.0L518.5 297.9L518.5 297.9L519.3 297.7L519.3 297.5L520.2 297.4L519.8 294.9L520.7 294.8L520.9 296.6L521.8 296.5L521.7 295.5L522.6 295.4L522.5 294.9L523.4 294.8L523.4 295.2L524.3 295.1L524.5 297.5L525.4 297.4L525.8 302.0A118.3 118.3 0 0 0 488.8 311.4Z" fill="#4292c6" stroke="#4292c6" stroke-width="0.15" stroke-linejoin="round"/><path d="M541.7 315.1L541.9 311.7L542.6 311.7L542.6 311.2L543.4 311.3L543.5 309.2L544.3 309.2L544.2 310.4L545.0 310.4L545.0 309.9L545.8 309.9L545.7 311.0L546.5 311.0L546.5 310.5L547.3 310.6L547.6 308.1L548.3 308.2L548.2 309.1L549.0 309.1L548.9 310.3L549.6 310.4L549.9 308.2L550.7 308.3L550.5 309.9L551.2 310.0L551.0 311.9L551.7 312.0L551.8 311.4L552.6 311.5L552.4 312.9L553.1 313.0L553.5 310.7L554.2 310.8L553.9 312.7L554.7 312.8L555.1 310.6L555.8 310.8L556.2 308.8L557.0 308.9L556.3 312.2L557.1 312.3L557.4 310.7L558.2 310.9L558.0 311.9L558.7 312.0L558.6 312.5L559.4 312.7L559.5 312.2L560.2 312.4L560.5 311.0L561.3 311.2L561.1 312.1L561.8 312.3L561.4 313.9L562.2 314.1L562.3 313.7L563.0 313.9L563.3 312.8L564.0 313.0L563.5 315.0L564.2 315.2L564.5 314.3L565.2 314.5L565.0 315.1L565.8 315.3L566.1 314.1L566.8 314.3L566.5 315.5L567.2 315.7L567.3 315.6L568.0 315.8L568.6 314.0L569.3 314.2L568.8 315.8L569.5 316.1L569.9 315.0L570.6 315.2L570.7 314.9L571.4 315.1L570.9 316.7L571.6 316.9L572.1 315.7L572.8 315.9L572.7 316.3L573.4 316.5L573.6 316.1L574.3 316.3L573.6 318.2L574.3 318.4L574.4 318.2L575.1 318.4L575.1 318.4L575.8 318.7L576.2 317.7L576.9 318.0L577.0 317.8L577.7 318.1L577.4 318.9L578.1 319.2L577.9 319.7L578.6 320.0L578.8 319.5L579.5 319.8L579.6 319.5L580.3 319.8L580.2 320.0L580.9 320.3L581.1 320.0L581.8 320.3L580.9 322.1L581.6 322.4L582.5 320.5L583.2 320.8L583.5 320.3L584.2 320.6L583.3 322.3L584.0 322.6L583.8 323.2L584.4 323.5L584.2 324.0L584.9 324.3L585.1 323.9L585.7 324.3L586.4 323.0L587.1 323.3L586.5 324.4L587.2 324.7L588.1 323.1L588.7 323.5L588.3 324.3L588.9 324.7L588.5 325.5L589.2 325.8L589.9 324.5L590.6 324.9L591.0 324.2L591.6 324.6L590.6 326.3L591.3 326.7L592.5 324.6L593.2 325.0L592.6 325.9L593.3 326.3L594.1 325.0L594.7 325.4L594.4 326.0L595.0 326.4L594.4 327.4L595.1 327.8L595.2 327.6L595.9 328.0L596.6 326.9L597.2 327.3L597.0 327.6L597.6 328.1L597.2 328.7L597.9 329.1L597.7 329.3L598.4 329.7L599.2 328.5L599.8 329.0L599.4 329.6L600.1 330.0L600.3 329.7L600.9 330.2L600.1 331.2L600.7 331.7L600.2 332.4L600.8 332.9L601.4 332.1L602.0 332.5L601.4 333.3L602.0 333.7L602.3 333.5L602.9 333.9L602.7 334.1L603.3 334.6L603.5 334.3L604.1 334.8L603.6 335.4L604.2 335.8L605.2 334.7L605.8 335.1L606.0 334.9L606.6 335.4L607.5 334.2L608.1 334.7L606.3 336.9L606.8 337.4L607.1 337.2L607.6 337.7L607.8 337.5L608.4 338.0L608.6 337.8L609.1 338.3L608.9 338.6L609.4 339.1L609.1 339.5L609.7 340.0L608.8 340.9L609.4 341.4L609.3 341.4L609.9 341.9L610.0 341.8L610.6 342.3L609.3 343.6L609.9 344.1L610.6 343.4L611.1 343.9L611.1 343.9L611.7 344.4L612.1 343.9L612.6 344.5L613.5 343.6L614.1 344.1L613.5 344.7L614.0 345.3L615.3 344.0L615.8 344.6L616.2 344.2L616.8 344.7L615.9 345.5L616.4 346.1L619.5 343.3L620.0 343.9L618.7 345.0L619.3 345.6L617.6 347.1L618.1 347.6L618.7 347.1L619.2 347.7L620.0 347.0L620.5 347.6L620.9 347.2L621.4 347.8L619.3 349.7L619.8 350.3L620.3 349.8L620.8 350.4L620.3 350.8L620.8 351.4L621.2 351.1L621.7 351.6L620.1 352.9L620.5 353.5L622.6 351.9L623.1 352.5L621.1 354.0L621.6 354.6L621.5 354.7L621.9 355.3L622.4 354.9L622.8 355.5L622.5 355.8L622.9 356.4L622.8 356.5L623.2 357.1L624.6 356.1L625.1 356.7L627.7 354.8L628.2 355.5L624.1 358.3L624.5 359.0L625.1 358.6L625.5 359.2L625.9 358.9L626.3 359.6L626.2 359.7L626.6 360.3L627.3 359.8L627.8 360.4L626.8 361.1L627.2 361.7L627.2 361.7L627.6 362.3L628.6 361.7L629.0 362.3L629.7 361.9L630.1 362.6L630.9 362.1L631.3 362.8L629.1 364.1L629.5 364.7L629.5 364.7L629.9 365.3L629.3 365.7L629.7 366.4L630.9 365.6L631.3 366.3L630.8 366.6L631.2 367.3L632.4 366.6L632.8 367.2L630.6 368.4L630.9 369.1L632.0 368.5L632.4 369.2L631.4 369.7L631.8 370.3L631.7 370.4L632.1 371.0L633.7 370.2L634.1 370.9L632.4 371.7L632.7 372.4L633.2 372.2L633.5 372.8L634.7 372.3L635.0 373.0L636.0 372.5L636.3 373.2L633.2 374.6L633.5 375.3L634.2 375.0L634.5 375.7L636.4 374.9L636.7 375.6L635.6 376.0L635.9 376.7L637.2 376.2L637.5 376.9L635.3 377.8L635.6 378.5L635.7 378.5L636.0 379.2L640.0 377.5L640.3 378.3L635.2 380.3L635.5 381.0L637.8 380.1L638.1 380.8L636.1 381.5L636.4 382.2L636.8 382.1L637.1 382.8L638.0 382.5L638.2 383.2L637.3 383.5L637.5 384.2L637.3 384.3L637.6 385.0L638.3 384.8L638.5 385.5L639.8 385.1L640.0 385.8L640.3 385.7L640.6 386.4L640.2 386.5L640.5 387.2L639.2 387.6L639.4 388.3L639.2 388.4L639.4 389.1L642.2 388.3L642.4 389.0L639.8 389.8L640.0 390.5L639.8 390.6L640.0 391.3L642.0 390.8L642.2 391.5L640.9 391.8L641.1 392.6L640.4 392.8L640.6 393.5L641.1 393.4L641.3 394.1L641.3 394.1L641.5 394.8L640.8 395.0L641.0 395.7L642.8 395.3L643.0 396.0L642.8 396.1L643.0 396.8L640.3 397.4L640.4 398.1L640.9 398.0L641.0 398.8L641.7 398.6L641.8 399.4L643.2 399.1L643.3 399.9L641.2 400.3L641.3 401.0L642.3 400.8L642.4 401.6L642.7 401.5L642.8 402.3L641.9 402.4L642.0 403.2L642.1 403.1L642.2 403.9L642.5 403.8L642.6 404.6L643.5 404.5L643.6 405.2L645.0 405.0L645.1 405.8L642.6 406.1L642.7 406.8L645.5 406.5L645.6 407.3L646.4 407.2L646.4 407.9L647.1 407.9L647.2 408.6L648.8 408.5L648.9 409.3L647.3 409.4L647.3 410.2L646.4 410.3L646.5 411.1L646.4 411.1L646.4 411.8L647.5 411.8L647.6 412.5L646.1 412.6L646.1 413.4L649.2 413.2L649.3 414.0L648.5 414.0L648.5 414.8L646.2 414.9L646.3 415.7L648.2 415.6L648.2 416.4L646.7 416.5L646.7 417.2L650.4 417.1L650.4 417.9L648.3 418.0L648.3 418.8L645.6 418.8L645.6 419.6L649.1 419.5L649.1 420.3L645.4 420.3L645.4 421.1L646.5 421.1L646.5 421.9L646.5 421.9L646.5 422.6L647.6 422.7L647.5 423.4L646.2 423.4L646.2 424.2L645.5 424.1L645.5 424.9L647.2 425.0L647.1 425.8L646.4 425.7L646.3 426.5L646.1 426.5L646.1 427.2L646.4 427.3L646.3 428.0L647.5 428.1L647.4 428.9L645.2 428.7L645.1 429.5L645.7 429.5L645.6 430.3L644.9 430.2L644.8 431.0L646.5 431.2L646.5 431.9L646.0 431.9L645.9 432.6L645.7 432.6L645.6 433.4L646.7 433.5L646.6 434.3L645.0 434.1L644.9 434.8L646.2 435.0L646.1 435.8L645.0 435.6L644.9 436.4L646.8 436.7L646.7 437.5L645.6 437.3L645.5 438.0L646.8 438.3L646.7 439.0L646.6 439.0L646.4 439.8L644.6 439.5L644.5 440.2L645.0 440.3L644.8 441.1L645.8 441.3L645.6 442.0L646.1 442.1L645.9 442.9L646.0 442.9L645.8 443.7L645.4 443.6L645.3 444.3L645.0 444.3L644.8 445.0L644.4 444.9L644.3 445.7L644.1 445.7L643.9 446.4L644.8 446.6L644.6 447.4L644.0 447.2L643.8 448.0L642.8 447.7L642.6 448.5L646.6 449.5L646.4 450.3L641.6 449.0L641.4 449.7L642.2 450.0L642.0 450.7L641.3 450.5L641.1 451.2L638.1 450.3L637.9 451.1L637.3 450.9L637.1 451.6L637.4 451.7L637.2 452.4L637.3 452.4L637.1 453.1L635.7 452.7A105.0 105.0 0 0 0 541.7 315.1ZM634.9 455.1L635.9 455.5L635.7 456.2L636.7 456.5L636.4 457.2L635.5 456.9L635.3 457.6L635.4 457.7L635.1 458.3L635.2 458.4L635.0 459.1L634.9 459.1L634.7 459.8L636.8 460.6L636.5 461.3L637.8 461.8L637.5 462.6L639.4 463.4L639.1 464.1L636.6 463.0L636.3 463.7L636.2 463.7L635.9 464.3L635.8 464.3L635.4 465.0L634.7 464.6L634.3 465.3L636.7 466.4L636.4 467.1L634.2 466.1L633.8 466.8L633.2 466.5L632.9 467.1L633.0 467.2L632.7 467.9L632.5 467.8L632.2 468.5L631.5 468.1L631.2 468.8L632.8 469.6L632.5 470.3L632.2 470.2L631.9 470.9L633.3 471.6L633.0 472.3L631.0 471.3L630.7 471.9L630.4 471.8L630.1 472.5L630.0 472.4L629.6 473.1L631.5 474.2L631.2 474.8L629.6 473.9L629.2 474.5L628.7 474.3L628.3 474.9L629.1 475.4L628.7 476.0L628.5 475.9L628.2 476.6L628.2 476.6L627.8 477.2L628.2 477.5L627.8 478.1L627.2 477.8L626.8 478.4L629.0 479.8L628.6 480.5L627.5 479.7L627.1 480.4L627.3 480.6L626.9 481.2L626.2 480.7L625.8 481.3L624.8 480.7L624.4 481.3L624.7 481.5L624.3 482.1L623.6 481.7L623.2 482.3L624.1 482.9L623.6 483.5L623.5 483.4L623.1 484.0L622.6 483.7L622.2 484.3L622.1 484.3L621.7 484.9L621.7 484.9L621.2 485.5L621.0 485.3L620.6 485.9L622.0 487.1L621.6 487.7L620.5 486.8L620.0 487.4L621.3 488.4L620.8 489.0L621.2 489.3L620.7 489.9L619.3 488.8L618.8 489.4L620.5 490.7L620.0 491.3L617.6 489.3L617.1 489.9L620.4 492.7L619.8 493.2L617.0 490.7L616.5 491.3L617.9 492.6L617.4 493.1L617.5 493.2L617.0 493.8L616.8 493.6L616.3 494.2L616.1 494.0L615.5 494.5L615.3 494.3L614.8 494.8L615.3 495.3L614.7 495.9L613.8 494.9L613.2 495.5L613.0 495.2L612.5 495.8L612.1 495.4L611.6 495.9L612.8 497.2L612.3 497.7L612.8 498.3L612.2 498.8L612.2 498.7L611.7 499.3L612.6 500.2L612.0 500.8L609.7 498.3L609.1 498.8L609.7 499.5L609.2 500.0L608.9 499.6L608.3 500.1L609.2 501.1L608.6 501.6L608.1 501.0L607.5 501.5L608.5 502.6L607.9 503.1L607.2 502.3L606.6 502.8L606.4 502.5L605.8 503.0L607.2 504.7L606.6 505.1L605.1 503.4L604.6 503.9L604.8 504.2L604.3 504.7L605.0 505.6L604.4 506.1L605.2 507.1L604.6 507.6L602.8 505.2L602.2 505.7L602.4 506.0L601.8 506.4L602.3 507.2L601.7 507.6L603.1 509.5L602.5 509.9L601.2 508.2L600.6 508.7L600.6 508.7L600.0 509.2L599.3 508.3L598.7 508.7L598.7 508.7L598.1 509.1L597.6 508.5L597.0 508.9L596.7 508.4L596.1 508.8L597.3 510.6L596.6 511.0L595.9 509.9L595.3 510.3L596.0 511.4L595.3 511.8L595.5 512.1L594.8 512.5L594.1 511.4L593.5 511.8L593.4 511.7L592.8 512.1L592.8 512.2L592.2 512.6L592.4 512.9L591.8 513.3L591.5 512.9L590.9 513.3L590.3 512.4L589.7 512.7L590.1 513.4L589.4 513.8L589.0 513.0L588.3 513.4L588.4 513.6L587.8 513.9L588.5 515.3L587.9 515.7L587.5 515.0L586.8 515.3L587.3 516.2L586.6 516.6L585.5 514.5L584.9 514.8L585.5 516.0L584.8 516.3L584.4 515.5L583.7 515.9L584.0 516.5L583.3 516.8L582.9 515.9L582.2 516.2L582.5 516.7L581.8 517.0L582.1 517.6L581.4 517.9L581.8 518.7L581.1 519.1L581.0 518.8L580.3 519.1L581.4 521.7L580.7 522.1L579.1 518.3L578.4 518.6L578.9 519.9L578.2 520.2L577.6 518.7L576.9 519.0L577.4 520.1L576.7 520.4L576.2 519.2L575.5 519.4L575.7 520.0L575.0 520.3L575.1 520.6L574.4 520.8L574.3 520.5L573.6 520.7L573.6 520.7L572.9 521.0L573.1 521.6L572.4 521.9L572.5 522.3L571.8 522.5L572.1 523.4L571.4 523.7L571.2 523.0L570.5 523.2L570.6 523.7L569.9 523.9L569.5 522.7L568.8 522.9L569.1 523.8L568.3 524.1L568.1 523.2L567.4 523.4L567.2 522.8L566.4 523.0L566.6 523.5L565.9 523.7L565.8 523.4L565.1 523.6L565.2 524.2L564.5 524.4L564.4 524.1L563.7 524.2L564.1 526.0L563.4 526.2L562.8 523.8L562.0 523.9L562.2 524.6L561.5 524.7L561.8 526.1L561.1 526.3L560.8 525.2L560.1 525.4L560.1 525.3L559.3 525.5L559.5 526.2L558.7 526.4L558.7 526.0L557.9 526.2L558.2 527.4L557.4 527.5L557.2 526.5L556.5 526.6L556.7 527.6L555.9 527.8L555.8 527.3L555.1 527.5L554.9 526.6L554.2 526.7L554.1 526.1L553.3 526.2L553.3 526.0L552.5 526.1L552.7 526.9L551.9 527.0L552.1 527.9L551.3 528.1L551.2 527.1L550.4 527.2L550.3 526.5L549.6 526.6L549.7 527.2L548.9 527.3L548.9 527.4L548.2 527.5L548.2 527.5L547.4 527.6L547.5 527.8L546.7 527.9L546.6 527.0L545.9 527.1L545.9 527.4L545.2 527.5L545.4 530.9L544.7 531.0L544.5 528.3L543.7 528.4L543.6 527.3L542.9 527.3L542.9 527.5L542.1 527.5L542.1 527.5L541.4 527.6L541.4 528.6L540.7 528.6L540.6 527.5L539.9 527.5L539.9 528.6L539.2 528.6L539.2 528.9L538.4 528.9L538.4 528.5L537.6 528.5L537.6 528.2L536.9 528.2L536.9 528.1L536.1 528.1L536.1 528.2L535.4 528.2L535.4 528.7L534.6 528.7L534.6 530.5L533.8 530.5L533.9 528.5L533.1 528.5L533.1 528.1L532.4 528.0L532.3 528.4L531.6 528.4L531.6 529.1L530.8 529.0L530.8 528.0L530.1 528.0L530.1 528.7L529.3 528.7L529.3 528.2L528.6 528.1L528.6 527.2L527.9 527.1L527.9 527.2L527.1 527.2L527.1 527.9L526.3 527.8L526.3 527.6L525.6 527.5L525.6 527.6L524.8 527.5L524.9 527.0L524.1 527.0L524.1 527.1L523.4 527.0L523.2 528.1L522.5 528.1L522.6 527.1L521.8 527.0L521.8 527.1L521.1 527.0L520.9 528.6L520.1 528.5L520.4 526.6L519.6 526.5L519.6 526.8L518.8 526.7L519.0 526.0L518.2 525.9L517.9 527.7L517.2 527.6L517.3 526.5L516.6 526.4L516.4 527.2L515.7 527.1L515.6 527.8L514.8 527.6L515.2 525.7L514.5 525.6L514.3 526.3L513.6 526.1L513.5 526.7L512.7 526.5L512.5 527.5L511.7 527.4L512.2 525.2L511.5 525.1L511.5 524.9L510.8 524.7L510.7 525.3L509.9 525.1L510.0 525.0L509.2 524.8L509.5 523.6L508.8 523.5L508.4 525.1L507.6 525.0L507.9 523.8L507.2 523.6L507.2 523.6L506.5 523.4L506.1 524.9L505.3 524.7L506.0 522.4L505.3 522.2L504.9 523.4L504.2 523.2L504.0 523.8L503.3 523.5L503.3 523.5L502.6 523.2L502.9 522.3L502.2 522.1L502.3 521.8L501.6 521.5L501.5 521.8L500.8 521.6L500.7 521.7L500.0 521.4L499.9 521.8L499.2 521.6L499.1 521.8L498.4 521.5L498.5 521.3L497.7 521.1L497.5 521.6L496.8 521.3L497.2 520.4L496.5 520.1L496.7 519.6L496.0 519.3L495.5 520.5L494.8 520.2L494.8 520.3L494.1 520.0L494.0 520.3L493.3 520.0L493.3 520.1L492.6 519.8L493.0 518.8L492.3 518.5L492.6 517.8L491.9 517.5L490.9 519.8L490.2 519.5L490.7 518.3L490.1 517.9L490.1 517.9L489.4 517.6L488.9 518.7L488.2 518.3L489.1 516.5L488.4 516.1L487.2 518.6L486.5 518.3L486.1 519.0L485.4 518.7L486.6 516.4L485.9 516.0L485.8 516.3L485.1 515.9L484.2 517.7L483.5 517.4L482.3 519.5L481.7 519.1L481.0 520.3L480.3 519.9L481.4 518.0L480.7 517.7L480.8 517.4L480.2 517.0L479.2 518.7L478.5 518.3L479.4 516.7L478.8 516.3L479.4 515.3L478.7 514.9L478.4 515.4L477.7 515.0L478.5 513.8L477.8 513.4L478.1 512.8L477.5 512.4L477.2 512.9L476.5 512.5L476.7 512.2L476.1 511.8L475.2 513.2L474.5 512.8L474.5 512.8L473.9 512.3L474.8 510.9L474.2 510.5L476.8 506.6A105.0 105.0 0 0 0 634.9 455.1ZM474.7 505.2L469.2 512.9L468.5 512.4L470.8 509.3L470.2 508.9L470.1 509.0L469.4 508.6L469.3 508.8L468.6 508.3L469.6 507.1L469.0 506.6L469.3 506.2L468.7 505.7L465.9 509.2L465.3 508.8L467.6 505.9L467.0 505.5L467.5 504.7L467.0 504.3L467.7 503.4L467.1 502.9L465.9 504.3L465.3 503.8L465.3 503.8L464.7 503.3L464.6 503.5L464.0 503.0L462.9 504.2L462.4 503.7L463.6 502.3L463.0 501.8L462.6 502.3L462.0 501.8L462.3 501.4L461.7 500.9L462.6 500.0L462.1 499.5L460.4 501.3L459.8 500.8L462.0 498.4L461.4 497.9L461.7 497.7L461.1 497.2L460.8 497.5L460.2 497.0L460.3 496.9L459.8 496.4L458.7 497.4L458.2 496.9L458.7 496.4L458.2 495.9L456.9 497.1L456.4 496.5L458.2 494.8L457.7 494.2L456.9 495.0L456.4 494.4L456.8 494.0L456.3 493.4L455.5 494.1L455.0 493.6L455.4 493.2L454.9 492.7L455.4 492.2L454.9 491.6L455.1 491.5L454.6 490.9L453.4 492.0L452.9 491.4L453.9 490.5L453.4 489.9L450.6 492.3L450.1 491.7L453.4 489.0L452.9 488.4L452.1 489.1L451.6 488.5L452.2 488.0L451.7 487.4L452.0 487.2L451.6 486.6L450.4 487.5L449.9 486.9L451.2 485.9L450.8 485.3L450.8 485.3L450.3 484.7L450.8 484.4L450.3 483.8L449.6 484.3L449.1 483.7L448.9 483.9L448.5 483.2L447.6 483.9L447.2 483.3L447.7 482.9L447.3 482.3L445.3 483.7L444.8 483.0L446.9 481.6L446.4 481.0L446.6 480.9L446.1 480.3L444.3 481.5L443.9 480.9L446.0 479.5L445.6 478.9L444.5 479.5L444.1 478.9L443.3 479.4L442.9 478.8L444.5 477.7L444.1 477.1L444.5 476.9L444.1 476.2L443.3 476.7L442.9 476.0L442.8 476.1L442.4 475.5L442.9 475.2L442.5 474.5L439.1 476.5L438.7 475.9L442.7 473.5L442.3 472.9L438.9 474.8L438.6 474.1L438.8 474.0L438.4 473.3L441.8 471.5L441.4 470.8L441.2 470.9L440.9 470.3L439.5 471.0L439.2 470.3L439.8 470.0L439.4 469.3L439.1 469.5L438.8 468.8L436.4 470.0L436.0 469.3L436.8 468.9L436.4 468.3L439.7 466.7L439.4 466.0L437.0 467.1L436.7 466.4L438.2 465.7L437.9 465.0L437.9 465.0L437.5 464.4L437.4 464.4L437.1 463.7L437.4 463.6L437.1 462.9L436.4 463.2L436.1 462.5L435.2 462.9L434.9 462.2L437.3 461.2L437.0 460.5L435.7 461.0L435.4 460.3L434.8 460.6L434.5 459.9L434.7 459.8L434.4 459.1L434.1 459.2L433.9 458.5L432.2 459.1L431.9 458.4L433.4 457.9L433.1 457.1L434.3 456.7L434.0 456.0L434.0 456.0L433.7 455.3L433.3 455.5L433.0 454.7L433.0 454.8L432.7 454.0L433.9 453.7L433.7 452.9L434.0 452.9L433.7 452.1L434.0 452.1L433.8 451.3L432.8 451.6L432.6 450.9L432.6 450.9L432.4 450.2L432.9 450.0L432.7 449.3L433.4 449.1L433.2 448.4L432.7 448.5L432.5 447.8L432.4 447.8L432.2 447.1L430.6 447.6L430.4 446.8L430.9 446.7L430.7 446.0L431.4 445.8L431.2 445.1L428.9 445.6L428.8 444.9L431.0 444.3L430.9 443.6L431.0 443.6L430.8 442.8L428.5 443.3L428.3 442.6L430.0 442.2L429.8 441.5L429.0 441.7L428.8 440.9L429.9 440.7L429.7 440.0L429.6 440.0L429.4 439.3L429.9 439.2L429.8 438.4L428.6 438.6L428.4 437.9L428.3 437.9L428.1 437.2L428.7 437.1L428.6 436.3L428.7 436.3L428.6 435.6L428.0 435.7L427.9 434.9L427.1 435.0L427.0 434.3L427.2 434.2L427.1 433.5L428.0 433.4L427.9 432.6L427.9 432.6L427.8 431.8L428.3 431.8L428.2 431.0L427.2 431.1L427.2 430.4L427.2 430.4L427.1 429.6L426.8 429.6L426.7 428.9L427.3 428.8L427.2 428.1L426.5 428.1L426.4 427.4L425.0 427.5L424.9 426.7L426.4 426.6L426.4 425.8L428.1 425.7L428.0 425.0L427.4 425.0L427.4 424.3L426.6 424.3L426.6 423.5L427.8 423.5L427.8 422.7L427.1 422.8L427.1 422.0L421.5 422.1L421.5 421.3L423.9 421.3L423.9 420.5L425.3 420.5L425.3 419.7L425.2 419.7L425.2 418.9L424.7 418.9L424.7 418.2L424.7 418.2L424.7 417.4L424.4 417.4L424.4 416.6L431.0 416.8A105.0 105.0 0 0 0 474.7 505.2ZM431.2 414.2L426.7 414.0L426.7 413.2L426.6 413.2L426.6 412.4L427.8 412.5L427.9 411.8L424.8 411.5L424.8 410.8L424.3 410.7L424.4 409.9L429.5 410.4L429.5 409.7L429.0 409.6L429.1 408.9L429.4 408.9L429.5 408.2L429.6 408.2L429.7 407.4L428.1 407.2L428.2 406.5L427.4 406.4L427.5 405.6L430.3 406.0L430.4 405.3L429.9 405.2L430.0 404.5L430.8 404.6L430.9 403.8L429.1 403.6L429.2 402.8L429.7 402.9L429.8 402.2L429.0 402.0L429.1 401.3L429.5 401.4L429.6 400.6L428.9 400.5L429.1 399.7L428.4 399.6L428.6 398.9L425.9 398.4L426.1 397.6L429.8 398.3L429.9 397.6L427.9 397.2L428.0 396.4L426.2 396.0L426.4 395.3L431.0 396.3L431.2 395.6L430.7 395.4L430.8 394.7L430.2 394.6L430.4 393.8L427.4 393.1L427.6 392.3L431.3 393.3L431.5 392.6L432.0 392.7L432.1 391.9L431.5 391.8L431.7 391.1L431.2 390.9L431.4 390.2L429.3 389.6L429.5 388.8L432.8 389.8L433.0 389.1L431.9 388.7L432.1 388.0L432.6 388.2L432.9 387.5L432.0 387.2L432.3 386.5L433.6 386.9L433.8 386.2L432.5 385.8L432.8 385.0L433.0 385.1L433.3 384.4L433.1 384.4L433.4 383.7L434.5 384.1L434.7 383.3L434.8 383.4L435.0 382.7L432.9 381.9L433.2 381.2L435.4 382.0L435.7 381.3L435.2 381.1L435.5 380.4L436.2 380.7L436.5 380.0L434.0 379.0L434.3 378.3L436.7 379.3L437.0 378.6L435.9 378.1L436.1 377.4L436.4 377.5L436.7 376.8L436.4 376.7L436.7 376.0L437.0 376.1L437.3 375.5L437.1 375.4L437.4 374.7L437.4 374.7L437.7 374.0L437.5 373.9L437.8 373.2L438.4 373.5L438.7 372.8L438.2 372.5L438.5 371.9L439.8 372.5L440.2 371.9L439.4 371.5L439.7 370.8L440.5 371.2L440.9 370.5L439.5 369.8L439.8 369.1L441.2 369.8L441.5 369.2L441.6 369.2L441.9 368.6L441.6 368.4L441.9 367.7L440.8 367.1L441.2 366.4L440.6 366.1L441.0 365.4L441.6 365.8L442.0 365.1L441.5 364.9L441.9 364.2L442.6 364.6L443.0 364.0L441.1 362.8L441.5 362.2L441.3 362.1L441.7 361.4L444.2 363.0L444.6 362.3L444.0 361.9L444.4 361.3L444.3 361.2L444.7 360.6L443.8 360.0L444.2 359.4L444.0 359.2L444.5 358.6L443.9 358.2L444.3 357.6L445.1 358.1L445.5 357.5L445.6 357.5L446.0 356.9L446.8 357.4L447.2 356.8L447.0 356.6L447.4 356.0L447.5 356.1L448.0 355.5L451.3 357.9A105.0 105.0 0 0 0 431.2 414.2ZM452.8 355.8L449.9 353.6L450.3 353.0L449.3 352.2L449.8 351.6L449.7 351.5L450.2 350.9L451.3 351.8L451.8 351.2L451.4 350.9L451.9 350.3L451.0 349.6L451.5 349.0L452.7 350.0L453.2 349.4L453.2 349.4L453.6 348.8L453.2 348.4L453.7 347.9L455.3 349.3L455.8 348.8L453.6 346.8L454.1 346.2L456.0 347.9L456.5 347.4L455.9 346.8L456.5 346.3L457.3 347.1L457.8 346.5L457.6 346.3L458.1 345.8L457.4 345.1L457.9 344.5L458.3 344.9L458.8 344.4L458.7 344.3L459.2 343.7L458.8 343.3L459.3 342.8L459.9 343.3L460.4 342.8L459.7 342.1L460.2 341.5L459.0 340.2L459.5 339.7L461.1 341.3L461.6 340.8L461.8 341.0L462.4 340.5L462.0 340.1L462.6 339.6L462.6 339.6L463.1 339.1L463.2 339.1L463.7 338.6L463.1 337.9L463.7 337.4L464.7 338.6L465.3 338.1L463.9 336.5L464.5 336.0L464.6 336.2L465.2 335.7L466.1 336.7L466.7 336.3L467.1 336.8L467.7 336.3L467.8 336.5L468.4 336.0L468.3 335.8L468.9 335.4L469.2 335.8L469.8 335.4L469.9 335.5L470.5 335.0L470.3 334.7L470.8 334.2L469.7 332.7L470.3 332.2L471.2 333.4L471.8 332.9L471.4 332.4L472.0 332.0L472.1 332.1L472.7 331.7L470.9 329.2L471.5 328.7L471.2 328.3L471.8 327.8L474.1 331.0L474.7 330.6L474.8 330.8L475.4 330.3L475.1 329.9L475.8 329.5L474.9 328.1L475.5 327.7L476.7 329.5L477.3 329.1L477.3 329.0L477.9 328.6L476.9 327.0L477.5 326.6L478.2 327.7L478.9 327.3L478.4 326.5L479.0 326.1L478.5 325.2L479.2 324.9L479.1 324.7L479.7 324.3L480.3 325.2L480.9 324.8L481.3 325.4L481.9 325.1L482.2 325.5L482.8 325.1L482.4 324.4L483.1 324.0L484.0 325.6L484.6 325.2L484.2 324.4L484.9 324.1L485.0 324.3L485.6 323.9L485.6 323.8L486.3 323.5L486.8 324.6L487.5 324.2L485.9 321.1L486.6 320.8L488.0 323.7L488.7 323.3L488.6 323.1L489.3 322.8L489.1 322.4L489.8 322.1L489.0 320.5L489.7 320.2L491.8 324.7A105.0 105.0 0 0 0 452.8 355.8ZM494.1 323.6L492.9 320.7L493.6 320.4L493.2 319.6L493.9 319.3L494.3 320.1L495.0 319.8L494.4 318.5L495.1 318.2L495.6 319.3L496.3 319.1L495.9 318.1L496.6 317.8L496.9 318.5L497.6 318.3L497.5 318.0L498.3 317.7L497.9 316.9L498.7 316.6L498.8 317.0L499.5 316.7L499.3 316.1L500.0 315.8L500.4 316.8L501.1 316.5L500.6 315.2L501.4 315.0L501.4 315.1L502.2 314.9L502.8 316.7L503.5 316.5L503.6 316.9L504.3 316.7L504.4 317.0L505.2 316.7L504.9 315.8L505.6 315.6L505.4 315.0L506.2 314.8L506.5 316.0L507.3 315.8L507.1 315.2L507.8 315.0L508.0 315.5L508.7 315.3L508.5 314.5L509.2 314.3L509.5 315.5L510.3 315.3L510.0 314.0L510.7 313.9L510.4 312.8L511.2 312.6L511.7 314.7L512.4 314.5L512.4 314.5L513.2 314.3L513.3 314.8L514.0 314.7L514.0 314.5L514.7 314.3L514.1 311.3L514.9 311.1L515.2 313.0L516.0 312.9L515.9 312.3L516.6 312.1L516.8 313.2L517.6 313.0L517.6 313.4L518.4 313.3L518.2 312.0L518.9 311.9L519.1 313.2L519.9 313.1L519.5 310.5L520.3 310.4L520.6 312.5L521.3 312.4L521.3 312.4L522.1 312.3L522.1 312.5L522.9 312.4L522.9 312.6L523.6 312.5L523.6 312.4L524.4 312.3L524.3 311.8L525.1 311.7L525.1 311.7L525.9 311.6L525.8 311.4L526.6 311.4L526.9 315.3A105.0 105.0 0 0 0 494.1 323.6Z" fill="#f3741c" stroke="#f3741c" stroke-width="0.15" stroke-linejoin="round"/><path d="M541.0 328.4L541.1 326.3L541.7 326.3L541.8 325.1L542.5 325.1L542.4 326.4L543.0 326.5L543.5 320.3L544.2 320.4L544.1 321.7L544.8 321.8L544.4 325.5L545.1 325.6L545.0 326.2L545.7 326.3L545.7 325.8L546.4 325.8L546.4 325.6L547.1 325.7L546.9 327.1L547.5 327.2L548.5 319.3L549.2 319.4L548.2 327.1L548.9 327.2L549.6 321.9L550.3 322.0L550.6 319.8L551.3 319.9L550.4 326.0L551.0 326.1L551.5 322.8L552.2 322.9L551.7 326.2L552.3 326.3L552.7 324.3L553.3 324.4L552.9 326.8L553.6 326.9L554.7 321.0L555.4 321.1L554.4 326.0L555.1 326.2L554.8 327.4L555.5 327.5L555.5 327.1L556.2 327.2L556.6 325.5L557.2 325.6L557.9 322.9L558.5 323.0L557.2 328.9L557.8 329.0L557.8 328.9L558.5 329.0L558.6 328.6L559.2 328.8L560.2 324.9L560.9 325.1L560.0 328.5L560.6 328.7L560.5 329.1L561.1 329.3L562.2 325.3L562.9 325.5L562.0 328.5L562.7 328.7L562.6 328.7L563.3 328.9L563.0 329.9L563.6 330.0L563.7 329.9L564.3 330.1L565.6 325.9L566.3 326.1L565.0 330.0L565.7 330.2L565.6 330.2L566.3 330.4L567.2 327.7L567.8 327.9L566.9 330.7L567.5 330.9L568.9 326.8L569.6 327.0L568.2 330.8L568.8 331.1L568.8 331.2L569.4 331.5L571.1 326.9L571.8 327.1L570.0 331.7L570.6 331.9L570.7 331.6L571.3 331.9L571.2 332.4L571.8 332.6L572.1 331.8L572.7 332.0L574.8 327.0L575.5 327.3L573.2 332.6L573.8 332.9L573.9 332.6L574.6 332.8L576.6 328.2L577.2 328.5L575.6 332.2L576.2 332.4L575.7 333.6L576.3 333.8L576.4 333.5L577.0 333.8L578.0 331.8L578.6 332.1L580.5 328.2L581.1 328.5L578.2 334.4L578.8 334.7L579.8 332.8L580.4 333.1L579.5 334.8L580.1 335.1L583.4 328.8L584.0 329.1L580.7 335.5L581.3 335.8L580.6 337.0L581.2 337.3L581.6 336.5L582.2 336.9L581.7 337.7L582.3 338.1L582.4 337.8L583.0 338.1L583.3 337.6L583.9 337.9L583.6 338.3L584.2 338.6L584.5 338.2L585.0 338.5L585.0 338.6L585.5 339.0L585.5 339.1L586.0 339.4L586.0 339.4L586.6 339.8L586.9 339.3L587.5 339.7L589.3 336.8L589.9 337.2L587.4 340.9L588.0 341.3L588.0 341.2L588.6 341.6L588.2 342.1L588.8 342.5L588.7 342.6L589.2 343.0L589.1 343.2L589.6 343.6L590.1 342.9L590.6 343.3L590.6 343.3L591.1 343.7L591.2 343.6L591.7 344.0L593.3 341.8L593.8 342.2L592.4 344.1L593.0 344.5L593.4 343.9L593.9 344.3L593.6 344.7L594.1 345.2L594.4 344.8L594.9 345.2L595.0 345.1L595.5 345.5L595.2 345.9L595.7 346.3L595.9 346.1L596.4 346.5L596.2 346.8L596.7 347.3L597.5 346.2L598.0 346.7L597.5 347.3L598.0 347.7L598.4 347.2L598.9 347.7L598.7 347.9L599.2 348.3L598.4 349.3L598.8 349.8L599.3 349.3L599.8 349.7L600.1 349.4L600.5 349.9L599.8 350.7L600.2 351.2L600.0 351.4L600.5 351.9L600.7 351.6L601.2 352.1L601.8 351.4L602.3 351.9L601.6 352.6L602.0 353.1L602.8 352.3L603.3 352.8L603.6 352.4L604.1 352.9L603.3 353.6L603.8 354.1L603.7 354.2L604.2 354.7L605.5 353.4L605.9 353.9L604.6 355.2L605.0 355.7L605.7 355.0L606.2 355.5L606.5 355.2L607.0 355.7L606.4 356.2L606.9 356.7L606.8 356.8L607.2 357.3L607.7 356.8L608.2 357.3L608.3 357.2L608.7 357.7L608.1 358.2L608.5 358.7L608.7 358.6L609.2 359.1L609.1 359.1L609.6 359.6L610.4 358.9L610.9 359.4L609.9 360.2L610.3 360.7L610.3 360.7L610.7 361.2L610.6 361.3L611.0 361.9L611.4 361.6L611.8 362.1L611.7 362.1L612.1 362.7L612.7 362.2L613.1 362.8L612.1 363.5L612.4 364.1L611.9 364.4L612.3 365.0L612.9 364.6L613.3 365.1L616.8 362.6L617.2 363.1L612.8 366.2L613.1 366.8L613.3 366.7L613.7 367.2L615.1 366.2L615.5 366.8L615.1 367.1L615.4 367.6L615.6 367.5L615.9 368.1L615.0 368.7L615.4 369.2L615.5 369.2L615.8 369.7L615.6 369.9L615.9 370.4L616.0 370.4L616.3 371.0L617.0 370.5L617.4 371.1L620.8 369.0L621.2 369.6L617.7 371.7L618.0 372.3L618.0 372.3L618.4 372.8L618.9 372.5L619.2 373.1L618.9 373.3L619.2 373.9L618.7 374.2L619.0 374.7L619.7 374.3L620.1 374.9L619.7 375.1L620.1 375.7L620.5 375.4L620.8 376.0L621.1 375.9L621.4 376.5L620.9 376.7L621.2 377.3L621.7 377.0L622.0 377.6L622.8 377.3L623.1 377.9L621.9 378.5L622.1 379.1L622.1 379.1L622.4 379.7L623.7 379.1L623.9 379.7L622.5 380.4L622.8 381.0L622.5 381.1L622.7 381.7L623.4 381.4L623.7 382.0L624.1 381.8L624.4 382.5L623.3 382.9L623.6 383.5L623.7 383.5L623.9 384.1L623.7 384.2L624.0 384.8L623.8 384.9L624.0 385.5L623.5 385.7L623.8 386.3L624.1 386.2L624.3 386.8L624.4 386.8L624.6 387.4L624.7 387.3L624.9 388.0L625.3 387.8L625.5 388.4L625.7 388.4L625.9 389.0L625.8 389.1L626.0 389.7L626.0 389.7L626.2 390.3L626.2 390.3L626.4 390.9L627.4 390.6L627.6 391.3L627.6 391.3L627.8 391.9L627.3 392.1L627.5 392.7L626.8 392.9L627.0 393.5L626.7 393.6L626.9 394.2L627.0 394.2L627.1 394.9L626.7 395.0L626.9 395.6L627.7 395.4L627.9 396.0L627.3 396.2L627.4 396.8L627.3 396.9L627.4 397.5L632.4 396.3L632.6 397.0L627.9 398.1L628.0 398.7L627.7 398.8L627.8 399.4L627.6 399.5L627.7 400.1L629.0 399.8L629.2 400.5L628.9 400.5L629.1 401.2L628.8 401.2L628.9 401.9L630.6 401.6L630.7 402.2L629.4 402.5L629.5 403.1L630.1 403.0L630.2 403.7L629.9 403.7L630.0 404.4L629.8 404.4L630.0 405.1L629.9 405.1L630.0 405.7L630.2 405.7L630.3 406.4L629.6 406.4L629.7 407.1L635.5 406.3L635.6 407.0L630.8 407.6L630.9 408.3L630.0 408.4L630.0 409.1L630.0 409.1L630.1 409.7L629.5 409.8L629.6 410.4L629.8 410.4L629.9 411.1L629.8 411.1L629.9 411.7L630.7 411.6L630.8 412.3L630.7 412.3L630.8 413.0L630.3 413.0L630.3 413.7L630.0 413.7L630.1 414.3L629.8 414.4L629.8 415.0L629.8 415.0L629.8 415.7L630.2 415.7L630.2 416.3L629.8 416.3L629.8 417.0L629.6 417.0L629.6 417.6L630.6 417.6L630.6 418.3L630.5 418.3L630.5 418.9L635.5 418.9L635.5 419.6L631.0 419.6L631.0 420.3L630.8 420.3L630.8 420.9L630.7 420.9L630.7 421.6L630.6 421.6L630.6 422.2L631.2 422.3L631.1 422.9L639.2 423.2L639.2 423.9L638.6 423.9L638.6 424.6L630.2 424.2L630.2 424.9L631.6 424.9L631.6 425.6L630.7 425.5L630.6 426.2L630.4 426.2L630.3 426.8L631.0 426.9L631.0 427.6L635.1 427.9L635.0 428.6L629.7 428.1L629.6 428.8L630.8 428.9L630.8 429.5L629.8 429.5L629.8 430.1L629.8 430.1L629.7 430.8L629.2 430.7L629.1 431.3L629.4 431.4L629.3 432.0L630.4 432.2L630.3 432.8L629.3 432.7L629.2 433.3L630.6 433.5L630.5 434.2L630.0 434.1L629.9 434.8L630.1 434.8L630.0 435.5L629.1 435.3L629.0 436.0L629.4 436.1L629.3 436.7L629.3 436.7L629.2 437.4L629.4 437.4L629.2 438.0L628.9 438.0L628.7 438.6L628.5 438.6L628.4 439.2L629.7 439.5L629.6 440.1L630.1 440.3L630.0 440.9L629.0 440.7L628.8 441.3L628.0 441.1L627.8 441.8L628.0 441.8L627.8 442.5L628.2 442.6L628.0 443.2L628.5 443.3L628.4 444.0L627.5 443.8L627.4 444.4L627.9 444.5L627.7 445.2L625.4 444.5L625.3 445.2L625.3 445.2L625.2 445.8L625.1 445.8L624.9 446.4L625.4 446.6L625.2 447.2L625.2 447.2L625.0 447.8L624.8 447.7L624.6 448.3L624.2 448.2L624.0 448.8L623.0 448.5A91.6 91.6 0 0 0 541.0 328.4ZM622.3 450.6L625.7 451.9L625.5 452.5L624.7 452.2L624.5 452.8L625.7 453.3L625.5 453.9L623.6 453.2L623.4 453.8L625.9 454.8L625.7 455.4L623.9 454.7L623.6 455.3L622.6 454.9L622.3 455.5L623.4 455.9L623.2 456.5L622.5 456.2L622.2 456.8L623.3 457.3L623.0 457.9L621.9 457.4L621.7 458.0L622.1 458.2L621.8 458.8L622.1 459.0L621.9 459.6L621.8 459.6L621.6 460.1L622.8 460.7L622.5 461.3L621.7 460.9L621.4 461.5L621.5 461.6L621.2 462.2L620.4 461.8L620.1 462.4L620.5 462.6L620.2 463.2L620.6 463.4L620.3 464.0L619.3 463.4L619.0 464.0L619.6 464.3L619.3 464.9L618.6 464.6L618.3 465.1L619.2 465.6L618.9 466.2L617.9 465.7L617.6 466.2L619.4 467.2L619.0 467.8L617.8 467.1L617.5 467.7L618.2 468.1L617.8 468.7L617.6 468.5L617.3 469.1L617.6 469.3L617.3 469.9L616.9 469.7L616.6 470.2L616.2 470.0L615.8 470.5L616.2 470.8L615.8 471.3L615.9 471.3L615.5 471.9L614.9 471.5L614.5 472.0L614.6 472.1L614.3 472.7L614.4 472.8L614.0 473.3L613.4 472.9L613.1 473.4L613.5 473.7L613.1 474.3L613.7 474.7L613.3 475.2L612.7 474.8L612.3 475.3L612.8 475.6L612.4 476.2L612.9 476.6L612.5 477.1L611.9 476.6L611.5 477.1L610.7 476.6L610.3 477.1L611.4 477.9L611.0 478.5L611.1 478.5L610.7 479.0L610.1 478.6L609.7 479.1L609.7 479.1L609.3 479.6L608.7 479.1L608.3 479.6L608.2 479.6L607.8 480.1L608.4 480.6L608.0 481.1L607.7 480.9L607.3 481.4L608.1 482.0L607.6 482.5L607.5 482.5L607.1 483.0L607.1 483.0L606.7 483.5L607.4 484.2L607.0 484.7L606.0 483.7L605.5 484.2L605.9 484.6L605.5 485.1L605.6 485.2L605.1 485.7L604.7 485.2L604.2 485.7L603.8 485.3L603.4 485.8L604.1 486.6L603.7 487.0L603.1 486.5L602.7 487.0L603.1 487.4L602.6 487.8L602.2 487.4L601.7 487.9L604.7 491.0L604.2 491.5L602.0 489.1L601.5 489.6L601.2 489.2L600.7 489.7L601.5 490.5L601.0 491.0L600.0 489.9L599.5 490.4L599.1 489.9L598.6 490.3L598.6 490.3L598.1 490.8L598.1 490.8L597.6 491.2L600.5 494.5L600.0 495.0L597.8 492.4L597.2 492.8L597.1 492.7L596.6 493.1L597.0 493.6L596.5 494.0L595.9 493.3L595.4 493.7L595.3 493.6L594.8 494.0L595.1 494.4L594.6 494.8L594.6 494.8L594.1 495.2L593.6 494.6L593.0 495.0L595.3 497.9L594.8 498.4L592.2 494.9L591.7 495.3L591.4 495.0L590.9 495.4L590.9 495.4L590.4 495.8L590.2 495.5L589.6 495.8L592.2 499.4L591.6 499.8L589.5 496.8L588.9 497.1L588.9 497.1L588.4 497.5L588.2 497.2L587.6 497.5L588.0 498.1L587.5 498.5L587.2 498.0L586.6 498.4L586.7 498.5L586.2 498.9L586.8 499.9L586.3 500.2L586.1 499.9L585.5 500.2L585.3 499.9L584.7 500.2L584.6 500.0L584.0 500.3L584.0 500.3L583.4 500.6L584.1 501.7L583.5 502.0L582.8 500.8L582.2 501.1L583.1 502.8L582.6 503.1L581.6 501.4L581.1 501.7L581.8 503.2L581.3 503.5L580.7 502.4L580.1 502.7L580.3 503.0L579.7 503.3L579.5 502.9L578.9 503.2L578.9 503.2L578.3 503.5L578.2 503.4L577.7 503.7L577.7 503.7L577.1 504.0L577.7 505.3L577.1 505.5L576.7 504.8L576.2 505.1L575.7 504.2L575.2 504.5L575.0 504.2L574.5 504.5L574.8 505.3L574.2 505.6L574.1 505.3L573.5 505.6L573.5 505.5L572.9 505.7L573.3 506.7L572.7 507.0L573.0 507.7L572.4 508.0L572.1 507.3L571.5 507.6L571.4 507.4L570.8 507.7L571.3 508.8L570.7 509.1L570.3 508.1L569.7 508.3L569.6 508.3L569.0 508.5L569.1 508.6L568.5 508.9L569.1 510.5L568.4 510.7L567.8 509.1L567.2 509.3L567.3 509.6L566.7 509.8L566.9 510.6L566.3 510.8L566.4 511.0L565.7 511.2L565.5 510.5L564.9 510.7L565.1 511.3L564.4 511.5L564.2 510.6L563.5 510.8L563.8 511.8L563.2 511.9L563.2 512.0L562.6 512.2L562.4 511.8L561.8 512.0L561.7 511.7L561.1 511.9L560.8 511.0L560.2 511.1L560.4 511.7L559.7 511.9L559.5 511.1L558.9 511.2L558.9 511.3L558.2 511.5L558.3 511.7L557.7 511.8L557.8 512.3L557.1 512.4L557.0 512.0L556.4 512.1L556.5 512.5L555.8 512.6L556.4 515.5L555.8 515.7L555.0 512.1L554.4 512.2L554.7 514.0L554.1 514.1L553.8 512.6L553.1 512.8L553.3 513.6L552.6 513.7L552.5 512.8L551.8 512.9L551.8 512.7L551.1 512.8L551.2 513.2L550.6 513.3L550.5 513.2L549.9 513.3L549.9 513.2L549.2 513.3L549.3 513.6L548.6 513.7L548.6 513.5L547.9 513.6L548.0 514.4L547.4 514.4L547.6 516.1L546.9 516.2L546.6 513.6L546.0 513.6L546.2 516.0L545.5 516.1L545.7 518.1L545.1 518.2L544.6 513.4L544.0 513.4L544.0 513.7L543.3 513.7L543.3 513.8L542.7 513.8L542.7 513.8L542.0 513.8L542.0 514.0L541.4 514.0L541.4 515.1L540.8 515.1L540.7 514.5L540.1 514.5L540.1 514.8L539.4 514.8L539.4 514.9L538.8 515.0L538.8 515.1L538.1 515.1L538.1 515.4L537.4 515.4L537.4 514.6L536.8 514.6L536.8 516.0L536.1 516.0L536.1 516.1L535.4 516.1L535.4 516.3L534.8 516.2L534.8 516.1L534.1 516.1L534.1 516.0L533.4 516.0L533.4 515.7L532.8 515.7L532.8 514.7L532.1 514.7L532.1 514.7L531.5 514.6L531.5 514.5L530.8 514.5L530.9 514.1L530.2 514.0L530.1 515.2L529.5 515.2L529.5 514.6L528.8 514.6L528.7 516.1L528.1 516.0L528.1 515.1L527.5 515.1L527.5 514.2L526.9 514.1L526.8 514.8L526.2 514.7L526.1 515.2L525.4 515.1L525.5 514.2L524.9 514.1L524.7 515.3L524.1 515.2L524.3 513.4L523.7 513.3L523.5 514.8L522.8 514.7L522.7 515.2L522.1 515.1L521.9 516.2L521.2 516.1L521.6 513.7L521.0 513.6L521.1 512.6L520.5 512.5L520.4 512.8L519.8 512.7L519.7 513.1L519.0 513.0L518.8 514.3L518.2 514.1L518.5 512.5L517.8 512.3L517.7 513.0L517.1 512.8L517.1 512.4L516.5 512.3L516.5 512.4L515.8 512.3L515.6 513.4L514.9 513.3L515.0 513.1L514.3 512.9L514.6 511.9L513.9 511.7L513.7 512.5L513.1 512.3L513.1 512.2L512.5 512.0L512.2 513.1L511.6 513.0L511.9 511.5L511.3 511.3L511.2 511.7L510.6 511.5L510.5 511.7L509.9 511.5L510.1 510.6L509.5 510.5L509.3 511.1L508.7 510.9L508.7 510.7L508.1 510.5L507.9 511.3L507.2 511.1L507.3 510.9L506.7 510.7L506.7 510.6L506.0 510.4L506.0 510.4L505.4 510.2L505.1 511.2L504.4 511.0L504.8 509.8L504.2 509.6L504.2 509.7L503.6 509.5L503.5 509.5L502.9 509.3L502.8 509.6L502.2 509.3L502.3 509.1L501.7 508.8L502.1 507.8L501.4 507.6L501.1 508.5L500.5 508.2L500.4 508.4L499.8 508.1L500.1 507.3L499.5 507.1L499.3 507.5L498.7 507.3L498.6 507.4L498.0 507.2L498.2 506.7L497.6 506.5L496.3 509.4L495.7 509.1L495.4 509.8L494.7 509.6L496.1 506.7L495.5 506.4L495.8 505.6L495.2 505.3L495.0 505.8L494.4 505.6L494.6 505.2L494.0 504.9L494.0 504.9L493.4 504.6L492.9 505.6L492.3 505.3L492.9 504.1L492.3 503.8L492.3 503.7L491.8 503.4L491.7 503.5L491.1 503.2L491.0 503.5L490.4 503.2L490.5 503.1L489.9 502.8L490.0 502.6L489.4 502.3L489.5 502.1L488.9 501.8L488.9 501.8L488.3 501.5L487.9 502.2L487.3 501.8L487.9 500.9L487.4 500.5L487.5 500.4L486.9 500.0L486.5 500.6L486.0 500.3L485.7 500.6L485.2 500.3L485.9 499.1L485.4 498.8L485.5 498.6L484.9 498.3L484.7 498.7L484.1 498.3L484.1 498.3L483.6 497.9L483.5 498.0L482.9 497.7L484.4 495.6A91.6 91.6 0 0 0 622.3 450.6ZM482.5 494.3L480.7 496.9L480.2 496.5L480.5 496.0L480.0 495.6L479.8 495.8L479.3 495.4L478.5 496.4L478.0 496.0L477.7 496.4L477.2 496.0L477.6 495.5L477.0 495.1L477.6 494.4L477.0 494.0L476.2 495.0L475.7 494.6L476.4 493.8L475.8 493.4L475.8 493.5L475.3 493.0L475.7 492.5L475.2 492.1L474.5 492.9L474.0 492.5L474.0 492.5L473.5 492.1L474.3 491.1L473.8 490.7L473.3 491.3L472.8 490.8L473.7 489.8L473.3 489.3L470.5 492.4L470.0 492.0L472.0 489.7L471.5 489.3L471.3 489.5L470.8 489.1L470.8 489.0L470.4 488.6L469.4 489.6L468.9 489.1L469.6 488.5L469.1 488.0L469.1 488.0L468.6 487.5L468.8 487.4L468.3 486.9L468.6 486.6L468.2 486.1L468.4 485.8L468.0 485.3L467.3 486.0L466.9 485.5L468.0 484.4L467.6 484.0L467.1 484.4L466.7 483.9L467.2 483.4L466.8 482.9L463.4 486.0L462.9 485.5L465.6 483.0L465.2 482.5L466.0 481.9L465.5 481.4L465.4 481.5L465.0 481.0L464.5 481.4L464.1 480.9L464.4 480.6L464.0 480.1L463.9 480.2L463.4 479.7L463.2 479.9L462.8 479.4L462.6 479.5L462.2 479.0L462.3 478.9L461.9 478.4L461.7 478.6L461.3 478.0L461.1 478.2L460.7 477.7L460.6 477.7L460.2 477.2L459.9 477.5L459.5 476.9L461.0 475.8L460.6 475.3L460.7 475.2L460.3 474.7L459.8 475.0L459.5 474.5L459.4 474.5L459.0 474.0L458.6 474.3L458.2 473.8L457.7 474.1L457.3 473.6L457.4 473.5L457.0 473.0L456.2 473.5L455.9 472.9L456.6 472.5L456.2 471.9L456.9 471.5L456.5 470.9L457.2 470.5L456.8 469.9L454.9 471.2L454.6 470.6L456.7 469.3L456.3 468.7L455.8 469.0L455.5 468.5L455.0 468.8L454.7 468.2L454.0 468.6L453.7 468.0L455.1 467.2L454.7 466.6L454.2 467.0L453.8 466.4L450.6 468.2L450.2 467.6L453.5 465.8L453.2 465.2L452.2 465.8L451.9 465.2L452.4 464.9L452.1 464.3L452.2 464.3L451.9 463.7L451.6 463.9L451.3 463.3L451.4 463.2L451.1 462.6L450.6 462.8L450.4 462.2L451.5 461.7L451.2 461.1L451.1 461.1L450.8 460.5L450.3 460.8L450.0 460.2L449.6 460.4L449.3 459.8L450.6 459.2L450.4 458.6L449.7 458.9L449.4 458.3L449.9 458.0L449.7 457.4L449.4 457.6L449.1 457.0L449.0 457.0L448.8 456.4L448.7 456.4L448.4 455.8L448.2 455.9L448.0 455.3L448.0 455.3L447.8 454.6L446.7 455.1L446.4 454.5L447.9 453.9L447.7 453.3L446.8 453.6L446.6 453.0L446.4 453.0L446.2 452.4L442.0 453.9L441.8 453.3L441.5 453.4L441.3 452.7L446.3 451.0L446.1 450.3L445.2 450.6L445.0 450.0L446.4 449.5L446.1 448.9L443.1 449.9L442.9 449.3L444.7 448.7L444.5 448.0L445.0 447.9L444.8 447.3L445.5 447.0L445.3 446.4L444.6 446.6L444.4 446.0L444.9 445.8L444.8 445.2L444.7 445.2L444.5 444.6L443.7 444.8L443.5 444.2L442.7 444.4L442.5 443.7L443.9 443.4L443.8 442.7L443.4 442.8L443.2 442.2L444.2 441.9L444.0 441.3L444.7 441.1L444.6 440.5L443.1 440.8L443.0 440.2L443.5 440.1L443.4 439.4L443.5 439.4L443.4 438.7L442.7 438.9L442.6 438.2L441.4 438.5L441.3 437.8L443.8 437.3L443.7 436.7L440.7 437.2L440.6 436.6L443.3 436.1L443.2 435.4L442.5 435.5L442.4 434.9L443.1 434.8L443.0 434.1L442.7 434.2L442.6 433.5L442.9 433.5L442.8 432.8L441.2 433.0L441.1 432.4L443.1 432.1L443.0 431.5L442.8 431.5L442.7 430.9L442.8 430.8L442.7 430.2L441.7 430.3L441.6 429.7L442.3 429.6L442.3 428.9L441.6 429.0L441.5 428.3L441.2 428.4L441.2 427.7L441.7 427.7L441.6 427.0L442.0 427.0L442.0 426.3L441.2 426.4L441.2 425.7L442.3 425.6L442.2 425.0L442.3 425.0L442.3 424.3L442.6 424.3L442.6 423.7L441.4 423.7L441.4 423.0L442.0 423.0L442.0 422.4L442.3 422.4L442.3 421.7L441.2 421.7L441.2 421.1L440.4 421.1L440.4 420.4L438.0 420.4L438.0 419.7L439.8 419.7L439.8 419.1L439.6 419.1L439.6 418.4L439.0 418.4L439.0 417.7L439.9 417.7L440.0 417.0L444.4 417.2A91.6 91.6 0 0 0 482.5 494.3ZM444.5 414.9L440.5 414.7L440.5 414.1L442.1 414.2L442.1 413.5L441.7 413.5L441.8 412.8L441.0 412.8L441.0 412.1L441.1 412.1L441.2 411.4L440.7 411.4L440.8 410.7L441.4 410.8L441.4 410.1L440.0 410.0L440.1 409.3L440.7 409.4L440.7 408.7L441.3 408.8L441.4 408.1L441.1 408.1L441.2 407.4L442.4 407.6L442.4 406.9L442.3 406.9L442.4 406.3L442.6 406.3L442.7 405.7L442.2 405.6L442.3 404.9L442.8 405.0L442.9 404.4L442.7 404.3L442.8 403.7L443.6 403.8L443.8 403.2L443.4 403.1L443.5 402.5L443.8 402.5L443.9 401.9L443.7 401.8L443.8 401.2L438.3 400.1L438.5 399.4L443.1 400.4L443.3 399.7L442.2 399.5L442.4 398.8L443.8 399.2L443.9 398.5L444.7 398.7L444.8 398.1L444.1 397.9L444.2 397.2L445.0 397.4L445.2 396.8L445.1 396.8L445.3 396.2L445.1 396.1L445.3 395.5L445.7 395.6L445.9 395.0L446.3 395.1L446.5 394.5L446.1 394.4L446.3 393.7L446.7 393.9L446.9 393.2L446.3 393.1L446.5 392.4L446.8 392.5L447.0 391.9L446.6 391.8L446.8 391.2L446.9 391.2L447.1 390.6L446.7 390.5L447.0 389.8L447.1 389.9L447.3 389.3L445.9 388.8L446.1 388.2L445.8 388.0L446.0 387.4L443.8 386.6L444.1 386.0L446.4 386.9L446.7 386.2L446.3 386.1L446.6 385.5L447.7 385.9L448.0 385.3L447.9 385.3L448.2 384.7L446.4 384.0L446.7 383.4L448.2 384.0L448.4 383.4L448.1 383.2L448.3 382.6L448.6 382.7L448.8 382.1L449.7 382.5L450.0 381.9L449.7 381.8L450.0 381.2L448.3 380.4L448.5 379.8L447.9 379.5L448.2 378.9L449.4 379.4L449.7 378.8L449.8 378.9L450.1 378.3L450.8 378.7L451.1 378.1L451.1 378.1L451.4 377.5L451.4 377.5L451.7 376.9L452.1 377.1L452.4 376.5L451.8 376.2L452.1 375.6L451.5 375.3L451.8 374.7L452.4 375.0L452.7 374.5L451.8 374.0L452.2 373.4L453.0 373.8L453.3 373.3L453.1 373.2L453.5 372.6L454.0 372.9L454.4 372.3L454.2 372.3L454.5 371.7L454.3 371.5L454.6 371.0L454.6 371.0L455.0 370.4L454.6 370.2L454.9 369.6L455.6 370.0L455.9 369.4L455.9 369.4L456.2 368.9L451.9 366.1L452.3 365.5L455.7 367.8L456.1 367.2L456.3 367.3L456.6 366.7L456.9 366.9L457.3 366.4L457.6 366.6L458.0 366.0L457.7 365.9L458.0 365.3L458.3 365.5L458.7 365.0L458.3 364.7L458.7 364.1L458.8 364.2L459.2 363.7L462.1 365.8A91.6 91.6 0 0 0 444.5 414.9ZM463.4 364.0L458.3 360.1L458.7 359.5L462.0 362.1L462.4 361.6L462.0 361.2L462.4 360.7L458.1 357.3L458.5 356.7L459.2 357.3L459.6 356.7L463.1 359.6L463.5 359.1L464.1 359.6L464.5 359.1L464.0 358.7L464.4 358.2L464.7 358.4L465.1 357.9L465.2 357.9L465.6 357.4L465.3 357.1L465.7 356.6L462.5 353.7L462.9 353.2L466.2 356.2L466.6 355.7L465.6 354.8L466.1 354.3L463.2 351.6L463.7 351.1L467.4 354.6L467.9 354.1L467.7 354.0L468.2 353.5L467.7 353.1L468.2 352.6L465.9 350.4L466.4 349.9L469.6 353.1L470.1 352.7L469.5 352.1L470.0 351.6L470.6 352.3L471.1 351.8L469.7 350.4L470.2 349.9L468.8 348.4L469.3 347.9L472.3 351.2L472.8 350.8L472.3 350.2L472.8 349.8L472.9 349.9L473.4 349.4L472.9 348.9L473.4 348.5L473.2 348.2L473.7 347.8L474.1 348.3L474.6 347.9L473.8 346.9L474.3 346.4L474.6 346.9L475.1 346.5L473.3 344.2L473.8 343.7L475.5 345.9L476.1 345.5L472.6 341.2L473.2 340.8L476.0 344.3L476.5 343.9L477.4 345.1L477.9 344.7L478.1 344.9L478.7 344.5L478.9 344.8L479.4 344.4L478.8 343.6L479.3 343.2L476.6 339.4L477.1 339.0L480.6 343.8L481.1 343.4L481.3 343.6L481.8 343.2L481.1 342.3L481.7 341.9L482.1 342.5L482.7 342.2L482.9 342.5L483.4 342.1L483.2 341.8L483.7 341.4L484.1 342.0L484.7 341.7L484.7 341.7L485.2 341.4L485.2 341.2L485.7 340.9L485.2 340.1L485.8 339.8L483.8 336.6L484.4 336.2L486.5 339.6L487.0 339.3L483.5 333.5L484.1 333.1L487.5 338.8L488.0 338.4L487.9 338.2L488.5 337.9L485.2 332.3L485.8 331.9L489.1 337.6L489.7 337.3L489.7 337.3L490.3 337.0L490.6 337.6L491.1 337.2L491.1 337.1L491.7 336.8L491.7 336.9L492.3 336.6L489.3 330.9L489.9 330.5L492.2 335.0L492.8 334.7L491.8 332.8L492.4 332.5L492.1 331.8L492.7 331.5L492.2 330.4L492.8 330.1L494.4 333.4L495.0 333.2L495.3 333.8L495.9 333.5L497.4 336.8A91.6 91.6 0 0 0 463.4 364.0ZM499.5 335.9L497.9 332.2L498.5 331.9L498.9 332.8L499.5 332.5L499.2 331.8L499.8 331.6L499.8 331.5L500.4 331.3L500.5 331.6L501.1 331.3L501.2 331.6L501.9 331.4L500.8 328.7L501.5 328.5L502.3 330.6L502.9 330.3L501.2 325.6L501.8 325.3L503.5 330.0L504.1 329.8L504.3 330.1L504.9 329.9L505.0 330.1L505.6 329.9L504.4 326.3L505.1 326.1L505.5 327.4L506.1 327.2L507.3 330.7L507.9 330.5L507.5 329.4L508.2 329.2L507.6 327.2L508.2 327.0L509.1 330.0L509.8 329.8L509.3 328.3L510.0 328.1L509.9 327.9L510.5 327.7L510.8 328.7L511.5 328.6L511.4 328.5L512.1 328.3L512.1 328.4L512.8 328.3L512.8 328.5L513.5 328.3L512.5 324.2L513.1 324.1L514.2 328.3L514.8 328.2L513.2 321.3L513.9 321.1L515.4 327.6L516.0 327.5L515.9 327.1L516.6 327.0L515.7 322.5L516.3 322.4L517.3 327.1L517.9 327.0L517.8 326.5L518.5 326.4L518.6 327.1L519.3 327.0L519.2 326.6L519.9 326.4L519.8 326.0L520.5 325.9L520.6 327.0L521.3 326.9L521.2 326.0L521.8 325.9L522.0 326.8L522.6 326.7L521.8 321.3L522.5 321.2L522.7 322.1L523.3 322.0L523.9 326.6L524.6 326.5L524.4 325.0L525.1 324.9L525.1 324.9L525.7 324.8L525.8 325.0L526.4 324.9L526.5 326.0L527.2 326.0L527.2 326.3L527.9 326.2L528.1 328.6A91.6 91.6 0 0 0 499.5 335.9Z" fill="#41ab5d" stroke="#41ab5d" stroke-width="0.15" stroke-linejoin="round"/><path d="M540.2 341.8L540.6 335.2L541.2 335.3L541.1 336.5L541.7 336.5L541.7 336.7L542.3 336.7L542.3 335.5L542.9 335.5L542.9 335.7L543.5 335.8L543.4 336.5L544.0 336.5L544.0 336.3L544.6 336.3L544.8 334.6L545.4 334.7L545.3 335.5L545.9 335.5L545.9 335.9L546.4 336.0L546.4 336.1L547.0 336.2L547.0 336.3L547.6 336.4L547.7 335.3L548.3 335.4L548.2 336.4L548.8 336.5L548.8 336.4L549.4 336.5L549.4 336.3L550.0 336.4L550.0 336.3L550.6 336.4L550.5 336.7L551.1 336.8L551.2 336.2L551.8 336.3L551.6 337.2L552.2 337.4L552.2 337.0L552.8 337.1L552.7 337.6L553.3 337.7L553.4 337.2L554.0 337.3L553.8 338.2L554.4 338.3L554.4 338.2L555.0 338.3L555.0 338.2L555.6 338.3L555.7 338.0L556.2 338.1L556.1 338.4L556.7 338.6L556.9 338.0L557.4 338.1L557.4 338.1L558.0 338.2L558.0 338.4L558.5 338.5L558.8 337.8L559.3 337.9L559.1 338.7L559.7 338.8L559.7 338.6L560.3 338.8L560.6 337.9L561.2 338.1L561.1 338.3L561.6 338.5L561.8 338.0L562.4 338.2L562.1 339.1L562.6 339.3L562.6 339.3L563.2 339.5L563.1 339.6L563.7 339.8L563.8 339.5L564.4 339.7L564.1 340.5L564.6 340.7L564.8 340.3L565.3 340.5L565.2 340.8L565.8 341.0L566.0 340.6L566.5 340.8L566.3 341.4L566.8 341.6L566.9 341.4L567.4 341.7L567.7 341.0L568.2 341.3L567.8 342.2L568.4 342.4L569.0 341.0L569.5 341.2L570.3 339.4L570.9 339.7L569.6 342.5L570.2 342.7L570.3 342.4L570.8 342.7L570.5 343.3L571.1 343.6L571.5 342.6L572.1 342.9L571.9 343.1L572.5 343.4L572.7 342.9L573.2 343.2L573.0 343.7L573.5 344.0L573.6 343.7L574.2 343.9L575.1 342.0L575.7 342.3L575.6 342.4L576.2 342.6L575.2 344.5L575.7 344.8L575.6 345.1L576.1 345.4L576.5 344.7L577.0 345.0L576.8 345.3L577.3 345.6L577.1 345.9L577.6 346.2L577.6 346.3L578.1 346.6L578.1 346.7L578.6 347.0L578.4 347.3L578.9 347.6L579.0 347.5L579.5 347.8L580.0 346.9L580.5 347.2L579.9 348.3L580.4 348.6L580.7 348.0L581.2 348.3L581.0 348.7L581.5 349.0L582.7 347.1L583.2 347.4L582.2 349.0L582.7 349.3L582.2 350.0L582.7 350.4L583.5 349.1L584.0 349.5L583.3 350.4L583.8 350.8L584.0 350.4L584.5 350.8L584.5 350.7L585.0 351.1L584.8 351.4L585.3 351.7L585.6 351.3L586.1 351.7L586.7 350.8L587.2 351.2L586.5 352.1L586.9 352.5L586.8 352.6L587.3 353.0L587.7 352.4L588.2 352.8L588.9 351.9L589.4 352.3L588.4 353.4L588.9 353.8L588.9 353.8L589.4 354.1L589.1 354.5L589.6 354.8L589.9 354.5L590.3 354.8L590.5 354.7L590.9 355.1L590.5 355.5L591.0 355.9L593.4 353.0L593.9 353.4L593.7 353.7L594.2 354.1L591.9 356.6L592.4 357.0L592.3 357.0L592.8 357.4L593.3 356.9L593.7 357.3L594.3 356.7L594.7 357.1L594.2 357.6L594.6 358.0L593.9 358.8L594.4 359.2L595.2 358.3L595.6 358.7L595.1 359.3L595.5 359.7L595.8 359.4L596.2 359.8L595.7 360.3L596.1 360.7L596.3 360.6L596.7 361.0L597.2 360.5L597.6 361.0L598.8 359.8L599.2 360.2L597.3 362.1L597.7 362.5L597.8 362.4L598.2 362.8L598.3 362.7L598.7 363.2L598.5 363.3L598.9 363.8L599.1 363.6L599.5 364.0L599.6 363.9L600.0 364.4L600.2 364.2L600.5 364.7L601.0 364.3L601.4 364.7L600.8 365.3L601.2 365.7L601.8 365.1L602.2 365.6L601.3 366.3L601.7 366.8L602.1 366.5L602.4 367.0L602.5 367.0L602.8 367.4L602.7 367.5L603.1 368.0L603.2 367.9L603.6 368.3L604.9 367.3L605.2 367.8L604.7 368.3L605.0 368.7L604.1 369.4L604.5 369.9L606.3 368.5L606.7 369.0L605.0 370.2L605.4 370.7L605.6 370.6L605.9 371.0L607.7 369.8L608.1 370.3L606.2 371.6L606.5 372.1L606.4 372.2L606.7 372.7L606.5 372.8L606.9 373.3L607.0 373.2L607.3 373.7L607.1 373.8L607.5 374.3L607.2 374.4L607.6 374.9L607.7 374.9L608.0 375.4L608.2 375.2L608.5 375.7L609.0 375.4L609.3 375.9L609.5 375.8L609.8 376.4L609.1 376.8L609.4 377.3L609.3 377.3L609.6 377.8L609.8 377.7L610.1 378.2L609.9 378.4L610.2 378.9L610.6 378.6L610.9 379.1L610.8 379.2L611.1 379.7L610.7 379.9L611.0 380.4L610.3 380.8L610.6 381.3L610.4 381.4L610.7 381.9L611.3 381.6L611.5 382.2L611.5 382.2L611.7 382.7L611.4 382.9L611.7 383.4L611.6 383.4L611.8 384.0L612.4 383.7L612.7 384.2L612.4 384.4L612.6 384.9L613.0 384.7L613.2 385.3L613.1 385.3L613.4 385.8L613.0 386.0L613.3 386.5L614.1 386.2L614.3 386.7L614.6 386.6L614.8 387.1L614.1 387.4L614.3 388.0L614.6 387.9L614.9 388.4L614.8 388.5L615.0 389.0L615.1 389.0L615.3 389.5L615.8 389.3L616.0 389.9L617.9 389.2L618.1 389.7L615.3 390.8L615.5 391.3L615.5 391.3L615.7 391.9L616.0 391.8L616.2 392.3L616.5 392.3L616.6 392.8L616.5 392.9L616.7 393.4L617.6 393.1L617.7 393.7L616.8 394.0L617.0 394.6L616.4 394.7L616.6 395.3L616.4 395.4L616.5 395.9L616.7 395.9L616.8 396.5L616.7 396.5L616.8 397.1L617.4 396.9L617.6 397.5L617.2 397.6L617.3 398.2L617.3 398.2L617.5 398.7L617.5 398.7L617.7 399.3L618.0 399.2L618.1 399.8L617.8 399.9L617.9 400.4L618.5 400.3L618.7 400.9L619.2 400.7L619.3 401.3L621.8 400.8L621.9 401.4L618.6 402.1L618.7 402.7L618.6 402.7L618.8 403.3L619.0 403.2L619.1 403.8L618.6 403.9L618.7 404.5L618.5 404.5L618.6 405.1L620.5 404.7L620.6 405.3L619.7 405.5L619.8 406.1L619.2 406.2L619.3 406.8L619.2 406.8L619.3 407.3L620.2 407.2L620.3 407.8L620.2 407.8L620.2 408.4L620.2 408.4L620.3 409.0L620.8 408.9L620.9 409.5L620.2 409.6L620.3 410.2L619.8 410.2L619.9 410.8L619.5 410.9L619.6 411.4L620.3 411.4L620.3 412.0L620.7 411.9L620.7 412.5L619.9 412.6L619.9 413.2L622.6 413.0L622.6 413.6L619.9 413.8L620.0 414.4L621.0 414.3L621.0 414.9L620.4 414.9L620.4 415.5L620.3 415.5L620.3 416.1L620.3 416.1L620.3 416.7L620.9 416.7L620.9 417.3L620.3 417.3L620.3 417.9L622.3 417.8L622.3 418.4L620.7 418.4L620.7 419.0L621.5 419.0L621.5 419.6L620.9 419.6L620.9 420.2L621.1 420.2L621.1 420.8L620.7 420.8L620.6 421.4L620.5 421.4L620.5 422.0L620.9 422.0L620.9 422.6L620.7 422.6L620.7 423.2L621.4 423.2L621.4 423.8L620.7 423.8L620.7 424.4L620.2 424.3L620.2 424.9L621.4 425.0L621.4 425.6L620.2 425.5L620.2 426.1L620.6 426.1L620.5 426.7L620.2 426.7L620.1 427.3L620.4 427.3L620.4 427.9L619.9 427.9L619.9 428.4L619.7 428.4L619.7 429.0L620.2 429.1L620.1 429.7L619.9 429.6L619.8 430.2L621.3 430.4L621.2 431.0L619.9 430.8L619.8 431.4L621.1 431.6L621.0 432.2L620.4 432.1L620.4 432.7L620.7 432.7L620.6 433.3L619.7 433.2L619.6 433.8L619.7 433.8L619.6 434.4L619.7 434.4L619.6 435.0L620.0 435.0L619.9 435.6L619.4 435.5L619.3 436.1L619.9 436.2L619.8 436.8L619.6 436.8L619.5 437.4L619.0 437.3L618.9 437.8L620.6 438.2L620.4 438.8L619.5 438.6L619.4 439.2L618.7 439.0L618.6 439.6L618.2 439.5L618.1 440.1L617.9 440.0L617.7 440.6L617.8 440.6L617.7 441.2L617.7 441.2L617.6 441.8L617.9 441.8L617.7 442.4L618.0 442.5L617.8 443.0L617.4 442.9L617.3 443.5L617.3 443.5L617.2 444.1L617.4 444.2L617.2 444.7L617.7 444.9L617.5 445.4L617.7 445.5L617.5 446.1L616.8 445.8L616.6 446.4L610.3 444.3A78.2 78.2 0 0 0 540.2 341.8ZM609.7 446.1L615.5 448.2L615.3 448.8L615.5 448.8L615.3 449.4L615.3 449.4L615.1 450.0L615.0 449.9L614.8 450.5L614.5 450.4L614.3 450.9L615.6 451.4L615.4 452.0L614.5 451.6L614.3 452.2L614.9 452.4L614.7 453.0L614.3 452.8L614.1 453.4L614.0 453.3L613.7 453.9L612.9 453.5L612.7 454.0L613.2 454.3L613.0 454.8L613.4 455.0L613.2 455.6L612.7 455.4L612.5 455.9L613.2 456.2L612.9 456.8L612.1 456.3L611.8 456.9L611.6 456.8L611.4 457.3L612.7 457.9L612.4 458.5L611.7 458.1L611.4 458.6L611.1 458.5L610.9 459.0L610.5 458.9L610.3 459.4L610.2 459.3L609.9 459.9L611.2 460.5L610.9 461.1L610.5 460.8L610.2 461.4L609.4 460.9L609.1 461.4L609.2 461.5L608.9 462.0L610.4 462.9L610.1 463.4L608.4 462.4L608.1 462.9L608.7 463.2L608.4 463.7L608.1 463.5L607.8 464.0L607.6 463.9L607.3 464.4L606.9 464.2L606.6 464.7L607.0 464.9L606.7 465.4L607.2 465.7L606.8 466.2L607.6 466.7L607.2 467.2L606.7 466.8L606.3 467.3L606.2 467.3L605.9 467.7L606.0 467.8L605.6 468.3L605.2 468.0L604.8 468.4L605.5 468.9L605.2 469.4L604.6 468.9L604.2 469.4L605.6 470.4L605.3 470.9L603.7 469.8L603.4 470.3L603.7 470.5L603.4 471.0L605.1 472.3L604.7 472.8L602.5 471.1L602.2 471.6L602.3 471.6L601.9 472.1L602.9 472.9L602.6 473.4L602.6 473.4L602.3 473.9L602.1 473.8L601.7 474.2L601.2 473.8L600.8 474.2L602.2 475.4L601.8 475.8L600.5 474.8L600.2 475.2L600.7 475.7L600.3 476.2L600.7 476.5L600.3 476.9L600.1 476.8L599.7 477.2L599.4 476.9L599.0 477.4L598.1 476.6L597.7 477.0L598.9 478.1L598.5 478.5L597.4 477.5L597.0 477.9L598.0 478.9L597.5 479.3L596.7 478.5L596.3 478.9L596.1 478.7L595.7 479.1L595.8 479.2L595.4 479.6L595.2 479.5L594.8 479.9L595.3 480.4L594.9 480.8L595.2 481.1L594.7 481.5L594.4 481.2L594.0 481.6L593.7 481.3L593.3 481.7L593.4 481.9L593.0 482.3L592.9 482.1L592.4 482.5L593.1 483.2L592.6 483.6L591.9 482.8L591.5 483.2L592.1 484.0L591.7 484.4L591.4 484.0L590.9 484.4L591.0 484.5L590.6 484.9L590.1 484.3L589.7 484.7L590.5 485.7L590.0 486.1L589.6 485.5L589.1 485.9L588.8 485.5L588.4 485.9L588.4 486.0L588.0 486.3L588.5 487.0L588.0 487.3L587.9 487.2L587.4 487.5L587.6 487.8L587.1 488.1L588.0 489.4L587.5 489.7L586.8 488.7L586.3 489.1L586.5 489.3L586.0 489.7L585.4 488.9L585.0 489.2L585.0 489.3L584.6 489.7L584.1 489.1L583.7 489.4L583.8 489.6L583.3 489.9L583.6 490.4L583.1 490.7L582.8 490.2L582.3 490.6L582.3 490.5L581.8 490.9L581.8 490.9L581.3 491.2L581.2 491.0L580.7 491.3L580.4 490.9L579.9 491.2L580.4 492.0L579.9 492.3L579.9 492.3L579.4 492.6L579.5 492.7L579.0 493.0L578.6 492.5L578.1 492.8L578.1 492.8L577.6 493.1L577.8 493.3L577.3 493.6L577.9 494.7L577.4 495.0L576.9 494.2L576.4 494.5L576.2 494.1L575.7 494.4L575.9 494.8L575.4 495.1L575.3 494.9L574.7 495.1L574.5 494.7L574.0 495.0L574.2 495.4L573.7 495.6L573.7 495.8L573.2 496.1L573.4 496.4L572.8 496.7L572.5 495.9L572.0 496.2L572.4 497.2L571.9 497.4L571.7 497.0L571.2 497.3L571.1 497.2L570.6 497.4L570.4 497.0L569.9 497.2L570.0 497.7L569.5 497.9L569.5 497.9L568.9 498.1L568.9 498.0L568.3 498.2L568.8 499.3L568.3 499.6L567.9 498.6L567.3 498.8L567.3 498.7L566.7 498.9L566.6 498.6L566.1 498.8L566.0 498.7L565.5 498.9L565.7 499.6L565.2 499.8L565.2 500.0L564.7 500.2L564.7 500.3L564.2 500.5L564.0 500.2L563.5 500.4L563.6 500.8L563.1 501.0L562.8 500.4L562.3 500.6L562.1 500.1L561.6 500.2L561.6 500.4L561.1 500.6L561.2 501.2L560.7 501.4L560.4 500.6L559.9 500.8L559.7 500.3L559.2 500.4L559.4 501.1L558.8 501.3L559.0 501.9L558.4 502.1L558.1 501.1L557.6 501.2L557.5 500.9L556.9 501.1L557.1 501.7L556.5 501.9L556.6 502.1L556.0 502.3L555.9 501.9L555.4 502.1L555.4 502.3L554.8 502.5L554.9 502.6L554.3 502.7L554.2 502.3L553.6 502.4L553.7 502.7L553.1 502.8L553.2 503.1L552.6 503.2L552.6 503.5L552.1 503.6L552.2 504.2L551.6 504.3L551.4 503.1L550.8 503.2L550.7 502.7L550.1 502.8L550.1 502.6L549.5 502.7L549.6 503.3L549.0 503.4L548.9 502.6L548.3 502.7L548.3 502.5L547.7 502.6L547.7 502.6L547.1 502.7L547.1 502.5L546.5 502.6L546.6 503.4L546.1 503.4L546.1 503.9L545.5 504.0L545.5 504.2L545.0 504.3L544.9 503.7L544.3 503.7L544.4 504.3L543.8 504.4L543.7 503.6L543.1 503.7L543.1 503.9L542.6 504.0L542.5 503.8L542.0 503.8L542.0 503.8L541.4 503.9L541.4 503.6L540.8 503.6L540.8 503.7L540.2 503.8L540.2 504.4L539.6 504.4L539.7 505.1L539.1 505.1L539.0 503.5L538.4 503.5L538.4 504.1L537.9 504.1L537.9 504.1L537.3 504.1L537.3 505.5L536.7 505.5L536.7 504.9L536.1 504.9L536.1 504.5L535.5 504.5L535.5 504.4L534.9 504.4L534.9 504.3L534.3 504.3L534.3 504.4L533.7 504.4L533.7 505.3L533.1 505.3L533.1 505.5L532.5 505.5L532.6 504.4L532.0 504.4L532.0 504.4L531.4 504.4L531.4 504.1L530.8 504.1L530.8 505.0L530.2 504.9L530.2 504.3L529.6 504.2L529.6 504.4L529.0 504.4L529.0 505.1L528.4 505.0L528.4 504.3L527.8 504.2L527.9 504.0L527.3 503.9L527.2 504.8L526.6 504.8L526.6 504.3L526.0 504.3L526.1 503.9L525.5 503.8L525.4 504.4L524.9 504.3L524.8 504.6L524.2 504.5L524.3 504.3L523.7 504.2L523.6 504.9L523.0 504.8L523.2 503.6L522.6 503.5L522.3 505.4L521.7 505.3L522.0 503.6L521.4 503.5L521.4 503.6L520.8 503.5L520.7 503.8L520.1 503.7L520.1 504.1L519.5 504.0L519.4 504.1L518.9 504.0L519.1 502.9L518.5 502.8L518.5 502.7L518.0 502.5L518.0 502.3L517.4 502.2L517.2 503.0L516.7 502.9L516.8 502.3L516.2 502.1L516.1 502.6L515.5 502.5L515.8 501.6L515.2 501.5L515.0 502.1L514.4 502.0L514.5 501.6L514.0 501.5L513.7 502.4L513.1 502.2L513.4 501.5L512.8 501.3L512.7 501.5L512.2 501.4L512.1 501.4L511.6 501.2L511.6 501.2L511.0 501.0L511.1 500.9L510.5 500.7L510.6 500.3L510.1 500.2L510.1 500.0L509.5 499.8L509.6 499.7L509.0 499.5L509.0 499.6L508.4 499.4L508.5 499.3L507.9 499.1L507.8 499.5L507.2 499.3L507.3 499.2L506.7 499.0L506.6 499.3L506.1 499.1L506.1 499.1L505.5 498.9L505.5 498.8L505.0 498.6L504.8 498.9L504.3 498.7L503.9 499.6L503.4 499.4L503.2 499.9L502.6 499.7L502.8 499.3L502.2 499.1L502.8 497.7L502.3 497.5L501.7 498.7L501.2 498.5L501.5 497.7L501.0 497.4L501.0 497.3L500.5 497.1L500.4 497.2L499.9 496.9L500.2 496.3L499.7 496.0L499.1 497.3L498.5 497.1L498.8 496.5L498.3 496.2L498.6 495.5L498.1 495.3L497.7 496.0L497.2 495.7L497.3 495.6L496.7 495.3L497.0 494.9L496.4 494.6L496.3 494.8L495.8 494.5L495.8 494.5L495.3 494.2L495.0 494.8L494.5 494.5L495.0 493.5L494.5 493.2L494.4 493.5L493.8 493.2L494.2 492.6L493.7 492.3L493.6 492.5L493.0 492.2L492.7 492.7L492.2 492.4L491.7 493.3L491.2 493.0L492.0 491.7L491.5 491.4L491.2 491.9L490.7 491.6L490.4 492.1L489.9 491.8L490.6 490.6L490.1 490.3L489.7 491.0L489.2 490.6L489.3 490.5L488.8 490.2L487.3 492.4L486.8 492.0L491.9 484.5A78.2 78.2 0 0 0 609.7 446.1ZM490.4 483.4L486.8 488.3L486.3 488.0L486.1 488.3L485.7 487.9L486.1 487.4L485.6 487.0L485.9 486.6L485.4 486.3L485.1 486.7L484.7 486.3L484.1 487.0L483.7 486.7L483.5 486.8L483.0 486.5L483.5 485.8L483.1 485.5L483.2 485.3L482.7 485.0L483.0 484.6L482.6 484.2L482.1 484.8L481.6 484.4L481.6 484.5L481.2 484.1L481.2 484.1L480.7 483.7L480.5 483.9L480.1 483.5L480.6 483.0L480.2 482.6L480.1 482.7L479.6 482.3L479.8 482.1L479.4 481.7L478.7 482.4L478.3 482.0L478.7 481.6L478.3 481.2L476.5 483.0L476.1 482.6L477.7 480.9L477.2 480.5L477.4 480.3L477.0 479.9L477.1 479.8L476.7 479.4L476.6 479.5L476.2 479.1L476.1 479.2L475.7 478.8L475.3 479.1L474.9 478.7L474.4 479.2L474.0 478.8L474.4 478.3L474.0 477.9L474.5 477.5L474.1 477.1L472.9 478.1L472.5 477.7L473.4 476.9L473.0 476.4L473.0 476.5L472.6 476.0L472.4 476.1L472.0 475.7L471.6 476.1L471.2 475.6L471.9 475.0L471.5 474.6L470.9 475.1L470.5 474.7L471.1 474.2L470.7 473.7L469.9 474.4L469.5 473.9L470.5 473.1L470.1 472.7L469.5 473.2L469.2 472.7L468.5 473.2L468.1 472.7L469.3 471.9L468.9 471.4L468.1 472.0L467.7 471.5L467.9 471.4L467.6 470.9L467.0 471.3L466.7 470.8L468.1 469.8L467.7 469.3L466.7 470.1L466.3 469.6L467.2 469.0L466.8 468.5L466.8 468.5L466.5 468.0L466.0 468.4L465.7 467.9L466.4 467.4L466.1 466.9L465.9 467.0L465.6 466.5L465.3 466.7L464.9 466.2L465.7 465.7L465.4 465.3L464.3 465.9L464.0 465.4L464.4 465.2L464.1 464.7L465.0 464.1L464.7 463.6L464.6 463.7L464.3 463.2L463.9 463.4L463.6 462.9L464.2 462.5L463.9 462.0L462.7 462.7L462.4 462.2L463.6 461.5L463.3 461.0L461.3 462.2L461.0 461.7L460.6 461.8L460.3 461.3L462.3 460.3L462.0 459.8L461.8 459.9L461.5 459.4L461.4 459.4L461.2 458.9L460.0 459.5L459.7 458.9L460.8 458.4L460.6 457.8L459.8 458.2L459.6 457.7L459.9 457.5L459.7 457.0L459.3 457.1L459.1 456.6L460.1 456.1L459.9 455.6L460.0 455.5L459.8 455.0L459.7 455.0L459.5 454.4L459.0 454.7L458.8 454.1L458.0 454.5L457.7 453.9L458.9 453.4L458.7 452.9L458.5 453.0L458.3 452.4L458.4 452.4L458.2 451.8L458.3 451.8L458.0 451.2L457.3 451.5L457.1 451.0L456.4 451.3L456.1 450.7L456.7 450.5L456.4 450.0L457.4 449.6L457.2 449.1L456.6 449.3L456.4 448.7L456.0 448.8L455.8 448.3L456.1 448.2L455.9 447.6L455.8 447.7L455.6 447.1L454.7 447.4L454.5 446.9L455.6 446.5L455.4 445.9L455.7 445.8L455.5 445.3L454.9 445.5L454.7 444.9L455.2 444.8L455.0 444.2L455.1 444.2L454.9 443.6L455.1 443.5L455.0 443.0L454.7 443.1L454.6 442.5L455.0 442.4L454.8 441.8L454.2 442.0L454.0 441.4L453.9 441.4L453.7 440.9L452.8 441.1L452.6 440.5L453.4 440.3L453.3 439.8L453.6 439.7L453.5 439.1L453.2 439.2L453.1 438.6L453.5 438.5L453.3 437.9L453.5 437.9L453.4 437.3L453.8 437.2L453.7 436.6L452.9 436.8L452.8 436.2L453.3 436.1L453.2 435.5L453.1 435.6L453.0 435.0L452.9 435.0L452.8 434.4L452.9 434.4L452.8 433.8L451.2 434.1L451.1 433.5L452.7 433.2L452.6 432.7L452.3 432.7L452.3 432.1L451.6 432.2L451.5 431.6L451.4 431.6L451.3 431.1L452.2 430.9L452.1 430.3L451.9 430.4L451.8 429.8L452.4 429.7L452.3 429.1L452.4 429.1L452.4 428.5L452.2 428.6L452.2 428.0L452.2 428.0L452.2 427.4L452.3 427.4L452.3 426.8L452.1 426.8L452.1 426.2L451.4 426.3L451.3 425.7L452.2 425.6L452.1 425.0L451.3 425.1L451.3 424.5L451.4 424.5L451.4 423.9L451.9 423.9L451.8 423.3L451.8 423.3L451.8 422.7L451.6 422.7L451.6 422.1L450.8 422.1L450.7 421.5L451.8 421.5L451.8 420.9L451.6 420.9L451.6 420.3L451.6 420.3L451.6 419.8L448.9 419.7L448.9 419.1L451.0 419.2L451.0 418.6L451.6 418.6L451.6 418.0L450.3 418.0L450.3 417.4L457.8 417.6A78.2 78.2 0 0 0 490.4 483.4ZM457.9 415.7L450.9 415.3L451.0 414.7L451.2 414.7L451.2 414.1L452.0 414.2L452.0 413.6L451.9 413.6L452.0 413.0L451.8 413.0L451.9 412.4L451.4 412.4L451.5 411.8L452.0 411.8L452.1 411.2L451.7 411.2L451.8 410.6L451.3 410.6L451.4 410.0L451.7 410.0L451.8 409.4L451.4 409.4L451.5 408.8L452.1 408.9L452.2 408.3L452.1 408.3L452.2 407.7L452.2 407.7L452.3 407.1L452.0 407.1L452.1 406.5L452.4 406.5L452.5 406.0L451.7 405.8L451.8 405.2L452.1 405.3L452.2 404.7L453.2 404.9L453.3 404.3L453.2 404.3L453.3 403.7L453.2 403.7L453.3 403.1L453.5 403.2L453.6 402.6L453.4 402.5L453.6 402.0L454.0 402.1L454.1 401.5L454.0 401.5L454.1 400.9L453.7 400.8L453.9 400.2L453.6 400.2L453.7 399.6L453.5 399.5L453.7 399.0L454.3 399.1L454.4 398.6L454.3 398.5L454.4 397.9L454.9 398.1L455.1 397.5L454.7 397.4L454.8 396.8L455.1 396.9L455.3 396.4L455.1 396.3L455.3 395.7L455.4 395.8L455.6 395.2L455.6 395.2L455.8 394.7L455.5 394.6L455.7 394.0L456.4 394.3L456.6 393.7L456.5 393.7L456.7 393.1L455.2 392.6L455.3 392.0L455.2 392.0L455.4 391.4L456.7 391.9L456.9 391.3L457.2 391.4L457.4 390.9L457.2 390.8L457.4 390.3L456.0 389.7L456.2 389.2L457.3 389.6L457.5 389.1L456.7 388.7L456.9 388.2L457.4 388.4L457.6 387.8L456.6 387.4L456.9 386.9L456.7 386.8L456.9 386.3L457.6 386.5L457.8 386.0L457.6 385.9L457.8 385.4L458.2 385.5L458.4 385.0L458.9 385.2L459.1 384.6L458.4 384.3L458.7 383.8L459.1 384.0L459.3 383.4L459.9 383.7L460.1 383.2L459.4 382.8L459.7 382.3L460.2 382.6L460.5 382.0L460.0 381.8L460.3 381.3L461.0 381.7L461.3 381.1L461.0 381.0L461.2 380.4L461.0 380.3L461.3 379.8L462.0 380.2L462.3 379.7L461.6 379.3L461.9 378.8L462.0 378.9L462.3 378.4L462.5 378.4L462.8 377.9L462.4 377.7L462.6 377.2L462.3 377.0L462.6 376.5L462.9 376.6L463.2 376.1L462.8 375.9L463.1 375.4L463.6 375.7L463.9 375.2L463.9 375.2L464.2 374.7L464.0 374.5L464.3 374.0L464.3 374.0L464.6 373.5L464.9 373.7L465.2 373.2L465.2 373.2L465.6 372.7L465.3 372.6L465.6 372.1L466.1 372.4L466.4 371.9L465.8 371.5L466.1 371.0L466.1 371.0L466.5 370.5L466.8 370.7L467.1 370.2L467.3 370.3L467.6 369.8L472.9 373.7A78.2 78.2 0 0 0 457.9 415.7ZM474.0 372.2L469.0 368.3L469.4 367.9L469.7 368.1L470.1 367.6L469.2 366.9L469.5 366.5L470.6 367.3L471.0 366.9L470.2 366.3L470.6 365.8L470.5 365.8L470.9 365.3L470.9 365.3L471.3 364.8L471.5 365.0L471.8 364.5L471.8 364.5L472.1 364.0L471.9 363.8L472.3 363.4L472.8 363.8L473.2 363.4L472.9 363.1L473.3 362.7L473.2 362.6L473.6 362.1L474.1 362.6L474.5 362.1L472.9 360.7L473.4 360.3L474.4 361.3L474.9 360.9L475.2 361.2L475.6 360.8L475.9 361.1L476.3 360.7L476.0 360.3L476.4 359.9L476.7 360.3L477.2 359.9L477.1 359.8L477.5 359.4L477.0 358.9L477.5 358.5L478.1 359.2L478.6 358.8L478.6 358.9L479.0 358.5L478.6 357.9L479.0 357.6L479.4 358.0L479.8 357.6L479.3 357.1L479.8 356.7L478.2 354.8L478.6 354.4L480.2 356.2L480.6 355.8L479.8 354.9L480.3 354.6L480.8 355.2L481.3 354.8L481.6 355.2L482.1 354.8L482.1 354.8L482.5 354.4L482.3 354.2L482.8 353.8L482.6 353.6L483.1 353.3L483.3 353.5L483.8 353.2L484.2 353.7L484.6 353.3L483.9 352.4L484.4 352.1L484.3 352.0L484.8 351.6L485.4 352.4L485.8 352.0L486.0 352.2L486.4 351.8L486.0 351.2L486.4 350.8L486.8 351.3L487.3 351.0L486.6 350.0L487.1 349.7L487.9 350.8L488.4 350.5L488.2 350.2L488.6 349.9L488.5 349.6L489.0 349.3L489.3 349.8L489.8 349.4L489.7 349.3L490.2 349.0L489.2 347.4L489.7 347.1L490.5 348.3L491.0 348.0L490.6 347.4L491.1 347.1L491.8 348.3L492.3 348.0L492.1 347.6L492.6 347.3L492.2 346.7L492.7 346.4L493.0 346.8L493.5 346.5L493.2 346.1L493.8 345.8L494.2 346.5L494.7 346.2L494.2 345.4L494.7 345.1L494.3 344.3L494.8 344.0L495.9 346.1L496.5 345.8L496.6 346.0L497.1 345.7L496.6 344.8L497.1 344.5L497.4 345.2L498.0 344.9L498.0 345.0L498.5 344.8L498.1 343.8L498.6 343.6L499.3 345.0L499.8 344.7L499.9 344.9L500.4 344.6L500.3 344.3L500.8 344.0L503.1 349.0A78.2 78.2 0 0 0 474.0 372.2ZM504.8 348.2L502.3 342.3L502.8 342.1L502.7 341.9L503.3 341.7L503.4 341.9L503.9 341.7L503.8 341.4L504.4 341.2L504.6 341.7L505.1 341.4L505.2 341.6L505.7 341.4L505.9 341.8L506.5 341.6L506.2 341.0L506.8 340.7L507.0 341.3L507.5 341.1L507.4 340.8L508.0 340.6L508.2 341.2L508.7 341.0L508.3 339.8L508.9 339.6L509.1 340.2L509.6 340.0L509.5 339.5L510.0 339.3L510.0 339.2L510.6 339.1L510.9 340.0L511.4 339.8L511.2 339.1L511.8 338.9L512.0 339.5L512.5 339.3L512.6 339.5L513.1 339.3L512.9 338.6L513.5 338.4L513.6 338.8L514.2 338.6L514.2 338.6L514.7 338.5L514.8 338.6L515.3 338.4L515.2 337.8L515.8 337.7L515.5 336.6L516.1 336.5L516.4 337.9L517.0 337.8L517.0 337.8L517.6 337.7L517.5 337.2L518.1 337.1L517.9 336.2L518.5 336.1L518.5 336.0L519.1 335.9L519.2 336.6L519.8 336.5L519.8 336.6L520.4 336.5L520.5 337.1L521.1 337.0L521.0 336.6L521.6 336.5L521.4 335.2L522.0 335.1L521.9 334.8L522.5 334.7L522.6 335.3L523.2 335.2L523.3 335.9L523.9 335.8L524.0 336.5L524.6 336.4L524.6 336.2L525.2 336.2L525.2 336.8L525.8 336.7L525.8 336.1L526.3 336.0L526.4 336.2L527.0 336.1L527.0 336.5L527.6 336.5L527.6 336.2L528.2 336.1L528.1 336.0L528.7 336.0L529.3 342.0A78.2 78.2 0 0 0 504.8 348.2Z" fill="#ef3b2c" stroke="#ef3b2c" stroke-width="0.15" stroke-linejoin="round"/><g font-family="'Liberation Sans', Arial, sans-serif" font-size="5.8" fill="#000" stroke="#000" stroke-width="0.12" text-anchor="middle"><text x="534.4" y="288.0">a</text><text x="534.4" y="300.9">b</text><text x="534.4" y="313.7">c</text><text x="534.4" y="326.9">d</text><text x="534.4" y="339.9">e</text></g><g font-family="'Liberation Sans', Arial, sans-serif" font-size="5.3" fill="#000" stroke="#000" stroke-width="0.12" text-anchor="middle"><text transform="translate(650.2 341.9) rotate(55.6)">chr1</text><text transform="translate(579.8 554.2) rotate(-18.0)">chr2</text><text transform="translate(409.4 482.5) rotate(63.7)">chr3</text><text transform="translate(406.7 373.7) rotate(289.6)">chr4</text><text transform="translate(450.2 312.7) rotate(321.4)">chr5</text><text transform="translate(502.3 286.8) rotate(345.8)">chr6</text></g><g font-family="'Liberation Sans', Arial, sans-serif" font-size="6.42" fill="#000" stroke="#000" stroke-width="0.12"><text x="451.1" y="572.4">(a) chromosome, (b) gene density, (c) DNA transposon density,</text><text x="451.1" y="579.7">(d) long terminal repeat retrotransposon density, (e) GC content.</text></g></g>
<g font-family="'Liberation Sans', Arial, sans-serif" font-weight="700" font-size="29.5" fill="#000">
<text transform="translate(-0.3 21.0) scale(1.0 1.08)">A</text>
<text transform="translate(360.9 21.0) scale(0.97 1.05)">B</text>
<text transform="translate(0.1 312.55) scale(0.94 1.087)">C</text>
<text transform="translate(361.55 311.4) scale(0.94 1.026)">D</text>
</g>
</g>
</svg>
</body></html>
